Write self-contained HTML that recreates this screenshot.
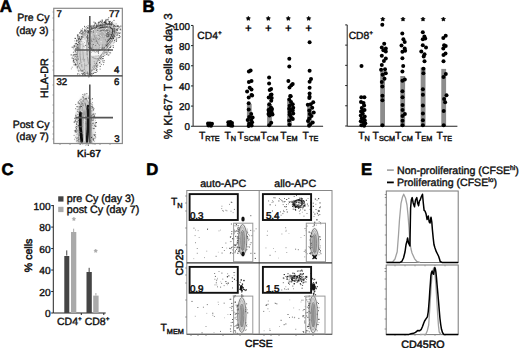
<!DOCTYPE html>
<html><head><meta charset="utf-8"><style>
html,body{margin:0;padding:0;background:#fff;width:520px;height:348px;overflow:hidden}
svg{display:block;font-family:"Liberation Sans",sans-serif;text-rendering:geometricPrecision}
</style></head><body>
<svg width="520" height="348" viewBox="0 0 520 348">
<defs>
<filter id="b05" x="-50%" y="-50%" width="200%" height="200%"><feGaussianBlur stdDeviation="0.5"/></filter>
<filter id="b1" x="-50%" y="-50%" width="200%" height="200%"><feGaussianBlur stdDeviation="1"/></filter>
<filter id="b2" x="-50%" y="-50%" width="200%" height="200%"><feGaussianBlur stdDeviation="2"/></filter>
</defs>
<rect width="520" height="348" fill="#fff"/>
<text x="-0.2" y="12.4" font-size="17" font-weight="bold" text-anchor="start" fill="#000" style="stroke:#000;stroke-width:0.6px" >A</text>
<text x="49.4" y="21.1" font-size="10.5" font-weight="normal" text-anchor="end" fill="#111" style="stroke:#111;stroke-width:0.4px" >Pre Cy</text>
<text x="48.6" y="34.2" font-size="10.5" font-weight="normal" text-anchor="end" fill="#111" style="stroke:#111;stroke-width:0.4px" >(day 3)</text>
<text x="49.4" y="127.7" font-size="10.5" font-weight="normal" text-anchor="end" fill="#111" style="stroke:#111;stroke-width:0.4px" >Post Cy</text>
<text x="48.8" y="139.9" font-size="10.5" font-weight="normal" text-anchor="end" fill="#111" style="stroke:#111;stroke-width:0.4px" >(day 7)</text>
<text transform="translate(48.2,78.1) rotate(-90)" font-size="10.7" font-weight="normal" text-anchor="middle" fill="#111" style="stroke:#111;stroke-width:0.45px">HLA-DR</text>
<text x="89" y="157" font-size="10.2" font-weight="normal" text-anchor="middle" fill="#111" style="stroke:#111;stroke-width:0.5px" >Ki-67</text>
<path d="M73.5,60.0 C73.4,56.7 74.8,50.7 75.5,47.0 C76.2,43.3 76.9,40.5 78.0,38.0 C79.1,35.5 80.3,33.7 82.0,32.0 C83.7,30.3 85.8,29.2 88.0,28.0 C90.2,26.8 92.5,25.9 95.0,25.0 C97.5,24.1 100.5,23.0 103.0,22.5 C105.5,22.0 107.9,21.8 110.0,22.0 C112.1,22.2 114.1,22.6 115.5,23.5 C116.9,24.4 118.1,25.8 118.5,27.5 C118.9,29.2 118.5,31.9 118.0,34.0 C117.5,36.1 116.6,38.0 115.5,40.0 C114.4,42.0 113.0,44.0 111.5,46.0 C110.0,48.0 108.1,50.0 106.5,52.0 C104.9,54.0 103.3,56.0 102.0,58.0 C100.7,60.0 99.7,62.0 98.5,64.0 C97.3,66.0 96.2,68.2 95.0,70.0 C93.8,71.8 92.7,73.7 91.0,74.5 C89.3,75.3 86.8,75.2 85.0,74.8 C83.2,74.4 81.5,73.3 80.0,72.0 C78.5,70.7 77.1,69.0 76.0,67.0 C74.9,65.0 73.6,63.3 73.5,60.0 Z" fill="#e2e2e2" stroke="none" stroke-width="1" opacity="1" stroke-linejoin="round" stroke-linecap="round" filter="url(#b1)"/>
<path d="M77.0,60.0 C77.0,56.8 77.8,50.5 78.5,47.0 C79.2,43.5 79.9,41.3 81.0,39.0 C82.1,36.7 83.3,34.7 85.0,33.0 C86.7,31.3 88.8,30.2 91.0,29.0 C93.2,27.8 95.7,26.8 98.0,26.0 C100.3,25.2 102.8,24.3 105.0,24.0 C107.2,23.7 109.3,23.7 111.0,24.0 C112.7,24.3 114.2,24.8 115.0,26.0 C115.8,27.2 116.2,29.2 116.0,31.0 C115.8,32.8 115.0,34.8 114.0,37.0 C113.0,39.2 111.5,41.8 110.0,44.0 C108.5,46.2 106.6,48.0 105.0,50.0 C103.4,52.0 101.8,54.0 100.5,56.0 C99.2,58.0 98.2,59.8 97.0,62.0 C95.8,64.2 94.8,67.2 93.5,69.0 C92.2,70.8 90.9,72.3 89.5,73.0 C88.1,73.7 86.4,73.5 85.0,73.0 C83.6,72.5 82.1,71.2 81.0,70.0 C79.9,68.8 79.2,67.7 78.5,66.0 C77.8,64.3 77.0,63.2 77.0,60.0 Z" fill="#d2d2d2" stroke="none" stroke-width="1" opacity="1" stroke-linejoin="round" stroke-linecap="round" filter="url(#b05)"/>
<path d="M88.0,32.0 C89.2,30.2 92.5,28.7 95.0,27.5 C97.5,26.3 100.5,25.5 103.0,25.0 C105.5,24.5 108.2,24.2 110.0,24.5 C111.8,24.8 113.2,25.8 114.0,27.0 C114.8,28.2 114.8,30.2 114.5,32.0 C114.2,33.8 113.1,36.0 112.0,38.0 C110.9,40.0 109.5,42.2 108.0,44.0 C106.5,45.8 104.8,47.3 103.0,48.5 C101.2,49.7 98.8,50.8 97.0,51.0 C95.2,51.2 93.3,51.0 92.0,50.0 C90.7,49.0 89.8,47.0 89.0,45.0 C88.2,43.0 87.7,40.2 87.5,38.0 C87.3,35.8 86.8,33.8 88.0,32.0 Z" fill="#c2c2c2" stroke="none" stroke-width="1" opacity="1" stroke-linejoin="round" stroke-linecap="round" filter="url(#b05)"/>
<ellipse cx="106" cy="33" rx="7" ry="5" transform="rotate(-25 106 33)" fill="#b0b0b0" opacity="1" filter="url(#b05)"/>
<ellipse cx="107.8" cy="34.5" rx="1.8" ry="2.8" transform="rotate(0 107.8 34.5)" fill="#666" opacity="1" filter="url(#b05)"/>
<path d="M81.5,41 C83,39 85.5,39 86,42 L86.5,50 C85,52 82.5,52 81.5,50 Z" fill="#f4f4f4" stroke="none" stroke-width="1" opacity="1" stroke-linejoin="round" stroke-linecap="round" filter="url(#b05)"/>
<path d="M91,51.5 C96,50.5 101,50.5 104.5,49.5 L103,54.5 C99,55.5 94,56 91,55.5 Z" fill="#f6f6f6" stroke="none" stroke-width="1" opacity="1" stroke-linejoin="round" stroke-linecap="round" filter="url(#b05)"/>
<path d="M77.0,60.0 C77.0,56.8 77.8,50.5 78.5,47.0 C79.2,43.5 79.9,41.3 81.0,39.0 C82.1,36.7 83.3,34.7 85.0,33.0 C86.7,31.3 88.8,30.2 91.0,29.0 C93.2,27.8 95.7,26.8 98.0,26.0 C100.3,25.2 102.8,24.3 105.0,24.0 C107.2,23.7 109.3,23.7 111.0,24.0 C112.7,24.3 114.2,24.8 115.0,26.0 C115.8,27.2 116.2,29.2 116.0,31.0 C115.8,32.8 115.0,34.8 114.0,37.0 C113.0,39.2 111.5,41.8 110.0,44.0 C108.5,46.2 106.6,48.0 105.0,50.0 C103.4,52.0 101.8,54.0 100.5,56.0 C99.2,58.0 98.2,59.8 97.0,62.0 C95.8,64.2 94.8,67.2 93.5,69.0 C92.2,70.8 90.9,72.3 89.5,73.0 C88.1,73.7 86.4,73.5 85.0,73.0 C83.6,72.5 82.1,71.2 81.0,70.0 C79.9,68.8 79.2,67.7 78.5,66.0 C77.8,64.3 77.0,63.2 77.0,60.0 Z" fill="none" stroke="#7a7a7a" stroke-width="0.7" opacity="1" stroke-linejoin="round" stroke-linecap="round"/>
<path d="M88.0,32.0 C89.2,30.2 92.5,28.7 95.0,27.5 C97.5,26.3 100.5,25.5 103.0,25.0 C105.5,24.5 108.2,24.2 110.0,24.5 C111.8,24.8 113.2,25.8 114.0,27.0 C114.8,28.2 114.8,30.2 114.5,32.0 C114.2,33.8 113.1,36.0 112.0,38.0 C110.9,40.0 109.5,42.2 108.0,44.0 C106.5,45.8 104.8,47.3 103.0,48.5 C101.2,49.7 98.8,50.8 97.0,51.0 C95.2,51.2 93.3,51.0 92.0,50.0 C90.7,49.0 89.8,47.0 89.0,45.0 C88.2,43.0 87.7,40.2 87.5,38.0 C87.3,35.8 86.8,33.8 88.0,32.0 Z" fill="none" stroke="#555" stroke-width="0.9" opacity="1" stroke-linejoin="round" stroke-linecap="round"/>
<path d="M98,28.5 C104,26.5 110,26.5 112.5,29 C113.5,33 111,38 107,42" fill="none" stroke="#444" stroke-width="1.1" opacity="1" stroke-linejoin="round" stroke-linecap="round"/>
<path d="M100,31 C104,29.5 108,29.5 110,31.5" fill="none" stroke="#555" stroke-width="0.9" opacity="1" stroke-linejoin="round" stroke-linecap="round"/>
<path d="M94,35 C96,40 98,44 100,46" fill="none" stroke="#888" stroke-width="0.7" opacity="1" stroke-linejoin="round" stroke-linecap="round"/>
<path d="M80,44 C79.5,52 80,60 82,67" fill="none" stroke="#888" stroke-width="0.7" opacity="1" stroke-linejoin="round" stroke-linecap="round"/>
<path d="M83,42 C82.5,50 83,58 85,66" fill="none" stroke="#999" stroke-width="0.7" opacity="1" stroke-linejoin="round" stroke-linecap="round"/>
<path d="M87,40 C86.5,48 87,56 88.5,64" fill="none" stroke="#888" stroke-width="0.7" opacity="1" stroke-linejoin="round" stroke-linecap="round"/>
<path d="M92,57 C96,60 100,59.5 103,56" fill="none" stroke="#888" stroke-width="0.7" opacity="1" stroke-linejoin="round" stroke-linecap="round"/>
<rect x="99.0" y="22.4" width="0.7" height="0.7" fill="#333"/><rect x="105.4" y="20.4" width="0.7" height="0.7" fill="#555"/><rect x="75.3" y="54.5" width="0.7" height="0.7" fill="#999"/><rect x="74.9" y="51.1" width="0.9" height="0.9" fill="#555"/><rect x="107.8" y="49.1" width="0.9" height="0.9" fill="#333"/><rect x="75.3" y="63.2" width="0.7" height="0.7" fill="#555"/><rect x="94.3" y="25.0" width="0.8" height="0.8" fill="#555"/><rect x="75.7" y="44.5" width="0.9" height="0.9" fill="#555"/><rect x="106.6" y="23.2" width="0.7" height="0.7" fill="#555"/><rect x="117.6" y="32.1" width="0.9" height="0.9" fill="#777"/><rect x="119.5" y="26.7" width="0.8" height="0.8" fill="#555"/><rect x="101.2" y="57.2" width="0.8" height="0.8" fill="#777"/><rect x="118.8" y="37.0" width="0.8" height="0.8" fill="#333"/><rect x="79.2" y="43.1" width="0.9" height="0.9" fill="#777"/><rect x="79.0" y="38.0" width="1.0" height="1.0" fill="#777"/><rect x="101.8" y="23.1" width="0.8" height="0.8" fill="#999"/><rect x="110.0" y="41.5" width="1.1" height="1.1" fill="#999"/><rect x="102.8" y="58.0" width="0.7" height="0.7" fill="#777"/><rect x="109.3" y="53.7" width="0.8" height="0.8" fill="#999"/><rect x="83.1" y="73.2" width="0.8" height="0.8" fill="#999"/><rect x="104.1" y="24.4" width="0.8" height="0.8" fill="#777"/><rect x="78.9" y="41.2" width="0.8" height="0.8" fill="#999"/><rect x="80.4" y="70.1" width="0.9" height="0.9" fill="#777"/><rect x="83.5" y="73.6" width="1.0" height="1.0" fill="#777"/><rect x="103.7" y="60.1" width="0.9" height="0.9" fill="#555"/><rect x="78.7" y="38.0" width="0.8" height="0.8" fill="#555"/><rect x="108.4" y="54.9" width="0.8" height="0.8" fill="#777"/><rect x="73.6" y="59.4" width="0.9" height="0.9" fill="#777"/><rect x="109.9" y="46.8" width="1.0" height="1.0" fill="#333"/><rect x="118.1" y="26.0" width="1.0" height="1.0" fill="#999"/><rect x="109.9" y="24.1" width="0.9" height="0.9" fill="#555"/><rect x="74.0" y="49.7" width="0.8" height="0.8" fill="#555"/><rect x="77.4" y="43.9" width="0.9" height="0.9" fill="#333"/><rect x="76.8" y="66.7" width="0.9" height="0.9" fill="#333"/><rect x="85.1" y="73.6" width="0.8" height="0.8" fill="#777"/><rect x="110.4" y="45.7" width="0.9" height="0.9" fill="#333"/><rect x="88.4" y="76.5" width="0.9" height="0.9" fill="#333"/><rect x="78.2" y="38.7" width="1.0" height="1.0" fill="#777"/><rect x="117.2" y="29.4" width="0.8" height="0.8" fill="#777"/><rect x="80.3" y="38.9" width="0.9" height="0.9" fill="#333"/><rect x="96.6" y="65.0" width="0.7" height="0.7" fill="#777"/><rect x="119.6" y="36.2" width="1.1" height="1.1" fill="#777"/><rect x="93.5" y="65.6" width="0.8" height="0.8" fill="#555"/><rect x="109.4" y="47.0" width="1.0" height="1.0" fill="#555"/><rect x="94.3" y="72.3" width="0.8" height="0.8" fill="#999"/><rect x="104.2" y="25.6" width="0.7" height="0.7" fill="#333"/><rect x="93.8" y="69.0" width="0.9" height="0.9" fill="#777"/><rect x="116.7" y="25.3" width="1.1" height="1.1" fill="#777"/><rect x="76.9" y="66.0" width="0.8" height="0.8" fill="#555"/><rect x="101.2" y="22.3" width="0.9" height="0.9" fill="#333"/><rect x="116.1" y="29.4" width="0.7" height="0.7" fill="#333"/><rect x="82.3" y="69.9" width="1.0" height="1.0" fill="#555"/><rect x="119.5" y="29.4" width="0.8" height="0.8" fill="#999"/><rect x="120.4" y="25.6" width="1.0" height="1.0" fill="#333"/><rect x="100.3" y="61.3" width="0.8" height="0.8" fill="#999"/><rect x="93.9" y="72.1" width="0.8" height="0.8" fill="#999"/><rect x="104.5" y="51.8" width="0.8" height="0.8" fill="#333"/><rect x="95.4" y="72.0" width="1.0" height="1.0" fill="#333"/><rect x="118.4" y="37.1" width="1.0" height="1.0" fill="#555"/><rect x="75.3" y="56.0" width="0.8" height="0.8" fill="#555"/><rect x="95.9" y="65.6" width="1.0" height="1.0" fill="#333"/><rect x="78.5" y="73.0" width="0.8" height="0.8" fill="#999"/><rect x="105.9" y="53.8" width="1.0" height="1.0" fill="#555"/><rect x="114.4" y="36.3" width="0.9" height="0.9" fill="#333"/><rect x="84.7" y="74.8" width="1.0" height="1.0" fill="#555"/><rect x="82.4" y="36.6" width="0.9" height="0.9" fill="#333"/><rect x="114.0" y="39.9" width="0.9" height="0.9" fill="#333"/><rect x="82.5" y="75.4" width="0.7" height="0.7" fill="#555"/><rect x="92.7" y="26.0" width="0.9" height="0.9" fill="#333"/><rect x="114.4" y="26.3" width="0.9" height="0.9" fill="#555"/><rect x="100.6" y="55.6" width="0.9" height="0.9" fill="#555"/><rect x="102.4" y="58.1" width="1.1" height="1.1" fill="#777"/><rect x="78.1" y="70.8" width="0.9" height="0.9" fill="#999"/><rect x="78.0" y="42.2" width="0.9" height="0.9" fill="#333"/><rect x="103.4" y="53.6" width="0.8" height="0.8" fill="#333"/><rect x="81.4" y="73.1" width="0.8" height="0.8" fill="#777"/><rect x="74.5" y="37.9" width="0.8" height="0.8" fill="#333"/><rect x="109.5" y="25.6" width="0.9" height="0.9" fill="#555"/><rect x="81.1" y="37.7" width="0.8" height="0.8" fill="#555"/><rect x="104.1" y="21.8" width="0.7" height="0.7" fill="#777"/><rect x="76.2" y="57.4" width="0.7" height="0.7" fill="#777"/><rect x="116.6" y="34.8" width="0.8" height="0.8" fill="#333"/><rect x="75.7" y="42.9" width="1.1" height="1.1" fill="#333"/><rect x="91.5" y="27.6" width="0.7" height="0.7" fill="#555"/><rect x="91.3" y="25.4" width="1.1" height="1.1" fill="#777"/><rect x="111.9" y="21.3" width="0.9" height="0.9" fill="#999"/><rect x="102.2" y="58.2" width="1.0" height="1.0" fill="#999"/><rect x="81.8" y="73.0" width="0.8" height="0.8" fill="#333"/><rect x="108.0" y="50.1" width="1.0" height="1.0" fill="#333"/><rect x="91.3" y="27.7" width="0.7" height="0.7" fill="#333"/><rect x="102.9" y="27.1" width="0.8" height="0.8" fill="#555"/><rect x="76.2" y="53.8" width="1.0" height="1.0" fill="#333"/><rect x="75.4" y="64.3" width="1.1" height="1.1" fill="#777"/><rect x="117.5" y="37.5" width="0.8" height="0.8" fill="#999"/><rect x="118.6" y="32.7" width="0.7" height="0.7" fill="#777"/><rect x="73.1" y="54.3" width="0.7" height="0.7" fill="#555"/><rect x="117.5" y="34.7" width="1.0" height="1.0" fill="#999"/><rect x="107.4" y="53.8" width="0.9" height="0.9" fill="#999"/><rect x="75.7" y="64.0" width="0.8" height="0.8" fill="#555"/><rect x="90.9" y="75.4" width="1.0" height="1.0" fill="#555"/><rect x="111.2" y="23.0" width="0.8" height="0.8" fill="#333"/><rect x="109.1" y="49.2" width="1.1" height="1.1" fill="#999"/><rect x="76.9" y="34.5" width="1.0" height="1.0" fill="#777"/><rect x="112.8" y="46.8" width="1.0" height="1.0" fill="#333"/><rect x="118.6" y="26.2" width="0.8" height="0.8" fill="#777"/><rect x="73.6" y="64.4" width="0.9" height="0.9" fill="#555"/><rect x="73.6" y="54.7" width="0.8" height="0.8" fill="#777"/><rect x="108.0" y="23.3" width="0.9" height="0.9" fill="#555"/><rect x="88.7" y="27.9" width="1.0" height="1.0" fill="#555"/><rect x="110.3" y="23.3" width="0.7" height="0.7" fill="#333"/><rect x="96.1" y="25.5" width="1.1" height="1.1" fill="#555"/><rect x="105.2" y="52.3" width="1.0" height="1.0" fill="#999"/><rect x="96.5" y="66.1" width="0.8" height="0.8" fill="#555"/><rect x="77.0" y="53.8" width="1.0" height="1.0" fill="#999"/><rect x="99.5" y="62.5" width="0.9" height="0.9" fill="#333"/><rect x="90.6" y="73.1" width="0.9" height="0.9" fill="#555"/><rect x="73.2" y="46.9" width="1.1" height="1.1" fill="#999"/><rect x="90.3" y="74.9" width="0.9" height="0.9" fill="#333"/><rect x="107.9" y="48.4" width="0.7" height="0.7" fill="#333"/><rect x="96.3" y="63.2" width="0.9" height="0.9" fill="#333"/><rect x="107.7" y="54.6" width="0.8" height="0.8" fill="#333"/><rect x="88.8" y="75.6" width="0.8" height="0.8" fill="#555"/><rect x="87.3" y="30.3" width="1.0" height="1.0" fill="#333"/><rect x="116.3" y="29.4" width="1.0" height="1.0" fill="#333"/><rect x="109.2" y="47.6" width="0.8" height="0.8" fill="#777"/><rect x="105.7" y="51.6" width="1.0" height="1.0" fill="#555"/><rect x="72.7" y="58.0" width="1.0" height="1.0" fill="#555"/><rect x="104.4" y="55.2" width="0.8" height="0.8" fill="#777"/><rect x="117.4" y="28.1" width="1.1" height="1.1" fill="#555"/><rect x="97.6" y="24.3" width="0.7" height="0.7" fill="#999"/><rect x="77.6" y="57.9" width="1.1" height="1.1" fill="#999"/><rect x="73.2" y="61.1" width="0.9" height="0.9" fill="#555"/><rect x="72.9" y="48.5" width="0.8" height="0.8" fill="#777"/><rect x="76.0" y="39.9" width="1.0" height="1.0" fill="#777"/><rect x="83.2" y="73.0" width="1.1" height="1.1" fill="#999"/><rect x="110.0" y="23.6" width="0.8" height="0.8" fill="#999"/><rect x="101.4" y="54.1" width="0.9" height="0.9" fill="#999"/><rect x="97.8" y="22.6" width="1.0" height="1.0" fill="#333"/><rect x="99.9" y="24.9" width="1.1" height="1.1" fill="#555"/><rect x="102.2" y="60.4" width="1.1" height="1.1" fill="#777"/><rect x="88.8" y="26.1" width="1.0" height="1.0" fill="#333"/><rect x="104.8" y="21.9" width="0.9" height="0.9" fill="#777"/><rect x="87.5" y="74.3" width="1.0" height="1.0" fill="#555"/><rect x="88.7" y="27.4" width="0.8" height="0.8" fill="#777"/><rect x="84.5" y="34.8" width="1.1" height="1.1" fill="#999"/><rect x="77.1" y="73.4" width="1.1" height="1.1" fill="#555"/><rect x="102.8" y="61.9" width="0.9" height="0.9" fill="#555"/><rect x="107.6" y="51.7" width="0.8" height="0.8" fill="#333"/><rect x="80.8" y="70.8" width="0.9" height="0.9" fill="#777"/><rect x="95.8" y="25.4" width="1.0" height="1.0" fill="#777"/><rect x="111.6" y="22.6" width="1.0" height="1.0" fill="#333"/><rect x="78.0" y="34.6" width="0.8" height="0.8" fill="#555"/><rect x="118.7" y="32.8" width="0.9" height="0.9" fill="#777"/><rect x="76.1" y="59.7" width="0.9" height="0.9" fill="#555"/><rect x="115.5" y="39.4" width="0.9" height="0.9" fill="#777"/><rect x="87.0" y="27.6" width="0.8" height="0.8" fill="#555"/><rect x="83.0" y="73.3" width="0.9" height="0.9" fill="#555"/><rect x="107.4" y="24.5" width="0.8" height="0.8" fill="#333"/><rect x="116.2" y="32.3" width="1.0" height="1.0" fill="#555"/><rect x="76.8" y="46.4" width="1.1" height="1.1" fill="#999"/><rect x="109.4" y="26.8" width="1.0" height="1.0" fill="#333"/><rect x="75.9" y="40.7" width="0.9" height="0.9" fill="#999"/><rect x="76.1" y="64.2" width="1.1" height="1.1" fill="#999"/><rect x="75.2" y="63.9" width="0.8" height="0.8" fill="#333"/><rect x="84.1" y="27.5" width="0.7" height="0.7" fill="#999"/><rect x="71.7" y="46.7" width="1.0" height="1.0" fill="#333"/><rect x="95.9" y="68.9" width="1.0" height="1.0" fill="#777"/><rect x="71.7" y="66.7" width="1.0" height="1.0" fill="#999"/><rect x="102.3" y="58.0" width="0.9" height="0.9" fill="#555"/><rect x="108.9" y="21.9" width="0.8" height="0.8" fill="#333"/><rect x="74.7" y="58.6" width="1.1" height="1.1" fill="#555"/><rect x="120.1" y="29.1" width="0.8" height="0.8" fill="#555"/><rect x="76.8" y="56.0" width="0.7" height="0.7" fill="#555"/><rect x="119.3" y="32.5" width="1.0" height="1.0" fill="#999"/><rect x="75.4" y="47.8" width="0.8" height="0.8" fill="#999"/><rect x="72.6" y="54.6" width="0.8" height="0.8" fill="#999"/><rect x="105.1" y="22.8" width="0.8" height="0.8" fill="#333"/><rect x="83.3" y="31.4" width="1.1" height="1.1" fill="#777"/><rect x="97.3" y="66.8" width="0.8" height="0.8" fill="#777"/><rect x="74.8" y="43.3" width="0.9" height="0.9" fill="#555"/><rect x="83.8" y="69.0" width="0.7" height="0.7" fill="#555"/><rect x="78.7" y="70.5" width="0.7" height="0.7" fill="#333"/><rect x="74.7" y="63.7" width="0.7" height="0.7" fill="#999"/><rect x="117.2" y="25.4" width="1.0" height="1.0" fill="#777"/><rect x="103.0" y="64.3" width="0.8" height="0.8" fill="#555"/><rect x="106.0" y="52.0" width="0.9" height="0.9" fill="#999"/><rect x="75.5" y="55.4" width="0.8" height="0.8" fill="#777"/><rect x="114.9" y="25.8" width="0.7" height="0.7" fill="#333"/><rect x="94.3" y="28.7" width="0.7" height="0.7" fill="#555"/><rect x="107.5" y="18.7" width="1.0" height="1.0" fill="#777"/><rect x="91.3" y="72.9" width="0.9" height="0.9" fill="#777"/><rect x="116.0" y="38.6" width="0.9" height="0.9" fill="#777"/><rect x="105.3" y="22.3" width="0.9" height="0.9" fill="#999"/><rect x="75.0" y="54.0" width="0.7" height="0.7" fill="#333"/><rect x="94.5" y="71.9" width="0.7" height="0.7" fill="#777"/><rect x="105.1" y="22.2" width="0.8" height="0.8" fill="#333"/><rect x="90.9" y="27.5" width="0.8" height="0.8" fill="#333"/><rect x="98.7" y="59.8" width="0.9" height="0.9" fill="#333"/><rect x="74.1" y="56.4" width="1.1" height="1.1" fill="#999"/><rect x="96.7" y="70.7" width="1.1" height="1.1" fill="#999"/><rect x="77.9" y="40.4" width="1.1" height="1.1" fill="#777"/><rect x="91.6" y="73.3" width="1.0" height="1.0" fill="#555"/><rect x="100.3" y="24.5" width="1.0" height="1.0" fill="#333"/><rect x="119.0" y="35.0" width="0.9" height="0.9" fill="#555"/><rect x="88.5" y="27.6" width="0.9" height="0.9" fill="#777"/><rect x="79.1" y="36.5" width="0.9" height="0.9" fill="#333"/><rect x="74.5" y="61.6" width="0.7" height="0.7" fill="#999"/><rect x="73.6" y="61.8" width="1.1" height="1.1" fill="#555"/><rect x="88.3" y="30.9" width="1.0" height="1.0" fill="#333"/><rect x="96.8" y="69.0" width="0.8" height="0.8" fill="#777"/><rect x="112.2" y="40.6" width="0.8" height="0.8" fill="#555"/><rect x="79.5" y="32.2" width="0.8" height="0.8" fill="#777"/><rect x="84.1" y="72.3" width="0.9" height="0.9" fill="#555"/><rect x="116.9" y="33.7" width="0.8" height="0.8" fill="#333"/><rect x="106.7" y="52.7" width="0.9" height="0.9" fill="#555"/><rect x="89.6" y="74.2" width="1.1" height="1.1" fill="#333"/><rect x="84.3" y="74.2" width="0.9" height="0.9" fill="#555"/><rect x="77.7" y="69.7" width="0.8" height="0.8" fill="#555"/><rect x="116.6" y="25.8" width="1.1" height="1.1" fill="#333"/><rect x="110.1" y="52.4" width="1.0" height="1.0" fill="#777"/><rect x="85.3" y="31.0" width="0.8" height="0.8" fill="#777"/><rect x="73.9" y="54.2" width="1.0" height="1.0" fill="#555"/><rect x="93.1" y="73.0" width="0.8" height="0.8" fill="#777"/><rect x="77.3" y="48.6" width="0.7" height="0.7" fill="#999"/><rect x="116.2" y="39.7" width="0.9" height="0.9" fill="#555"/><rect x="107.6" y="50.7" width="0.7" height="0.7" fill="#555"/><rect x="110.1" y="23.1" width="1.0" height="1.0" fill="#999"/><rect x="70.9" y="68.5" width="0.8" height="0.8" fill="#777"/><rect x="113.5" y="19.9" width="1.0" height="1.0" fill="#555"/><rect x="109.3" y="22.0" width="0.9" height="0.9" fill="#333"/><rect x="115.8" y="23.5" width="0.7" height="0.7" fill="#777"/><rect x="118.4" y="26.6" width="0.8" height="0.8" fill="#333"/><rect x="72.9" y="52.0" width="0.9" height="0.9" fill="#777"/><rect x="101.2" y="64.1" width="0.8" height="0.8" fill="#777"/><rect x="95.4" y="29.8" width="0.7" height="0.7" fill="#999"/><rect x="97.2" y="64.6" width="1.0" height="1.0" fill="#555"/><rect x="96.2" y="24.6" width="1.1" height="1.1" fill="#777"/><rect x="75.5" y="52.1" width="1.1" height="1.1" fill="#999"/><rect x="76.5" y="47.2" width="1.1" height="1.1" fill="#555"/><rect x="107.0" y="46.6" width="0.9" height="0.9" fill="#555"/><rect x="91.4" y="74.4" width="0.9" height="0.9" fill="#555"/><rect x="108.2" y="21.2" width="0.7" height="0.7" fill="#555"/><rect x="74.8" y="64.3" width="1.1" height="1.1" fill="#333"/><rect x="103.8" y="53.2" width="0.8" height="0.8" fill="#999"/><rect x="109.3" y="44.2" width="0.8" height="0.8" fill="#999"/><rect x="97.4" y="25.4" width="0.8" height="0.8" fill="#999"/><rect x="104.0" y="51.7" width="0.7" height="0.7" fill="#999"/><rect x="118.8" y="27.2" width="0.9" height="0.9" fill="#999"/><rect x="90.2" y="75.0" width="0.7" height="0.7" fill="#777"/><rect x="114.6" y="25.4" width="0.7" height="0.7" fill="#999"/><rect x="117.5" y="33.3" width="0.8" height="0.8" fill="#777"/><rect x="95.4" y="67.8" width="0.9" height="0.9" fill="#333"/><rect x="99.7" y="65.8" width="1.0" height="1.0" fill="#333"/><rect x="87.0" y="72.7" width="1.1" height="1.1" fill="#333"/><rect x="80.2" y="31.2" width="1.1" height="1.1" fill="#555"/><rect x="102.8" y="56.0" width="1.0" height="1.0" fill="#555"/><rect x="77.2" y="50.5" width="0.8" height="0.8" fill="#777"/><rect x="79.4" y="74.3" width="0.9" height="0.9" fill="#777"/><rect x="118.9" y="33.1" width="0.8" height="0.8" fill="#555"/><rect x="99.0" y="24.7" width="0.7" height="0.7" fill="#555"/><rect x="110.9" y="23.6" width="0.8" height="0.8" fill="#999"/><rect x="80.9" y="36.2" width="1.0" height="1.0" fill="#333"/><rect x="99.6" y="68.6" width="1.1" height="1.1" fill="#999"/><rect x="115.9" y="40.9" width="0.9" height="0.9" fill="#333"/><rect x="90.8" y="31.1" width="1.0" height="1.0" fill="#777"/><rect x="91.4" y="27.8" width="1.1" height="1.1" fill="#555"/><rect x="104.7" y="22.5" width="0.8" height="0.8" fill="#333"/><rect x="96.1" y="27.1" width="0.9" height="0.9" fill="#777"/><rect x="109.3" y="52.1" width="1.0" height="1.0" fill="#777"/><rect x="99.0" y="62.0" width="1.0" height="1.0" fill="#555"/><rect x="79.6" y="38.9" width="0.9" height="0.9" fill="#333"/><rect x="78.9" y="40.8" width="0.8" height="0.8" fill="#333"/><rect x="72.6" y="56.4" width="0.7" height="0.7" fill="#777"/><rect x="116.3" y="37.5" width="0.9" height="0.9" fill="#777"/><rect x="112.7" y="45.0" width="0.9" height="0.9" fill="#555"/><rect x="71.6" y="57.5" width="1.0" height="1.0" fill="#555"/><rect x="117.7" y="25.3" width="1.0" height="1.0" fill="#777"/><rect x="111.0" y="22.2" width="0.8" height="0.8" fill="#333"/><rect x="73.4" y="51.4" width="0.9" height="0.9" fill="#999"/><rect x="108.2" y="43.8" width="0.9" height="0.9" fill="#999"/><rect x="88.6" y="27.5" width="0.9" height="0.9" fill="#999"/><rect x="81.7" y="33.6" width="0.8" height="0.8" fill="#333"/><rect x="78.3" y="58.8" width="0.8" height="0.8" fill="#555"/><rect x="115.9" y="34.7" width="1.0" height="1.0" fill="#999"/><rect x="93.1" y="72.8" width="0.8" height="0.8" fill="#333"/><rect x="72.7" y="61.2" width="1.0" height="1.0" fill="#999"/><rect x="103.7" y="61.7" width="1.0" height="1.0" fill="#999"/><rect x="75.5" y="48.0" width="1.0" height="1.0" fill="#555"/><rect x="85.4" y="28.8" width="0.7" height="0.7" fill="#777"/><rect x="82.0" y="73.8" width="1.1" height="1.1" fill="#777"/><rect x="100.6" y="59.2" width="0.9" height="0.9" fill="#777"/><rect x="94.7" y="22.9" width="1.1" height="1.1" fill="#555"/><rect x="76.9" y="47.4" width="1.1" height="1.1" fill="#555"/><rect x="76.9" y="67.5" width="1.0" height="1.0" fill="#777"/><rect x="83.6" y="33.8" width="0.9" height="0.9" fill="#999"/><rect x="119.8" y="28.6" width="0.9" height="0.9" fill="#333"/><rect x="86.9" y="71.6" width="0.9" height="0.9" fill="#777"/><rect x="95.9" y="70.1" width="0.9" height="0.9" fill="#333"/><rect x="114.3" y="41.7" width="0.7" height="0.7" fill="#555"/><rect x="102.4" y="22.6" width="0.8" height="0.8" fill="#333"/><rect x="72.8" y="55.2" width="0.7" height="0.7" fill="#333"/><rect x="100.7" y="63.7" width="0.7" height="0.7" fill="#777"/><rect x="81.4" y="30.1" width="1.0" height="1.0" fill="#999"/><rect x="77.3" y="44.3" width="0.8" height="0.8" fill="#333"/><rect x="70.7" y="54.4" width="1.0" height="1.0" fill="#333"/><rect x="90.4" y="72.7" width="1.0" height="1.0" fill="#777"/><rect x="120.3" y="29.4" width="1.0" height="1.0" fill="#777"/><rect x="98.0" y="21.8" width="0.9" height="0.9" fill="#333"/><rect x="103.3" y="22.2" width="1.0" height="1.0" fill="#777"/><rect x="96.2" y="66.8" width="0.9" height="0.9" fill="#999"/><rect x="87.9" y="74.0" width="0.9" height="0.9" fill="#999"/><rect x="116.8" y="35.1" width="0.7" height="0.7" fill="#999"/><rect x="100.3" y="57.8" width="1.0" height="1.0" fill="#333"/><rect x="113.1" y="42.6" width="0.8" height="0.8" fill="#999"/><rect x="72.9" y="59.7" width="1.1" height="1.1" fill="#333"/><rect x="102.0" y="19.9" width="0.7" height="0.7" fill="#555"/><rect x="79.2" y="63.2" width="0.9" height="0.9" fill="#555"/><rect x="94.8" y="28.3" width="0.8" height="0.8" fill="#555"/><rect x="119.9" y="32.6" width="0.7" height="0.7" fill="#333"/><rect x="109.8" y="50.3" width="0.8" height="0.8" fill="#999"/>
<rect x="106.5" y="19.3" width="0.9" height="0.9" fill="#777"/><rect x="76.4" y="46.0" width="0.8" height="0.8" fill="#555"/><rect x="84.8" y="30.0" width="1.1" height="1.1" fill="#777"/><rect x="78.3" y="36.3" width="0.9" height="0.9" fill="#777"/><rect x="91.6" y="26.2" width="0.7" height="0.7" fill="#777"/><rect x="82.0" y="33.6" width="0.8" height="0.8" fill="#555"/><rect x="94.3" y="24.3" width="0.9" height="0.9" fill="#555"/><rect x="91.0" y="26.6" width="0.8" height="0.8" fill="#555"/><rect x="93.6" y="25.1" width="0.8" height="0.8" fill="#777"/><rect x="102.2" y="23.5" width="0.9" height="0.9" fill="#777"/><rect x="76.5" y="39.7" width="0.9" height="0.9" fill="#333"/><rect x="77.0" y="35.3" width="1.1" height="1.1" fill="#555"/><rect x="108.8" y="21.2" width="1.1" height="1.1" fill="#333"/><rect x="77.6" y="38.1" width="0.8" height="0.8" fill="#333"/><rect x="100.3" y="22.5" width="0.8" height="0.8" fill="#777"/><rect x="105.9" y="22.9" width="0.8" height="0.8" fill="#555"/><rect x="84.1" y="25.9" width="0.9" height="0.9" fill="#333"/><rect x="87.0" y="27.2" width="1.0" height="1.0" fill="#555"/><rect x="74.9" y="45.8" width="0.7" height="0.7" fill="#333"/><rect x="105.5" y="18.9" width="0.9" height="0.9" fill="#777"/><rect x="91.7" y="27.2" width="1.0" height="1.0" fill="#777"/><rect x="104.5" y="23.7" width="1.0" height="1.0" fill="#777"/><rect x="90.8" y="25.6" width="0.7" height="0.7" fill="#555"/><rect x="79.3" y="32.5" width="1.0" height="1.0" fill="#333"/><rect x="105.0" y="21.3" width="1.0" height="1.0" fill="#333"/><rect x="77.2" y="34.6" width="0.9" height="0.9" fill="#555"/><rect x="73.7" y="45.5" width="1.0" height="1.0" fill="#333"/><rect x="105.1" y="22.8" width="0.8" height="0.8" fill="#333"/><rect x="85.1" y="33.6" width="0.7" height="0.7" fill="#777"/><rect x="77.4" y="36.6" width="1.0" height="1.0" fill="#333"/><rect x="87.5" y="25.4" width="0.9" height="0.9" fill="#777"/><rect x="85.5" y="27.0" width="0.7" height="0.7" fill="#555"/><rect x="89.4" y="29.7" width="0.8" height="0.8" fill="#777"/><rect x="75.0" y="37.9" width="0.9" height="0.9" fill="#333"/><rect x="97.8" y="24.8" width="0.8" height="0.8" fill="#555"/><rect x="84.0" y="31.1" width="0.7" height="0.7" fill="#555"/><rect x="106.1" y="22.8" width="0.9" height="0.9" fill="#333"/><rect x="79.2" y="37.4" width="1.0" height="1.0" fill="#777"/><rect x="108.3" y="17.3" width="0.9" height="0.9" fill="#333"/><rect x="76.3" y="40.9" width="1.0" height="1.0" fill="#777"/><rect x="78.4" y="38.4" width="1.0" height="1.0" fill="#333"/><rect x="82.7" y="32.5" width="1.0" height="1.0" fill="#555"/><rect x="86.2" y="28.6" width="0.8" height="0.8" fill="#555"/><rect x="80.5" y="29.6" width="1.0" height="1.0" fill="#555"/><rect x="96.7" y="25.1" width="1.0" height="1.0" fill="#555"/><rect x="78.4" y="47.7" width="1.0" height="1.0" fill="#555"/><rect x="82.0" y="31.7" width="0.9" height="0.9" fill="#777"/><rect x="93.6" y="25.7" width="1.0" height="1.0" fill="#555"/><rect x="76.9" y="40.0" width="0.7" height="0.7" fill="#777"/><rect x="105.4" y="19.9" width="1.0" height="1.0" fill="#333"/><rect x="89.0" y="27.7" width="1.0" height="1.0" fill="#333"/><rect x="107.6" y="19.5" width="1.0" height="1.0" fill="#555"/><rect x="92.9" y="27.6" width="0.8" height="0.8" fill="#555"/><rect x="82.1" y="32.5" width="0.8" height="0.8" fill="#555"/><rect x="99.6" y="20.9" width="0.9" height="0.9" fill="#333"/><rect x="93.4" y="21.6" width="1.1" height="1.1" fill="#777"/><rect x="102.0" y="21.0" width="0.9" height="0.9" fill="#777"/><rect x="101.6" y="19.6" width="1.0" height="1.0" fill="#333"/><rect x="89.7" y="26.3" width="0.8" height="0.8" fill="#555"/><rect x="89.3" y="25.2" width="0.9" height="0.9" fill="#333"/><rect x="96.0" y="23.6" width="0.9" height="0.9" fill="#777"/><rect x="73.8" y="46.2" width="1.0" height="1.0" fill="#555"/><rect x="96.2" y="24.9" width="0.9" height="0.9" fill="#555"/><rect x="84.0" y="29.5" width="1.1" height="1.1" fill="#333"/><rect x="78.1" y="39.0" width="0.7" height="0.7" fill="#333"/><rect x="94.7" y="22.3" width="1.1" height="1.1" fill="#555"/><rect x="100.4" y="20.8" width="1.0" height="1.0" fill="#333"/><rect x="74.0" y="44.9" width="1.0" height="1.0" fill="#777"/><rect x="74.4" y="40.5" width="0.8" height="0.8" fill="#777"/><rect x="89.1" y="25.1" width="1.1" height="1.1" fill="#555"/><rect x="85.5" y="30.5" width="1.0" height="1.0" fill="#555"/><rect x="81.0" y="30.4" width="0.9" height="0.9" fill="#555"/><rect x="87.4" y="27.5" width="1.1" height="1.1" fill="#777"/><rect x="85.9" y="26.1" width="0.7" height="0.7" fill="#333"/><rect x="80.7" y="33.2" width="1.0" height="1.0" fill="#333"/><rect x="82.1" y="28.4" width="0.9" height="0.9" fill="#555"/><rect x="88.7" y="25.3" width="0.7" height="0.7" fill="#333"/><rect x="101.3" y="21.6" width="0.9" height="0.9" fill="#777"/><rect x="77.1" y="44.5" width="0.9" height="0.9" fill="#333"/><rect x="92.7" y="24.9" width="1.0" height="1.0" fill="#777"/><rect x="104.1" y="21.0" width="1.0" height="1.0" fill="#777"/><rect x="98.7" y="22.6" width="0.7" height="0.7" fill="#333"/><rect x="103.9" y="22.0" width="1.1" height="1.1" fill="#333"/><rect x="81.8" y="30.5" width="1.0" height="1.0" fill="#555"/><rect x="90.0" y="26.1" width="0.9" height="0.9" fill="#555"/><rect x="73.6" y="45.5" width="0.9" height="0.9" fill="#777"/><rect x="106.7" y="19.4" width="0.7" height="0.7" fill="#333"/><rect x="99.1" y="22.0" width="0.9" height="0.9" fill="#777"/><rect x="106.1" y="21.5" width="0.9" height="0.9" fill="#777"/><rect x="109.6" y="20.9" width="1.0" height="1.0" fill="#333"/>
<rect x="111.5" y="37.9" width="1.0" height="1.0" fill="#333"/><rect x="87.8" y="40.8" width="1.0" height="1.0" fill="#555"/><rect x="88.5" y="32.0" width="1.1" height="1.1" fill="#333"/><rect x="104.8" y="25.4" width="0.7" height="0.7" fill="#555"/><rect x="89.4" y="31.3" width="1.0" height="1.0" fill="#333"/><rect x="88.5" y="38.3" width="0.8" height="0.8" fill="#777"/><rect x="97.6" y="52.1" width="0.7" height="0.7" fill="#777"/><rect x="106.8" y="43.1" width="0.9" height="0.9" fill="#777"/><rect x="87.6" y="37.7" width="1.0" height="1.0" fill="#333"/><rect x="90.6" y="26.6" width="1.1" height="1.1" fill="#777"/><rect x="89.4" y="47.4" width="1.0" height="1.0" fill="#333"/><rect x="87.2" y="35.5" width="1.0" height="1.0" fill="#777"/><rect x="92.8" y="30.2" width="0.9" height="0.9" fill="#777"/><rect x="100.1" y="24.7" width="1.1" height="1.1" fill="#333"/><rect x="113.2" y="29.4" width="0.9" height="0.9" fill="#555"/><rect x="93.0" y="49.1" width="0.9" height="0.9" fill="#555"/><rect x="92.4" y="48.8" width="0.7" height="0.7" fill="#777"/><rect x="97.7" y="50.3" width="1.0" height="1.0" fill="#555"/><rect x="88.6" y="42.9" width="0.8" height="0.8" fill="#555"/><rect x="106.2" y="45.3" width="1.1" height="1.1" fill="#333"/><rect x="113.7" y="30.4" width="1.1" height="1.1" fill="#555"/><rect x="109.4" y="25.9" width="0.7" height="0.7" fill="#555"/><rect x="108.8" y="23.1" width="1.0" height="1.0" fill="#333"/><rect x="111.8" y="22.9" width="0.8" height="0.8" fill="#777"/><rect x="98.3" y="24.3" width="0.9" height="0.9" fill="#555"/><rect x="113.8" y="27.9" width="0.7" height="0.7" fill="#777"/><rect x="110.1" y="38.0" width="1.0" height="1.0" fill="#333"/><rect x="112.8" y="24.6" width="0.7" height="0.7" fill="#555"/><rect x="112.5" y="37.5" width="1.0" height="1.0" fill="#555"/><rect x="113.2" y="37.3" width="0.7" height="0.7" fill="#555"/><rect x="92.2" y="50.2" width="1.1" height="1.1" fill="#777"/><rect x="113.7" y="25.0" width="0.9" height="0.9" fill="#333"/><rect x="102.2" y="25.0" width="1.0" height="1.0" fill="#555"/><rect x="107.2" y="45.6" width="0.8" height="0.8" fill="#777"/><rect x="88.7" y="43.9" width="0.9" height="0.9" fill="#333"/><rect x="117.0" y="29.7" width="0.9" height="0.9" fill="#333"/><rect x="99.9" y="26.9" width="0.9" height="0.9" fill="#333"/><rect x="95.0" y="28.2" width="0.8" height="0.8" fill="#777"/><rect x="110.7" y="38.5" width="1.0" height="1.0" fill="#555"/><rect x="95.1" y="27.9" width="0.9" height="0.9" fill="#777"/><rect x="89.3" y="47.3" width="0.7" height="0.7" fill="#333"/><rect x="88.2" y="32.5" width="0.9" height="0.9" fill="#333"/><rect x="92.9" y="31.6" width="0.9" height="0.9" fill="#333"/><rect x="89.5" y="43.3" width="1.0" height="1.0" fill="#333"/><rect x="98.0" y="51.5" width="0.8" height="0.8" fill="#333"/><rect x="87.1" y="35.6" width="1.0" height="1.0" fill="#555"/><rect x="101.6" y="24.7" width="0.8" height="0.8" fill="#777"/><rect x="105.1" y="25.8" width="0.7" height="0.7" fill="#555"/><rect x="86.2" y="36.8" width="0.7" height="0.7" fill="#333"/><rect x="108.0" y="24.1" width="0.9" height="0.9" fill="#777"/><rect x="102.5" y="49.2" width="0.8" height="0.8" fill="#333"/><rect x="87.6" y="37.1" width="1.0" height="1.0" fill="#555"/><rect x="104.9" y="44.6" width="0.9" height="0.9" fill="#555"/><rect x="108.0" y="24.0" width="0.7" height="0.7" fill="#555"/><rect x="112.3" y="30.8" width="1.1" height="1.1" fill="#333"/><rect x="112.9" y="37.9" width="1.1" height="1.1" fill="#333"/><rect x="99.6" y="25.8" width="0.9" height="0.9" fill="#555"/><rect x="88.6" y="41.2" width="0.8" height="0.8" fill="#555"/><rect x="86.7" y="35.5" width="0.7" height="0.7" fill="#333"/><rect x="112.2" y="36.2" width="0.8" height="0.8" fill="#333"/><rect x="111.4" y="38.1" width="0.8" height="0.8" fill="#333"/><rect x="101.7" y="25.9" width="0.9" height="0.9" fill="#333"/><rect x="113.8" y="35.6" width="0.8" height="0.8" fill="#333"/><rect x="109.1" y="23.6" width="1.0" height="1.0" fill="#555"/><rect x="90.8" y="47.9" width="0.9" height="0.9" fill="#555"/><rect x="96.1" y="26.6" width="1.1" height="1.1" fill="#333"/><rect x="103.9" y="48.6" width="0.9" height="0.9" fill="#555"/><rect x="97.5" y="29.5" width="1.0" height="1.0" fill="#555"/><rect x="113.3" y="34.8" width="0.8" height="0.8" fill="#555"/><rect x="111.1" y="24.1" width="1.1" height="1.1" fill="#333"/><rect x="88.9" y="46.2" width="1.0" height="1.0" fill="#555"/><rect x="90.7" y="47.6" width="0.8" height="0.8" fill="#333"/><rect x="113.6" y="35.9" width="0.8" height="0.8" fill="#555"/><rect x="110.6" y="34.0" width="1.1" height="1.1" fill="#333"/><rect x="109.6" y="23.6" width="0.9" height="0.9" fill="#333"/><rect x="98.0" y="52.8" width="0.8" height="0.8" fill="#333"/><rect x="88.4" y="46.9" width="1.0" height="1.0" fill="#333"/><rect x="103.8" y="26.2" width="0.9" height="0.9" fill="#777"/><rect x="103.8" y="48.2" width="0.7" height="0.7" fill="#777"/><rect x="95.3" y="51.6" width="0.9" height="0.9" fill="#777"/>
<rect x="90.6" y="37.8" width="0.9" height="0.9" fill="#eee"/><rect x="80.5" y="44.1" width="0.9" height="0.9" fill="#999"/><rect x="111.0" y="37.0" width="0.7" height="0.7" fill="#aaa"/><rect x="78.4" y="58.4" width="0.8" height="0.8" fill="#777"/><rect x="90.9" y="69.7" width="1.0" height="1.0" fill="#777"/><rect x="81.7" y="59.0" width="0.9" height="0.9" fill="#aaa"/><rect x="105.5" y="45.9" width="0.6" height="0.6" fill="#fff"/><rect x="80.5" y="54.3" width="0.7" height="0.7" fill="#aaa"/><rect x="86.8" y="64.0" width="0.6" height="0.6" fill="#777"/><rect x="87.2" y="65.0" width="0.9" height="0.9" fill="#eee"/><rect x="97.4" y="58.4" width="0.6" height="0.6" fill="#777"/><rect x="105.0" y="26.2" width="0.6" height="0.6" fill="#eee"/><rect x="85.9" y="35.1" width="0.9" height="0.9" fill="#eee"/><rect x="106.1" y="32.1" width="0.9" height="0.9" fill="#eee"/><rect x="100.5" y="25.8" width="1.0" height="1.0" fill="#777"/><rect x="107.3" y="40.6" width="0.7" height="0.7" fill="#aaa"/><rect x="89.5" y="43.6" width="0.8" height="0.8" fill="#aaa"/><rect x="113.4" y="36.2" width="0.8" height="0.8" fill="#777"/><rect x="91.2" y="50.0" width="0.6" height="0.6" fill="#eee"/><rect x="84.8" y="56.8" width="0.7" height="0.7" fill="#eee"/><rect x="111.5" y="25.7" width="0.9" height="0.9" fill="#aaa"/><rect x="81.4" y="41.0" width="0.7" height="0.7" fill="#777"/><rect x="97.0" y="37.2" width="0.8" height="0.8" fill="#fff"/><rect x="87.7" y="60.1" width="0.9" height="0.9" fill="#aaa"/><rect x="99.2" y="55.9" width="0.7" height="0.7" fill="#aaa"/><rect x="95.0" y="50.9" width="0.8" height="0.8" fill="#eee"/><rect x="108.9" y="25.5" width="0.7" height="0.7" fill="#999"/><rect x="97.0" y="42.8" width="0.8" height="0.8" fill="#777"/><rect x="113.0" y="32.0" width="1.0" height="1.0" fill="#aaa"/><rect x="98.7" y="48.1" width="0.7" height="0.7" fill="#999"/><rect x="88.5" y="61.8" width="0.7" height="0.7" fill="#777"/><rect x="100.6" y="41.1" width="0.9" height="0.9" fill="#fff"/><rect x="92.1" y="45.6" width="0.9" height="0.9" fill="#777"/><rect x="93.3" y="56.7" width="0.7" height="0.7" fill="#999"/><rect x="106.6" y="47.3" width="0.9" height="0.9" fill="#999"/><rect x="93.1" y="29.1" width="0.8" height="0.8" fill="#fff"/><rect x="99.8" y="48.4" width="1.0" height="1.0" fill="#fff"/><rect x="82.8" y="65.6" width="0.7" height="0.7" fill="#fff"/><rect x="100.7" y="42.6" width="0.8" height="0.8" fill="#eee"/><rect x="88.2" y="41.3" width="0.7" height="0.7" fill="#fff"/><rect x="98.7" y="42.8" width="0.7" height="0.7" fill="#eee"/><rect x="91.8" y="38.7" width="0.8" height="0.8" fill="#999"/><rect x="94.0" y="42.5" width="0.7" height="0.7" fill="#aaa"/><rect x="89.6" y="65.3" width="0.9" height="0.9" fill="#aaa"/><rect x="85.0" y="44.9" width="1.0" height="1.0" fill="#777"/><rect x="111.9" y="38.7" width="0.8" height="0.8" fill="#aaa"/><rect x="97.2" y="49.3" width="0.9" height="0.9" fill="#eee"/><rect x="103.4" y="46.2" width="0.6" height="0.6" fill="#777"/><rect x="97.5" y="28.8" width="0.7" height="0.7" fill="#eee"/><rect x="93.4" y="43.7" width="0.9" height="0.9" fill="#fff"/><rect x="90.4" y="50.0" width="0.9" height="0.9" fill="#999"/><rect x="91.1" y="42.0" width="0.6" height="0.6" fill="#aaa"/><rect x="97.0" y="29.4" width="1.0" height="1.0" fill="#aaa"/><rect x="83.1" y="38.2" width="0.8" height="0.8" fill="#fff"/><rect x="79.3" y="51.7" width="0.6" height="0.6" fill="#fff"/><rect x="107.7" y="39.0" width="0.9" height="0.9" fill="#777"/><rect x="97.1" y="31.0" width="0.7" height="0.7" fill="#fff"/><rect x="106.6" y="29.2" width="0.6" height="0.6" fill="#999"/><rect x="95.2" y="45.1" width="0.9" height="0.9" fill="#777"/><rect x="114.0" y="27.1" width="0.7" height="0.7" fill="#fff"/><rect x="101.2" y="36.2" width="0.6" height="0.6" fill="#fff"/><rect x="110.3" y="39.4" width="1.0" height="1.0" fill="#eee"/><rect x="88.8" y="53.5" width="1.0" height="1.0" fill="#eee"/><rect x="115.2" y="27.3" width="0.9" height="0.9" fill="#fff"/><rect x="85.6" y="39.1" width="1.0" height="1.0" fill="#eee"/><rect x="91.2" y="40.4" width="0.9" height="0.9" fill="#aaa"/><rect x="81.8" y="64.5" width="0.7" height="0.7" fill="#999"/><rect x="92.1" y="46.9" width="0.7" height="0.7" fill="#eee"/><rect x="78.4" y="56.5" width="0.7" height="0.7" fill="#999"/><rect x="84.7" y="50.7" width="0.9" height="0.9" fill="#fff"/><rect x="94.3" y="65.0" width="0.9" height="0.9" fill="#999"/><rect x="91.3" y="34.6" width="0.8" height="0.8" fill="#fff"/><rect x="85.1" y="70.6" width="0.8" height="0.8" fill="#999"/><rect x="100.2" y="45.6" width="1.0" height="1.0" fill="#fff"/><rect x="86.6" y="53.8" width="0.7" height="0.7" fill="#777"/><rect x="103.4" y="28.5" width="0.9" height="0.9" fill="#eee"/><rect x="78.1" y="59.2" width="0.7" height="0.7" fill="#777"/><rect x="83.9" y="65.7" width="0.7" height="0.7" fill="#777"/><rect x="84.5" y="59.2" width="0.6" height="0.6" fill="#aaa"/><rect x="81.9" y="59.1" width="0.7" height="0.7" fill="#eee"/><rect x="83.9" y="42.0" width="0.9" height="0.9" fill="#aaa"/><rect x="112.0" y="25.2" width="0.9" height="0.9" fill="#eee"/><rect x="86.7" y="65.5" width="0.7" height="0.7" fill="#777"/><rect x="104.8" y="26.0" width="0.6" height="0.6" fill="#999"/><rect x="93.8" y="61.1" width="0.7" height="0.7" fill="#777"/><rect x="98.5" y="54.8" width="1.0" height="1.0" fill="#fff"/><rect x="104.9" y="36.5" width="0.8" height="0.8" fill="#fff"/><rect x="81.3" y="62.8" width="0.7" height="0.7" fill="#aaa"/><rect x="106.2" y="28.2" width="0.9" height="0.9" fill="#eee"/><rect x="85.6" y="49.8" width="0.7" height="0.7" fill="#eee"/><rect x="94.3" y="40.7" width="0.8" height="0.8" fill="#eee"/><rect x="96.8" y="57.2" width="0.7" height="0.7" fill="#fff"/><rect x="96.1" y="33.3" width="1.0" height="1.0" fill="#fff"/><rect x="87.2" y="50.8" width="1.0" height="1.0" fill="#999"/><rect x="98.2" y="36.2" width="0.6" height="0.6" fill="#aaa"/><rect x="101.8" y="30.7" width="0.9" height="0.9" fill="#eee"/><rect x="103.1" y="35.7" width="0.7" height="0.7" fill="#fff"/><rect x="104.0" y="30.5" width="0.9" height="0.9" fill="#aaa"/><rect x="82.2" y="58.7" width="0.8" height="0.8" fill="#999"/><rect x="90.0" y="64.0" width="0.8" height="0.8" fill="#999"/><rect x="103.4" y="31.6" width="1.0" height="1.0" fill="#eee"/><rect x="109.4" y="29.6" width="0.7" height="0.7" fill="#aaa"/><rect x="111.9" y="38.9" width="0.6" height="0.6" fill="#aaa"/><rect x="94.5" y="29.5" width="0.7" height="0.7" fill="#eee"/><rect x="99.2" y="38.2" width="0.8" height="0.8" fill="#777"/><rect x="106.3" y="28.1" width="0.9" height="0.9" fill="#fff"/><rect x="87.3" y="55.6" width="1.0" height="1.0" fill="#eee"/><rect x="84.4" y="50.6" width="0.6" height="0.6" fill="#777"/><rect x="86.8" y="36.1" width="0.7" height="0.7" fill="#777"/><rect x="82.7" y="42.0" width="1.0" height="1.0" fill="#fff"/><rect x="83.6" y="62.4" width="0.9" height="0.9" fill="#fff"/><rect x="89.7" y="33.0" width="0.9" height="0.9" fill="#aaa"/><rect x="81.2" y="63.3" width="1.0" height="1.0" fill="#eee"/><rect x="96.3" y="48.5" width="0.7" height="0.7" fill="#aaa"/><rect x="100.5" y="54.7" width="0.7" height="0.7" fill="#999"/><rect x="83.4" y="45.7" width="1.0" height="1.0" fill="#777"/><rect x="95.7" y="34.7" width="0.7" height="0.7" fill="#777"/><rect x="107.7" y="44.8" width="0.7" height="0.7" fill="#777"/><rect x="97.1" y="44.6" width="0.7" height="0.7" fill="#eee"/><rect x="83.9" y="59.5" width="0.8" height="0.8" fill="#777"/><rect x="94.3" y="51.6" width="0.7" height="0.7" fill="#999"/><rect x="95.3" y="50.6" width="0.8" height="0.8" fill="#eee"/><rect x="108.6" y="26.9" width="0.9" height="0.9" fill="#fff"/><rect x="102.7" y="51.7" width="0.8" height="0.8" fill="#aaa"/><rect x="95.7" y="55.7" width="0.7" height="0.7" fill="#aaa"/><rect x="97.7" y="55.1" width="0.9" height="0.9" fill="#999"/><rect x="103.5" y="45.9" width="0.6" height="0.6" fill="#fff"/><rect x="91.5" y="52.5" width="0.8" height="0.8" fill="#fff"/><rect x="86.4" y="45.6" width="0.7" height="0.7" fill="#999"/><rect x="84.0" y="67.6" width="0.8" height="0.8" fill="#777"/><rect x="85.6" y="65.0" width="0.9" height="0.9" fill="#999"/><rect x="97.7" y="36.3" width="0.8" height="0.8" fill="#fff"/><rect x="94.9" y="50.5" width="0.9" height="0.9" fill="#fff"/><rect x="108.2" y="30.6" width="0.8" height="0.8" fill="#fff"/><rect x="105.1" y="29.0" width="0.9" height="0.9" fill="#eee"/><rect x="84.5" y="47.3" width="0.6" height="0.6" fill="#aaa"/><rect x="107.3" y="26.8" width="0.7" height="0.7" fill="#aaa"/><rect x="78.6" y="58.4" width="1.0" height="1.0" fill="#eee"/><rect x="88.7" y="58.7" width="0.8" height="0.8" fill="#777"/><rect x="111.0" y="32.2" width="0.9" height="0.9" fill="#aaa"/><rect x="86.3" y="49.1" width="0.8" height="0.8" fill="#aaa"/><rect x="105.1" y="26.1" width="0.8" height="0.8" fill="#777"/><rect x="90.9" y="40.0" width="0.8" height="0.8" fill="#777"/><rect x="86.9" y="33.5" width="0.8" height="0.8" fill="#fff"/><rect x="94.2" y="62.8" width="0.8" height="0.8" fill="#777"/><rect x="108.2" y="33.1" width="0.8" height="0.8" fill="#aaa"/><rect x="86.8" y="72.9" width="0.9" height="0.9" fill="#aaa"/><rect x="90.4" y="31.4" width="0.8" height="0.8" fill="#777"/><rect x="108.2" y="25.7" width="0.7" height="0.7" fill="#fff"/><rect x="92.3" y="47.3" width="0.7" height="0.7" fill="#eee"/><rect x="92.3" y="66.8" width="0.8" height="0.8" fill="#777"/><rect x="91.1" y="49.9" width="0.7" height="0.7" fill="#999"/><rect x="100.0" y="26.1" width="0.7" height="0.7" fill="#aaa"/><rect x="105.4" y="40.2" width="0.8" height="0.8" fill="#aaa"/><rect x="89.3" y="40.4" width="0.8" height="0.8" fill="#999"/><rect x="82.7" y="56.9" width="0.7" height="0.7" fill="#aaa"/><rect x="90.9" y="52.1" width="0.8" height="0.8" fill="#999"/><rect x="91.2" y="37.8" width="0.9" height="0.9" fill="#999"/><rect x="103.6" y="38.9" width="0.9" height="0.9" fill="#aaa"/><rect x="96.8" y="55.1" width="0.7" height="0.7" fill="#fff"/>
<rect x="106.8" y="33.4" width="0.9" height="0.9" fill="#999"/><rect x="101.1" y="48.2" width="0.9" height="0.9" fill="#999"/><rect x="91.6" y="29.9" width="1.0" height="1.0" fill="#eee"/><rect x="98.4" y="35.0" width="0.9" height="0.9" fill="#777"/><rect x="103.3" y="28.3" width="0.9" height="0.9" fill="#999"/><rect x="107.1" y="39.1" width="1.0" height="1.0" fill="#999"/><rect x="95.7" y="33.9" width="0.8" height="0.8" fill="#eee"/><rect x="110.1" y="33.0" width="0.7" height="0.7" fill="#999"/><rect x="102.3" y="44.6" width="0.9" height="0.9" fill="#777"/><rect x="106.5" y="30.3" width="0.8" height="0.8" fill="#777"/><rect x="111.6" y="32.0" width="0.8" height="0.8" fill="#555"/><rect x="92.8" y="43.9" width="1.0" height="1.0" fill="#555"/><rect x="89.6" y="46.0" width="1.0" height="1.0" fill="#999"/><rect x="94.8" y="41.5" width="0.6" height="0.6" fill="#999"/><rect x="112.4" y="30.1" width="0.7" height="0.7" fill="#555"/><rect x="105.0" y="35.2" width="0.9" height="0.9" fill="#999"/><rect x="92.2" y="47.4" width="0.9" height="0.9" fill="#555"/><rect x="104.4" y="33.4" width="0.8" height="0.8" fill="#eee"/><rect x="94.4" y="36.8" width="0.6" height="0.6" fill="#999"/><rect x="89.0" y="40.8" width="0.9" height="0.9" fill="#999"/><rect x="93.2" y="38.5" width="0.9" height="0.9" fill="#999"/><rect x="109.5" y="35.7" width="0.8" height="0.8" fill="#777"/><rect x="105.2" y="40.4" width="0.7" height="0.7" fill="#999"/><rect x="109.5" y="37.2" width="0.6" height="0.6" fill="#999"/><rect x="105.1" y="39.1" width="0.9" height="0.9" fill="#999"/><rect x="97.3" y="38.5" width="0.7" height="0.7" fill="#999"/><rect x="87.7" y="37.1" width="0.9" height="0.9" fill="#999"/><rect x="91.6" y="41.2" width="0.8" height="0.8" fill="#555"/><rect x="90.8" y="38.9" width="0.7" height="0.7" fill="#777"/><rect x="94.5" y="40.6" width="0.9" height="0.9" fill="#777"/><rect x="108.5" y="38.5" width="0.7" height="0.7" fill="#777"/><rect x="99.4" y="47.3" width="0.7" height="0.7" fill="#999"/><rect x="111.8" y="34.8" width="0.7" height="0.7" fill="#555"/><rect x="90.4" y="43.9" width="0.6" height="0.6" fill="#eee"/><rect x="105.7" y="33.8" width="0.7" height="0.7" fill="#eee"/><rect x="98.6" y="48.9" width="1.0" height="1.0" fill="#777"/><rect x="106.7" y="30.9" width="0.7" height="0.7" fill="#999"/><rect x="108.0" y="41.5" width="0.7" height="0.7" fill="#eee"/><rect x="93.3" y="39.6" width="0.7" height="0.7" fill="#999"/><rect x="113.3" y="28.1" width="0.7" height="0.7" fill="#555"/><rect x="96.5" y="37.4" width="1.0" height="1.0" fill="#777"/><rect x="96.1" y="40.7" width="1.0" height="1.0" fill="#777"/><rect x="103.1" y="47.9" width="0.7" height="0.7" fill="#999"/><rect x="99.4" y="36.0" width="0.7" height="0.7" fill="#999"/><rect x="91.6" y="48.7" width="0.7" height="0.7" fill="#999"/><rect x="91.6" y="44.0" width="0.6" height="0.6" fill="#777"/><rect x="100.0" y="35.0" width="0.8" height="0.8" fill="#eee"/><rect x="88.5" y="37.9" width="0.7" height="0.7" fill="#eee"/><rect x="106.4" y="43.8" width="0.6" height="0.6" fill="#999"/><rect x="93.5" y="38.8" width="0.9" height="0.9" fill="#555"/><rect x="101.8" y="46.7" width="1.0" height="1.0" fill="#555"/><rect x="96.9" y="30.2" width="1.0" height="1.0" fill="#777"/><rect x="107.2" y="31.7" width="0.7" height="0.7" fill="#999"/><rect x="94.8" y="50.1" width="0.7" height="0.7" fill="#555"/><rect x="98.5" y="39.3" width="0.7" height="0.7" fill="#555"/><rect x="99.8" y="32.0" width="0.7" height="0.7" fill="#eee"/><rect x="106.9" y="35.1" width="0.7" height="0.7" fill="#eee"/><rect x="97.8" y="28.5" width="0.9" height="0.9" fill="#eee"/><rect x="104.6" y="30.8" width="0.8" height="0.8" fill="#999"/><rect x="106.2" y="43.8" width="1.0" height="1.0" fill="#777"/>
<path d="M85.0,94.0 C86.1,94.0 87.4,95.2 88.5,96.5 C89.6,97.8 90.7,99.6 91.5,102.0 C92.3,104.4 93.0,107.8 93.5,111.0 C94.0,114.2 94.3,117.7 94.5,121.0 C94.7,124.3 94.7,127.4 94.5,131.0 C94.3,134.6 96.4,140.6 93.5,142.5 C90.6,144.4 79.9,144.4 77.0,142.5 C74.1,140.6 76.2,134.6 76.0,131.0 C75.8,127.4 75.7,124.3 75.8,121.0 C75.9,117.7 76.3,114.2 76.8,111.0 C77.3,107.8 78.1,104.4 79.0,102.0 C79.9,99.6 81.0,97.8 82.0,96.5 C83.0,95.2 83.9,94.0 85.0,94.0 Z" fill="#e0e0e0" stroke="none" stroke-width="1" opacity="1" stroke-linejoin="round" stroke-linecap="round" filter="url(#b1)"/>
<path d="M85.0,99.0 C86.0,99.0 87.1,100.0 88.0,101.5 C88.9,103.0 89.9,105.2 90.5,108.0 C91.1,110.8 91.3,114.3 91.5,118.0 C91.7,121.7 91.6,126.0 91.5,130.0 C91.4,134.0 93.0,140.0 91.0,142.0 C89.0,144.0 81.5,144.0 79.5,142.0 C77.5,140.0 79.1,134.0 79.0,130.0 C78.9,126.0 78.8,121.7 79.0,118.0 C79.2,114.3 79.5,110.8 80.0,108.0 C80.5,105.2 81.2,103.0 82.0,101.5 C82.8,100.0 84.0,99.0 85.0,99.0 Z" fill="#c8c8c8" stroke="none" stroke-width="1" opacity="1" stroke-linejoin="round" stroke-linecap="round" filter="url(#b05)"/>
<path d="M85.0,99.0 C86.0,99.0 87.1,100.0 88.0,101.5 C88.9,103.0 89.9,105.2 90.5,108.0 C91.1,110.8 91.3,114.3 91.5,118.0 C91.7,121.7 91.6,126.0 91.5,130.0 C91.4,134.0 93.0,140.0 91.0,142.0 C89.0,144.0 81.5,144.0 79.5,142.0 C77.5,140.0 79.1,134.0 79.0,130.0 C78.9,126.0 78.8,121.7 79.0,118.0 C79.2,114.3 79.5,110.8 80.0,108.0 C80.5,105.2 81.2,103.0 82.0,101.5 C82.8,100.0 84.0,99.0 85.0,99.0 Z" fill="none" stroke="#888" stroke-width="0.7" opacity="1" stroke-linejoin="round" stroke-linecap="round"/>
<ellipse cx="84.6" cy="126" rx="5.6" ry="16" transform="rotate(0 84.6 126)" fill="#a0a0a0" opacity="1" filter="url(#b1)"/>
<path d="M85,103 C86.5,108 87.5,113 87.8,118" fill="none" stroke="#777" stroke-width="1.0" opacity="1" stroke-linejoin="round" stroke-linecap="round"/>
<path d="M83,104 C82,110 81.5,116 81.5,120" fill="none" stroke="#999" stroke-width="0.8" opacity="1" stroke-linejoin="round" stroke-linecap="round"/>
<rect x="88.2" y="98.2" width="0.8" height="0.8" fill="#666"/><rect x="88.8" y="109.7" width="0.9" height="0.9" fill="#aaa"/><rect x="84.3" y="122.0" width="0.8" height="0.8" fill="#eee"/><rect x="85.3" y="122.7" width="1.0" height="1.0" fill="#888"/><rect x="91.2" y="132.4" width="0.9" height="0.9" fill="#aaa"/><rect x="89.1" y="113.1" width="0.8" height="0.8" fill="#aaa"/><rect x="77.1" y="132.7" width="0.9" height="0.9" fill="#aaa"/><rect x="80.7" y="134.8" width="0.9" height="0.9" fill="#aaa"/><rect x="85.6" y="117.1" width="0.7" height="0.7" fill="#888"/><rect x="77.0" y="130.7" width="0.7" height="0.7" fill="#888"/><rect x="85.7" y="133.4" width="0.7" height="0.7" fill="#888"/><rect x="78.7" y="126.1" width="0.7" height="0.7" fill="#666"/><rect x="81.8" y="111.5" width="0.9" height="0.9" fill="#eee"/><rect x="82.5" y="133.0" width="0.8" height="0.8" fill="#eee"/><rect x="88.2" y="107.3" width="0.7" height="0.7" fill="#eee"/><rect x="88.8" y="115.8" width="0.8" height="0.8" fill="#888"/><rect x="90.0" y="101.3" width="0.9" height="0.9" fill="#aaa"/><rect x="84.9" y="126.0" width="0.8" height="0.8" fill="#aaa"/><rect x="90.8" y="106.3" width="0.8" height="0.8" fill="#666"/><rect x="86.5" y="96.8" width="0.7" height="0.7" fill="#aaa"/><rect x="80.8" y="115.2" width="0.8" height="0.8" fill="#eee"/><rect x="91.9" y="103.8" width="0.8" height="0.8" fill="#aaa"/><rect x="87.4" y="112.0" width="0.6" height="0.6" fill="#eee"/><rect x="82.8" y="96.0" width="0.9" height="0.9" fill="#eee"/><rect x="83.9" y="123.5" width="0.7" height="0.7" fill="#888"/><rect x="83.0" y="122.1" width="1.0" height="1.0" fill="#888"/><rect x="94.1" y="135.3" width="0.8" height="0.8" fill="#666"/><rect x="88.2" y="110.0" width="0.6" height="0.6" fill="#eee"/><rect x="82.9" y="119.5" width="0.8" height="0.8" fill="#666"/><rect x="77.8" y="121.3" width="1.0" height="1.0" fill="#eee"/><rect x="83.6" y="117.0" width="1.0" height="1.0" fill="#eee"/><rect x="83.2" y="100.6" width="0.9" height="0.9" fill="#666"/><rect x="88.3" y="129.9" width="0.8" height="0.8" fill="#666"/><rect x="82.0" y="112.8" width="0.8" height="0.8" fill="#666"/><rect x="77.5" y="130.5" width="0.8" height="0.8" fill="#666"/><rect x="91.2" y="103.7" width="0.7" height="0.7" fill="#666"/><rect x="86.1" y="130.3" width="0.9" height="0.9" fill="#888"/><rect x="82.1" y="119.1" width="0.6" height="0.6" fill="#aaa"/><rect x="85.5" y="98.2" width="0.8" height="0.8" fill="#aaa"/><rect x="86.2" y="118.8" width="0.8" height="0.8" fill="#666"/><rect x="81.5" y="106.1" width="0.8" height="0.8" fill="#eee"/><rect x="91.8" y="106.5" width="0.7" height="0.7" fill="#666"/><rect x="79.7" y="125.6" width="1.0" height="1.0" fill="#eee"/><rect x="89.1" y="100.9" width="1.0" height="1.0" fill="#aaa"/><rect x="79.5" y="138.6" width="0.8" height="0.8" fill="#666"/><rect x="77.1" y="140.1" width="0.9" height="0.9" fill="#666"/><rect x="80.9" y="132.6" width="0.7" height="0.7" fill="#888"/><rect x="90.8" y="122.7" width="0.8" height="0.8" fill="#eee"/><rect x="79.6" y="103.9" width="0.7" height="0.7" fill="#666"/><rect x="76.7" y="135.8" width="0.6" height="0.6" fill="#eee"/><rect x="79.2" y="138.7" width="0.8" height="0.8" fill="#888"/><rect x="85.1" y="126.7" width="0.9" height="0.9" fill="#aaa"/><rect x="90.8" y="119.9" width="0.7" height="0.7" fill="#888"/><rect x="85.5" y="116.6" width="0.7" height="0.7" fill="#666"/><rect x="93.6" y="114.1" width="0.9" height="0.9" fill="#aaa"/><rect x="89.0" y="115.5" width="0.8" height="0.8" fill="#666"/><rect x="78.8" y="115.6" width="0.9" height="0.9" fill="#aaa"/><rect x="89.0" y="128.9" width="0.7" height="0.7" fill="#aaa"/><rect x="81.9" y="134.8" width="0.7" height="0.7" fill="#888"/><rect x="83.1" y="95.6" width="0.8" height="0.8" fill="#aaa"/><rect x="80.0" y="120.5" width="0.6" height="0.6" fill="#eee"/><rect x="82.0" y="113.5" width="0.6" height="0.6" fill="#aaa"/><rect x="78.1" y="138.8" width="1.0" height="1.0" fill="#666"/><rect x="81.2" y="110.9" width="0.9" height="0.9" fill="#eee"/><rect x="92.4" y="138.3" width="0.7" height="0.7" fill="#aaa"/><rect x="92.0" y="123.0" width="0.8" height="0.8" fill="#666"/><rect x="79.6" y="116.8" width="0.9" height="0.9" fill="#888"/><rect x="86.6" y="108.5" width="0.8" height="0.8" fill="#666"/><rect x="93.5" y="125.8" width="0.6" height="0.6" fill="#aaa"/><rect x="82.3" y="117.3" width="0.7" height="0.7" fill="#aaa"/><rect x="79.1" y="132.2" width="0.7" height="0.7" fill="#666"/><rect x="89.3" y="116.1" width="0.9" height="0.9" fill="#666"/><rect x="90.5" y="122.9" width="0.8" height="0.8" fill="#666"/><rect x="76.5" y="122.1" width="0.8" height="0.8" fill="#888"/><rect x="83.6" y="134.6" width="0.6" height="0.6" fill="#888"/><rect x="82.5" y="126.1" width="0.6" height="0.6" fill="#666"/><rect x="91.6" y="136.4" width="0.8" height="0.8" fill="#888"/><rect x="80.7" y="99.2" width="0.7" height="0.7" fill="#888"/><rect x="85.1" y="120.0" width="0.6" height="0.6" fill="#eee"/><rect x="80.4" y="121.6" width="0.6" height="0.6" fill="#aaa"/>
<path d="M80.3,113 C79.9,122 80.5,132 81.8,141.5" fill="none" stroke="#0a0a0a" stroke-width="2.8" opacity="1" stroke-linejoin="round" stroke-linecap="round" filter="url(#b05)"/>
<path d="M88.0,106 C88.5,118 88.2,130 86.9,141.5" fill="none" stroke="#151515" stroke-width="2.6" opacity="1" stroke-linejoin="round" stroke-linecap="round" filter="url(#b05)"/>
<path d="M84.3,116 C84.1,124 84.1,133 84.4,141" fill="none" stroke="#e8e8e8" stroke-width="1.2" opacity="1" stroke-linejoin="round" stroke-linecap="round"/>
<rect x="94.6" y="134.8" width="0.8" height="0.8" fill="#666"/><rect x="77.6" y="102.4" width="1.0" height="1.0" fill="#666"/><rect x="75.3" y="104.0" width="0.9" height="0.9" fill="#666"/><rect x="75.7" y="128.5" width="0.8" height="0.8" fill="#666"/><rect x="93.1" y="109.5" width="0.9" height="0.9" fill="#444"/><rect x="94.8" y="125.9" width="1.1" height="1.1" fill="#444"/><rect x="75.8" y="131.5" width="1.0" height="1.0" fill="#444"/><rect x="75.7" y="112.7" width="0.7" height="0.7" fill="#888"/><rect x="82.3" y="94.0" width="1.0" height="1.0" fill="#888"/><rect x="94.9" y="131.9" width="1.0" height="1.0" fill="#999"/><rect x="76.3" y="140.1" width="1.1" height="1.1" fill="#999"/><rect x="88.7" y="95.4" width="1.0" height="1.0" fill="#666"/><rect x="76.2" y="123.2" width="0.8" height="0.8" fill="#666"/><rect x="93.3" y="115.5" width="1.1" height="1.1" fill="#888"/><rect x="75.8" y="126.2" width="1.1" height="1.1" fill="#444"/><rect x="85.7" y="142.5" width="1.0" height="1.0" fill="#444"/><rect x="76.4" y="121.1" width="1.0" height="1.0" fill="#888"/><rect x="76.9" y="117.0" width="0.7" height="0.7" fill="#888"/><rect x="76.4" y="141.1" width="1.0" height="1.0" fill="#999"/><rect x="91.3" y="107.7" width="1.0" height="1.0" fill="#888"/><rect x="78.8" y="103.1" width="1.0" height="1.0" fill="#666"/><rect x="93.1" y="140.0" width="1.0" height="1.0" fill="#888"/><rect x="77.4" y="121.4" width="1.0" height="1.0" fill="#444"/><rect x="82.8" y="97.2" width="1.0" height="1.0" fill="#888"/><rect x="75.2" y="121.2" width="0.9" height="0.9" fill="#666"/><rect x="78.7" y="106.5" width="0.9" height="0.9" fill="#444"/><rect x="94.4" y="137.8" width="1.0" height="1.0" fill="#888"/><rect x="78.9" y="112.5" width="0.9" height="0.9" fill="#444"/><rect x="93.2" y="118.4" width="1.0" height="1.0" fill="#999"/><rect x="78.3" y="116.4" width="0.7" height="0.7" fill="#999"/><rect x="74.1" y="138.8" width="0.9" height="0.9" fill="#999"/><rect x="77.5" y="138.4" width="0.9" height="0.9" fill="#888"/><rect x="80.0" y="143.6" width="0.9" height="0.9" fill="#444"/><rect x="95.1" y="125.9" width="0.7" height="0.7" fill="#888"/><rect x="94.8" y="113.4" width="0.9" height="0.9" fill="#666"/><rect x="91.5" y="105.9" width="1.0" height="1.0" fill="#444"/><rect x="95.1" y="135.9" width="0.8" height="0.8" fill="#666"/><rect x="93.4" y="134.2" width="0.8" height="0.8" fill="#999"/><rect x="93.4" y="127.9" width="1.0" height="1.0" fill="#666"/><rect x="75.0" y="108.1" width="1.1" height="1.1" fill="#999"/><rect x="82.2" y="143.3" width="1.1" height="1.1" fill="#999"/><rect x="77.7" y="142.5" width="1.0" height="1.0" fill="#888"/><rect x="73.9" y="130.1" width="1.0" height="1.0" fill="#999"/><rect x="92.5" y="107.4" width="1.0" height="1.0" fill="#888"/><rect x="74.4" y="131.3" width="0.9" height="0.9" fill="#888"/><rect x="95.1" y="134.2" width="1.0" height="1.0" fill="#999"/><rect x="80.2" y="99.5" width="1.0" height="1.0" fill="#999"/><rect x="93.8" y="134.4" width="1.1" height="1.1" fill="#444"/><rect x="77.4" y="106.4" width="0.9" height="0.9" fill="#888"/><rect x="76.2" y="121.1" width="1.1" height="1.1" fill="#999"/><rect x="88.2" y="96.7" width="1.1" height="1.1" fill="#888"/><rect x="93.5" y="108.3" width="0.9" height="0.9" fill="#444"/><rect x="84.3" y="93.6" width="1.1" height="1.1" fill="#666"/><rect x="96.0" y="125.8" width="0.9" height="0.9" fill="#999"/><rect x="79.7" y="142.0" width="1.1" height="1.1" fill="#999"/><rect x="86.3" y="142.8" width="1.1" height="1.1" fill="#888"/><rect x="76.1" y="128.3" width="0.9" height="0.9" fill="#444"/><rect x="75.5" y="116.0" width="0.8" height="0.8" fill="#666"/><rect x="94.1" y="115.1" width="0.8" height="0.8" fill="#666"/><rect x="76.4" y="129.4" width="1.1" height="1.1" fill="#888"/><rect x="82.3" y="96.0" width="1.0" height="1.0" fill="#888"/><rect x="93.3" y="128.0" width="1.1" height="1.1" fill="#666"/><rect x="75.3" y="136.7" width="1.0" height="1.0" fill="#888"/><rect x="93.3" y="137.9" width="0.9" height="0.9" fill="#999"/><rect x="95.3" y="122.9" width="0.9" height="0.9" fill="#999"/><rect x="73.6" y="134.9" width="1.0" height="1.0" fill="#888"/><rect x="88.7" y="97.5" width="1.0" height="1.0" fill="#999"/><rect x="74.2" y="120.8" width="0.8" height="0.8" fill="#888"/><rect x="77.8" y="125.1" width="1.0" height="1.0" fill="#444"/><rect x="95.9" y="122.0" width="1.0" height="1.0" fill="#444"/><rect x="81.6" y="142.1" width="0.9" height="0.9" fill="#888"/><rect x="93.4" y="122.7" width="0.8" height="0.8" fill="#444"/><rect x="76.5" y="106.1" width="1.0" height="1.0" fill="#444"/><rect x="79.0" y="99.9" width="0.8" height="0.8" fill="#666"/><rect x="82.9" y="97.5" width="1.0" height="1.0" fill="#999"/><rect x="78.4" y="110.8" width="1.0" height="1.0" fill="#888"/><rect x="92.7" y="138.6" width="1.0" height="1.0" fill="#666"/><rect x="81.6" y="142.5" width="0.9" height="0.9" fill="#888"/><rect x="92.4" y="107.2" width="0.9" height="0.9" fill="#444"/><rect x="76.8" y="109.1" width="1.0" height="1.0" fill="#999"/><rect x="92.9" y="139.1" width="1.0" height="1.0" fill="#666"/><rect x="92.7" y="109.3" width="1.0" height="1.0" fill="#666"/><rect x="85.4" y="144.7" width="1.0" height="1.0" fill="#999"/><rect x="79.6" y="106.5" width="0.8" height="0.8" fill="#999"/><rect x="76.6" y="137.6" width="0.9" height="0.9" fill="#888"/><rect x="76.1" y="138.2" width="1.1" height="1.1" fill="#888"/><rect x="90.1" y="102.9" width="1.0" height="1.0" fill="#888"/><rect x="85.4" y="98.2" width="0.9" height="0.9" fill="#444"/><rect x="76.9" y="110.8" width="1.0" height="1.0" fill="#666"/><rect x="91.7" y="142.6" width="0.9" height="0.9" fill="#999"/><rect x="77.1" y="140.2" width="0.9" height="0.9" fill="#999"/><rect x="91.9" y="104.6" width="0.8" height="0.8" fill="#888"/><rect x="82.7" y="97.2" width="0.9" height="0.9" fill="#666"/><rect x="94.3" y="124.7" width="1.1" height="1.1" fill="#444"/><rect x="95.3" y="117.6" width="0.8" height="0.8" fill="#888"/><rect x="91.9" y="98.3" width="1.0" height="1.0" fill="#444"/><rect x="78.1" y="140.7" width="0.9" height="0.9" fill="#666"/><rect x="75.1" y="131.2" width="1.1" height="1.1" fill="#444"/><rect x="75.3" y="114.7" width="1.1" height="1.1" fill="#444"/><rect x="76.5" y="134.1" width="0.9" height="0.9" fill="#999"/><rect x="90.9" y="141.7" width="0.9" height="0.9" fill="#888"/><rect x="78.4" y="137.0" width="0.7" height="0.7" fill="#666"/><rect x="95.2" y="124.8" width="0.9" height="0.9" fill="#999"/><rect x="74.1" y="117.8" width="1.0" height="1.0" fill="#666"/><rect x="75.4" y="118.4" width="1.0" height="1.0" fill="#888"/><rect x="73.7" y="121.6" width="1.1" height="1.1" fill="#444"/><rect x="90.1" y="99.2" width="1.0" height="1.0" fill="#888"/><rect x="78.6" y="142.7" width="1.0" height="1.0" fill="#888"/><rect x="84.3" y="94.8" width="0.8" height="0.8" fill="#888"/><rect x="94.0" y="141.2" width="0.7" height="0.7" fill="#999"/><rect x="77.5" y="118.7" width="0.8" height="0.8" fill="#999"/><rect x="87.1" y="144.6" width="0.7" height="0.7" fill="#888"/><rect x="78.7" y="116.2" width="0.8" height="0.8" fill="#444"/><rect x="82.1" y="142.9" width="0.8" height="0.8" fill="#999"/><rect x="94.0" y="116.1" width="1.1" height="1.1" fill="#888"/><rect x="80.5" y="98.7" width="1.1" height="1.1" fill="#999"/><rect x="76.2" y="118.4" width="1.1" height="1.1" fill="#999"/><rect x="91.9" y="107.4" width="0.7" height="0.7" fill="#666"/><rect x="76.2" y="123.9" width="1.0" height="1.0" fill="#444"/><rect x="89.7" y="142.4" width="0.7" height="0.7" fill="#444"/><rect x="78.3" y="108.7" width="0.9" height="0.9" fill="#666"/><rect x="86.5" y="93.4" width="0.8" height="0.8" fill="#888"/><rect x="95.4" y="136.8" width="0.8" height="0.8" fill="#666"/><rect x="92.6" y="143.6" width="0.9" height="0.9" fill="#999"/><rect x="77.8" y="120.0" width="1.0" height="1.0" fill="#666"/><rect x="92.9" y="138.6" width="1.0" height="1.0" fill="#666"/><rect x="78.5" y="125.1" width="0.9" height="0.9" fill="#444"/><rect x="78.4" y="102.5" width="0.9" height="0.9" fill="#444"/><rect x="75.1" y="127.2" width="0.7" height="0.7" fill="#666"/><rect x="78.9" y="134.8" width="1.0" height="1.0" fill="#444"/><rect x="95.1" y="119.9" width="0.7" height="0.7" fill="#999"/><rect x="88.8" y="98.0" width="0.8" height="0.8" fill="#666"/><rect x="74.5" y="118.1" width="0.9" height="0.9" fill="#999"/><rect x="95.0" y="122.4" width="0.8" height="0.8" fill="#444"/><rect x="87.9" y="144.6" width="1.1" height="1.1" fill="#444"/><rect x="93.2" y="113.5" width="1.0" height="1.0" fill="#666"/><rect x="77.2" y="137.1" width="1.1" height="1.1" fill="#999"/><rect x="77.9" y="101.1" width="0.7" height="0.7" fill="#444"/><rect x="78.8" y="143.2" width="0.9" height="0.9" fill="#444"/><rect x="77.3" y="126.5" width="1.0" height="1.0" fill="#888"/><rect x="90.5" y="141.7" width="0.8" height="0.8" fill="#666"/><rect x="78.2" y="112.0" width="1.0" height="1.0" fill="#999"/><rect x="93.5" y="116.1" width="1.0" height="1.0" fill="#444"/><rect x="78.6" y="137.4" width="0.7" height="0.7" fill="#888"/><rect x="75.2" y="129.9" width="1.1" height="1.1" fill="#444"/><rect x="92.0" y="102.0" width="0.8" height="0.8" fill="#888"/><rect x="74.9" y="119.7" width="1.1" height="1.1" fill="#666"/><rect x="86.5" y="93.3" width="0.7" height="0.7" fill="#444"/><rect x="75.9" y="129.2" width="0.9" height="0.9" fill="#999"/><rect x="80.3" y="101.5" width="0.9" height="0.9" fill="#666"/>
<rect x="80.8" y="105.9" width="1.1" height="1.1" fill="#444"/><rect x="80.8" y="125.9" width="0.7" height="0.7" fill="#888"/><rect x="92.3" y="110.6" width="0.7" height="0.7" fill="#888"/><rect x="82.4" y="103.6" width="0.9" height="0.9" fill="#888"/><rect x="91.2" y="110.6" width="0.7" height="0.7" fill="#666"/><rect x="88.3" y="107.5" width="0.9" height="0.9" fill="#888"/><rect x="80.5" y="132.0" width="1.0" height="1.0" fill="#666"/><rect x="91.7" y="124.8" width="0.8" height="0.8" fill="#666"/><rect x="81.5" y="141.3" width="0.8" height="0.8" fill="#666"/><rect x="85.8" y="98.3" width="1.0" height="1.0" fill="#444"/><rect x="79.6" y="108.4" width="0.7" height="0.7" fill="#666"/><rect x="89.9" y="140.0" width="0.8" height="0.8" fill="#444"/><rect x="81.6" y="142.6" width="0.9" height="0.9" fill="#888"/><rect x="79.2" y="131.3" width="0.8" height="0.8" fill="#666"/><rect x="82.7" y="104.9" width="1.0" height="1.0" fill="#888"/><rect x="91.3" y="118.6" width="0.8" height="0.8" fill="#444"/><rect x="79.5" y="126.2" width="1.1" height="1.1" fill="#888"/><rect x="91.2" y="141.4" width="1.0" height="1.0" fill="#888"/><rect x="81.8" y="102.9" width="0.8" height="0.8" fill="#444"/><rect x="90.8" y="106.2" width="1.0" height="1.0" fill="#888"/><rect x="92.9" y="123.3" width="0.9" height="0.9" fill="#888"/><rect x="88.8" y="104.5" width="0.7" height="0.7" fill="#666"/><rect x="91.8" y="127.8" width="0.7" height="0.7" fill="#666"/><rect x="89.4" y="104.8" width="0.9" height="0.9" fill="#888"/><rect x="86.0" y="143.5" width="0.8" height="0.8" fill="#666"/><rect x="90.9" y="115.1" width="0.7" height="0.7" fill="#666"/><rect x="91.0" y="137.0" width="1.1" height="1.1" fill="#444"/><rect x="80.2" y="111.4" width="0.9" height="0.9" fill="#666"/><rect x="77.5" y="114.1" width="0.8" height="0.8" fill="#444"/><rect x="78.7" y="117.2" width="1.0" height="1.0" fill="#666"/><rect x="79.0" y="135.2" width="0.7" height="0.7" fill="#888"/><rect x="79.4" y="131.5" width="0.8" height="0.8" fill="#666"/><rect x="91.5" y="115.3" width="1.1" height="1.1" fill="#666"/><rect x="91.9" y="122.8" width="0.7" height="0.7" fill="#888"/><rect x="91.7" y="119.7" width="1.0" height="1.0" fill="#444"/><rect x="81.2" y="103.9" width="0.8" height="0.8" fill="#888"/><rect x="77.9" y="125.3" width="0.8" height="0.8" fill="#666"/><rect x="92.4" y="113.8" width="1.0" height="1.0" fill="#444"/><rect x="79.6" y="106.3" width="1.1" height="1.1" fill="#444"/><rect x="93.0" y="119.7" width="0.8" height="0.8" fill="#444"/>
<rect x="53.75" y="8.3" width="68.6" height="135.2" fill="none" stroke="#8a8a8a" stroke-width="1.2" />
<line x1="53.75" y1="75.8" x2="122.4" y2="75.8" stroke="#333" stroke-width="1.3" />
<line x1="52.5" y1="12" x2="54" y2="12" stroke="#888" stroke-width="0.8" />
<line x1="52.5" y1="18" x2="54" y2="18" stroke="#888" stroke-width="0.8" />
<line x1="52.5" y1="30" x2="54" y2="30" stroke="#888" stroke-width="0.8" />
<line x1="52.5" y1="40" x2="54" y2="40" stroke="#888" stroke-width="0.8" />
<line x1="52.5" y1="52" x2="54" y2="52" stroke="#888" stroke-width="0.8" />
<line x1="52.5" y1="61" x2="54" y2="61" stroke="#888" stroke-width="0.8" />
<line x1="52.5" y1="66" x2="54" y2="66" stroke="#888" stroke-width="0.8" />
<line x1="52.5" y1="70" x2="54" y2="70" stroke="#888" stroke-width="0.8" />
<line x1="52.5" y1="85" x2="54" y2="85" stroke="#888" stroke-width="0.8" />
<line x1="52.5" y1="95" x2="54" y2="95" stroke="#888" stroke-width="0.8" />
<line x1="52.5" y1="105" x2="54" y2="105" stroke="#888" stroke-width="0.8" />
<line x1="52.5" y1="113" x2="54" y2="113" stroke="#888" stroke-width="0.8" />
<line x1="52.5" y1="121" x2="54" y2="121" stroke="#888" stroke-width="0.8" />
<line x1="52.5" y1="127" x2="54" y2="127" stroke="#888" stroke-width="0.8" />
<line x1="52.5" y1="134" x2="54" y2="134" stroke="#888" stroke-width="0.8" />
<line x1="52.5" y1="139" x2="54" y2="139" stroke="#888" stroke-width="0.8" />
<line x1="60" y1="143.5" x2="60" y2="145" stroke="#888" stroke-width="0.8" />
<line x1="70" y1="143.5" x2="70" y2="145" stroke="#888" stroke-width="0.8" />
<line x1="80" y1="143.5" x2="80" y2="145" stroke="#888" stroke-width="0.8" />
<line x1="95" y1="143.5" x2="95" y2="145" stroke="#888" stroke-width="0.8" />
<line x1="100" y1="143.5" x2="100" y2="145" stroke="#888" stroke-width="0.8" />
<line x1="110" y1="143.5" x2="110" y2="145" stroke="#888" stroke-width="0.8" />
<line x1="89.8" y1="16" x2="89.8" y2="75" stroke="#555" stroke-width="1.6" />
<line x1="75" y1="50" x2="113" y2="50" stroke="#555" stroke-width="1.6" />
<line x1="89.8" y1="84.5" x2="89.8" y2="142.5" stroke="#555" stroke-width="1.6" />
<line x1="75.4" y1="117.6" x2="113" y2="117.6" stroke="#555" stroke-width="1.6" />
<text x="56.6" y="17" font-size="9.6" font-weight="normal" text-anchor="start" fill="#111" style="stroke:#111;stroke-width:0.45px" >7</text>
<text x="119.6" y="17" font-size="9.6" font-weight="normal" text-anchor="end" fill="#111" style="stroke:#111;stroke-width:0.45px" >77</text>
<text x="119.4" y="73" font-size="9.6" font-weight="normal" text-anchor="end" fill="#111" style="stroke:#111;stroke-width:0.45px" >4</text>
<text x="56.4" y="84.8" font-size="9.6" font-weight="normal" text-anchor="start" fill="#111" style="stroke:#111;stroke-width:0.45px" >32</text>
<text x="119.4" y="84.8" font-size="9.6" font-weight="normal" text-anchor="end" fill="#111" style="stroke:#111;stroke-width:0.45px" >6</text>
<text x="119.6" y="141.6" font-size="9.6" font-weight="normal" text-anchor="end" fill="#111" style="stroke:#111;stroke-width:0.45px" >3</text>
<text x="142.6" y="12.2" font-size="16.8" font-weight="bold" text-anchor="start" fill="#000" style="stroke:#000;stroke-width:0.6px" >B</text>
<text transform="translate(171.9,76.3) rotate(-90)" font-size="11.6" text-anchor="middle" fill="#111" style="stroke:#111;stroke-width:0.4px">% KI-67<tspan font-size="7" dy="-4">+</tspan><tspan dy="4"> T cells at day 3</tspan></text>
<line x1="193.1" y1="25.5" x2="193.1" y2="126.25" stroke="#222" stroke-width="1" />
<line x1="193.1" y1="126.25" x2="323.1" y2="126.25" stroke="#222" stroke-width="1.15" />
<line x1="191" y1="126.25" x2="193.1" y2="126.25" stroke="#222" stroke-width="1" />
<text x="189.9" y="130.35" font-size="9.9" font-weight="normal" text-anchor="end" fill="#111" style="stroke:#111;stroke-width:0.4px" >0</text>
<line x1="191" y1="106.09" x2="193.1" y2="106.09" stroke="#222" stroke-width="1" />
<text x="189.9" y="110.19" font-size="9.9" font-weight="normal" text-anchor="end" fill="#111" style="stroke:#111;stroke-width:0.4px" >20</text>
<line x1="191" y1="85.93" x2="193.1" y2="85.93" stroke="#222" stroke-width="1" />
<text x="189.9" y="90.03" font-size="9.9" font-weight="normal" text-anchor="end" fill="#111" style="stroke:#111;stroke-width:0.4px" >40</text>
<line x1="191" y1="65.77" x2="193.1" y2="65.77" stroke="#222" stroke-width="1" />
<text x="189.9" y="69.86999999999999" font-size="9.9" font-weight="normal" text-anchor="end" fill="#111" style="stroke:#111;stroke-width:0.4px" >60</text>
<line x1="191" y1="45.61" x2="193.1" y2="45.61" stroke="#222" stroke-width="1" />
<text x="189.9" y="49.71" font-size="9.9" font-weight="normal" text-anchor="end" fill="#111" style="stroke:#111;stroke-width:0.4px" >80</text>
<line x1="191" y1="25.450000000000003" x2="193.1" y2="25.450000000000003" stroke="#222" stroke-width="1" />
<text x="189.9" y="29.550000000000004" font-size="9.9" font-weight="normal" text-anchor="end" fill="#111" style="stroke:#111;stroke-width:0.4px" >100</text>
<text x="197.3" y="38.6" font-size="10.3" font-weight="normal" text-anchor="start" fill="#111" style="stroke:#111;stroke-width:0.4px" >CD4<tspan font-size="6.5" dy="-4">+</tspan></text>
<rect x="246.9" y="103.8" width="4.8" height="22.450000000000003" fill="#8c8c8c" stroke="none" stroke-width="1" />
<rect x="267.1" y="104.0" width="4.8" height="22.25" fill="#8c8c8c" stroke="none" stroke-width="1" />
<rect x="287.1" y="100.4" width="4.8" height="25.849999999999994" fill="#8c8c8c" stroke="none" stroke-width="1" />
<rect x="307.1" y="105.8" width="4.8" height="20.450000000000003" fill="#8c8c8c" stroke="none" stroke-width="1" />
<circle cx="208" cy="123.5" r="2.0" fill="#000"/>
<circle cx="210" cy="123.5" r="2.0" fill="#000"/>
<circle cx="212" cy="123.8" r="2.0" fill="#000"/>
<circle cx="208.5" cy="125.5" r="2.0" fill="#000"/>
<circle cx="211" cy="125.8" r="2.0" fill="#000"/>
<circle cx="209.5" cy="124.5" r="2.0" fill="#000"/>
<circle cx="228.3" cy="122.3" r="2.0" fill="#000"/>
<circle cx="230.5" cy="122" r="2.0" fill="#000"/>
<circle cx="232" cy="123" r="2.0" fill="#000"/>
<circle cx="228.5" cy="125" r="2.0" fill="#000"/>
<circle cx="230.5" cy="125.5" r="2.0" fill="#000"/>
<circle cx="232.2" cy="125.8" r="2.0" fill="#000"/>
<circle cx="229.5" cy="124" r="2.0" fill="#000"/>
<circle cx="248.9" cy="71.4" r="2.0" fill="#000"/>
<circle cx="250.6" cy="70.6" r="2.0" fill="#000"/>
<circle cx="248.9" cy="82" r="2.0" fill="#000"/>
<circle cx="251.5" cy="81.1" r="2.0" fill="#000"/>
<circle cx="249.7" cy="87.8" r="2.0" fill="#000"/>
<circle cx="251.5" cy="89.4" r="2.0" fill="#000"/>
<circle cx="247.1" cy="91.5" r="2.0" fill="#000"/>
<circle cx="251.5" cy="94.9" r="2.0" fill="#000"/>
<circle cx="248.7" cy="97.4" r="2.0" fill="#000"/>
<circle cx="252.1" cy="95.5" r="2.0" fill="#000"/>
<circle cx="248.7" cy="103.3" r="2.0" fill="#000"/>
<circle cx="248.7" cy="109.6" r="2.0" fill="#000"/>
<circle cx="251.2" cy="114" r="2.0" fill="#000"/>
<circle cx="249.2" cy="117" r="2.0" fill="#000"/>
<circle cx="252.6" cy="117.5" r="2.0" fill="#000"/>
<circle cx="247.7" cy="119.9" r="2.0" fill="#000"/>
<circle cx="251.2" cy="119.9" r="2.0" fill="#000"/>
<circle cx="252.1" cy="122.3" r="2.0" fill="#000"/>
<circle cx="249.2" cy="123.8" r="2.0" fill="#000"/>
<circle cx="248.7" cy="126" r="2.0" fill="#000"/>
<circle cx="251.6" cy="125.6" r="2.0" fill="#000"/>
<circle cx="269.1" cy="77.4" r="2.0" fill="#000"/>
<circle cx="269.1" cy="83.6" r="2.0" fill="#000"/>
<circle cx="269.7" cy="89.9" r="2.0" fill="#000"/>
<circle cx="271.1" cy="88.9" r="2.0" fill="#000"/>
<circle cx="271.5" cy="94.5" r="2.0" fill="#000"/>
<circle cx="268.7" cy="97.4" r="2.0" fill="#000"/>
<circle cx="271.7" cy="97.9" r="2.0" fill="#000"/>
<circle cx="270.7" cy="95" r="2.0" fill="#000"/>
<circle cx="271.2" cy="100.8" r="2.0" fill="#000"/>
<circle cx="269.2" cy="104.3" r="2.0" fill="#000"/>
<circle cx="268.5" cy="110" r="2.0" fill="#000"/>
<circle cx="272" cy="109" r="2.0" fill="#000"/>
<circle cx="270" cy="112.5" r="2.0" fill="#000"/>
<circle cx="268.5" cy="114" r="2.0" fill="#000"/>
<circle cx="272" cy="113.5" r="2.0" fill="#000"/>
<circle cx="270.2" cy="111" r="2.0" fill="#000"/>
<circle cx="270.2" cy="109" r="2.0" fill="#000"/>
<circle cx="271.5" cy="111" r="2.0" fill="#000"/>
<circle cx="269" cy="111.5" r="2.0" fill="#000"/>
<circle cx="272.5" cy="114.5" r="2.0" fill="#000"/>
<circle cx="269.5" cy="115.5" r="2.0" fill="#000"/>
<circle cx="271" cy="107.5" r="2.0" fill="#000"/>
<circle cx="271.2" cy="122.8" r="2.0" fill="#000"/>
<circle cx="269.2" cy="125.3" r="2.0" fill="#000"/>
<circle cx="289.3" cy="58.8" r="2.0" fill="#000"/>
<circle cx="289.3" cy="66.4" r="2.0" fill="#000"/>
<circle cx="288.4" cy="81" r="2.0" fill="#000"/>
<circle cx="292.7" cy="84" r="2.0" fill="#000"/>
<circle cx="291.4" cy="85.3" r="2.0" fill="#000"/>
<circle cx="289.5" cy="87.6" r="2.0" fill="#000"/>
<circle cx="290.7" cy="96.2" r="2.0" fill="#000"/>
<circle cx="290.2" cy="96" r="2.0" fill="#000"/>
<circle cx="289.2" cy="99.4" r="2.0" fill="#000"/>
<circle cx="292.7" cy="104.3" r="2.0" fill="#000"/>
<circle cx="291" cy="102" r="2.0" fill="#000"/>
<circle cx="292" cy="110" r="2.0" fill="#000"/>
<circle cx="290.5" cy="116" r="2.0" fill="#000"/>
<circle cx="292.8" cy="119" r="2.0" fill="#000"/>
<circle cx="289.7" cy="105.8" r="2.0" fill="#000"/>
<circle cx="293.2" cy="107.7" r="2.0" fill="#000"/>
<circle cx="289.2" cy="108.7" r="2.0" fill="#000"/>
<circle cx="292.7" cy="110.6" r="2.0" fill="#000"/>
<circle cx="289.7" cy="112.1" r="2.0" fill="#000"/>
<circle cx="293.2" cy="113.6" r="2.0" fill="#000"/>
<circle cx="289.7" cy="114.5" r="2.0" fill="#000"/>
<circle cx="291.7" cy="118" r="2.0" fill="#000"/>
<circle cx="289.2" cy="120.4" r="2.0" fill="#000"/>
<circle cx="289.5" cy="124.8" r="2.0" fill="#000"/>
<circle cx="309.6" cy="42.3" r="2.0" fill="#000"/>
<circle cx="309.6" cy="70.8" r="2.0" fill="#000"/>
<circle cx="311" cy="78.9" r="2.0" fill="#000"/>
<circle cx="309.6" cy="81.8" r="2.0" fill="#000"/>
<circle cx="309.6" cy="87.8" r="2.0" fill="#000"/>
<circle cx="309.6" cy="93.4" r="2.0" fill="#000"/>
<circle cx="309.6" cy="96.8" r="2.0" fill="#000"/>
<circle cx="309.3" cy="97.9" r="2.0" fill="#000"/>
<circle cx="313.2" cy="102.3" r="2.0" fill="#000"/>
<circle cx="307.8" cy="104.8" r="2.0" fill="#000"/>
<circle cx="311.5" cy="116" r="2.0" fill="#000"/>
<circle cx="308" cy="121" r="2.0" fill="#000"/>
<circle cx="310.7" cy="104.3" r="2.0" fill="#000"/>
<circle cx="312.2" cy="107.7" r="2.0" fill="#000"/>
<circle cx="309.3" cy="110.6" r="2.0" fill="#000"/>
<circle cx="313.7" cy="112.6" r="2.0" fill="#000"/>
<circle cx="309.8" cy="114.1" r="2.0" fill="#000"/>
<circle cx="309.3" cy="118.5" r="2.0" fill="#000"/>
<circle cx="312.7" cy="122.4" r="2.0" fill="#000"/>
<circle cx="310.3" cy="124.3" r="2.0" fill="#000"/>
<circle cx="309.1" cy="125.8" r="2.0" fill="#000"/>
<polygon points="248.30,16.30 249.01,17.52 250.39,17.82 249.45,18.87 249.59,20.28 248.30,19.71 247.01,20.28 247.15,18.87 246.21,17.82 247.59,17.52" fill="#000" stroke="#000" stroke-width="0.6" stroke-linejoin="round"/>
<text x="248.3" y="31.6" font-size="11.5" font-weight="bold" text-anchor="middle" fill="#111" style="stroke:#111;stroke-width:0.12px" >+</text>
<polygon points="268.30,16.30 269.01,17.52 270.39,17.82 269.45,18.87 269.59,20.28 268.30,19.71 267.01,20.28 267.15,18.87 266.21,17.82 267.59,17.52" fill="#000" stroke="#000" stroke-width="0.6" stroke-linejoin="round"/>
<text x="268.3" y="31.6" font-size="11.5" font-weight="bold" text-anchor="middle" fill="#111" style="stroke:#111;stroke-width:0.12px" >+</text>
<polygon points="288.30,16.30 289.01,17.52 290.39,17.82 289.45,18.87 289.59,20.28 288.30,19.71 287.01,20.28 287.15,18.87 286.21,17.82 287.59,17.52" fill="#000" stroke="#000" stroke-width="0.6" stroke-linejoin="round"/>
<text x="288.3" y="31.6" font-size="11.5" font-weight="bold" text-anchor="middle" fill="#111" style="stroke:#111;stroke-width:0.12px" >+</text>
<polygon points="308.70,16.30 309.41,17.52 310.79,17.82 309.85,18.87 309.99,20.28 308.70,19.71 307.41,20.28 307.55,18.87 306.61,17.82 307.99,17.52" fill="#000" stroke="#000" stroke-width="0.6" stroke-linejoin="round"/>
<text x="308.7" y="31.6" font-size="11.5" font-weight="bold" text-anchor="middle" fill="#111" style="stroke:#111;stroke-width:0.12px" >+</text>
<text x="198.9" y="138.6" font-size="10.4" fill="#111" style="stroke:#111;stroke-width:0.4px">T<tspan font-size="7.3" dy="2.6" style="stroke-width:0.4px">RTE</tspan></text>
<text x="224.5" y="138.6" font-size="10.4" fill="#111" style="stroke:#111;stroke-width:0.4px">T<tspan font-size="7.3" dy="2.6" style="stroke-width:0.4px">N</tspan></text>
<text x="237.5" y="138.6" font-size="10.4" fill="#111" style="stroke:#111;stroke-width:0.4px">T<tspan font-size="7.3" dy="2.6" style="stroke-width:0.4px">SCM</tspan></text>
<text x="260.5" y="138.6" font-size="10.4" fill="#111" style="stroke:#111;stroke-width:0.4px">T<tspan font-size="7.3" dy="2.6" style="stroke-width:0.4px">CM</tspan></text>
<text x="280.2" y="138.6" font-size="10.4" fill="#111" style="stroke:#111;stroke-width:0.4px">T<tspan font-size="7.3" dy="2.6" style="stroke-width:0.4px">EM</tspan></text>
<text x="302.6" y="138.6" font-size="10.4" fill="#111" style="stroke:#111;stroke-width:0.4px">T<tspan font-size="7.3" dy="2.6" style="stroke-width:0.4px">TE</tspan></text>
<line x1="347.2" y1="24.9" x2="347.2" y2="126.2" stroke="#222" stroke-width="1" />
<line x1="347.2" y1="126.2" x2="457.4" y2="126.2" stroke="#222" stroke-width="1.15" />
<line x1="345.2" y1="126.0" x2="347.2" y2="126.0" stroke="#222" stroke-width="1" />
<line x1="345.2" y1="105.78" x2="347.2" y2="105.78" stroke="#222" stroke-width="1" />
<line x1="345.2" y1="85.56" x2="347.2" y2="85.56" stroke="#222" stroke-width="1" />
<line x1="345.2" y1="65.34" x2="347.2" y2="65.34" stroke="#222" stroke-width="1" />
<line x1="345.2" y1="45.120000000000005" x2="347.2" y2="45.120000000000005" stroke="#222" stroke-width="1" />
<line x1="345.2" y1="24.900000000000006" x2="347.2" y2="24.900000000000006" stroke="#222" stroke-width="1" />
<text x="348.7" y="39.2" font-size="10.3" font-weight="normal" text-anchor="start" fill="#111" style="stroke:#111;stroke-width:0.4px" >CD8<tspan font-size="6.5" dy="-4">+</tspan></text>
<rect x="380.20000000000005" y="70.8" width="4.8" height="55.2" fill="#8c8c8c" stroke="none" stroke-width="1" />
<rect x="400.3" y="76.0" width="4.8" height="50.0" fill="#8c8c8c" stroke="none" stroke-width="1" />
<rect x="420.70000000000005" y="67.6" width="4.8" height="58.400000000000006" fill="#8c8c8c" stroke="none" stroke-width="1" />
<rect x="441.3" y="68.9" width="4.8" height="57.099999999999994" fill="#8c8c8c" stroke="none" stroke-width="1" />
<circle cx="361.5" cy="66" r="2.0" fill="#000"/>
<circle cx="361.2" cy="97.2" r="2.0" fill="#000"/>
<circle cx="364.4" cy="97.2" r="2.0" fill="#000"/>
<circle cx="361" cy="102" r="2.0" fill="#000"/>
<circle cx="363.5" cy="103" r="2.0" fill="#000"/>
<circle cx="364.5" cy="110" r="2.0" fill="#000"/>
<circle cx="361" cy="111.5" r="2.0" fill="#000"/>
<circle cx="364.1" cy="105.6" r="2.0" fill="#000"/>
<circle cx="361.8" cy="108.1" r="2.0" fill="#000"/>
<circle cx="362.7" cy="113.4" r="2.0" fill="#000"/>
<circle cx="360.8" cy="115.4" r="2.0" fill="#000"/>
<circle cx="364.7" cy="116.4" r="2.0" fill="#000"/>
<circle cx="361.8" cy="118.3" r="2.0" fill="#000"/>
<circle cx="364.7" cy="120.3" r="2.0" fill="#000"/>
<circle cx="360.8" cy="121.3" r="2.0" fill="#000"/>
<circle cx="363.3" cy="122.3" r="2.0" fill="#000"/>
<circle cx="365.3" cy="123.2" r="2.0" fill="#000"/>
<circle cx="361.4" cy="125.2" r="2.0" fill="#000"/>
<circle cx="364.1" cy="125.8" r="2.0" fill="#000"/>
<circle cx="362.5" cy="111" r="2.0" fill="#000"/>
<circle cx="363.5" cy="119" r="2.0" fill="#000"/>
<circle cx="382.3" cy="24.7" r="2.0" fill="#000"/>
<circle cx="384.2" cy="43.7" r="2.0" fill="#000"/>
<circle cx="381.8" cy="47.6" r="2.0" fill="#000"/>
<circle cx="385.8" cy="48.4" r="2.0" fill="#000"/>
<circle cx="383.4" cy="50.3" r="2.0" fill="#000"/>
<circle cx="385.8" cy="51.4" r="2.0" fill="#000"/>
<circle cx="381.8" cy="55.8" r="2.0" fill="#000"/>
<circle cx="385.8" cy="58.6" r="2.0" fill="#000"/>
<circle cx="383.9" cy="60.9" r="2.0" fill="#000"/>
<circle cx="381.8" cy="65" r="2.0" fill="#000"/>
<circle cx="381.1" cy="69.7" r="2.0" fill="#000"/>
<circle cx="385" cy="69.2" r="2.0" fill="#000"/>
<circle cx="385.8" cy="73.2" r="2.0" fill="#000"/>
<circle cx="382.6" cy="74.8" r="2.0" fill="#000"/>
<circle cx="384.5" cy="78.7" r="2.0" fill="#000"/>
<circle cx="381.8" cy="81.9" r="2.0" fill="#000"/>
<circle cx="382.3" cy="86.6" r="2.0" fill="#000"/>
<circle cx="382.4" cy="95.8" r="2.0" fill="#000"/>
<circle cx="382.4" cy="100.3" r="2.0" fill="#000"/>
<circle cx="382.4" cy="125.2" r="2.0" fill="#000"/>
<circle cx="402.3" cy="33.4" r="2.0" fill="#000"/>
<circle cx="403.4" cy="39.2" r="2.0" fill="#000"/>
<circle cx="404.7" cy="42.1" r="2.0" fill="#000"/>
<circle cx="401.5" cy="45.6" r="2.0" fill="#000"/>
<circle cx="404.7" cy="48.4" r="2.0" fill="#000"/>
<circle cx="402.4" cy="51.8" r="2.0" fill="#000"/>
<circle cx="405.1" cy="50.7" r="2.0" fill="#000"/>
<circle cx="402.4" cy="58.2" r="2.0" fill="#000"/>
<circle cx="403.2" cy="66.1" r="2.0" fill="#000"/>
<circle cx="402.4" cy="71.6" r="2.0" fill="#000"/>
<circle cx="404.8" cy="79.5" r="2.0" fill="#000"/>
<circle cx="402.4" cy="80.8" r="2.0" fill="#000"/>
<circle cx="402.4" cy="91.3" r="2.0" fill="#000"/>
<circle cx="402.5" cy="97.2" r="2.0" fill="#000"/>
<circle cx="402.5" cy="105" r="2.0" fill="#000"/>
<circle cx="402.5" cy="110.1" r="2.0" fill="#000"/>
<circle cx="404.9" cy="114" r="2.0" fill="#000"/>
<circle cx="402.5" cy="116" r="2.0" fill="#000"/>
<circle cx="402.5" cy="120.7" r="2.0" fill="#000"/>
<circle cx="402.5" cy="125.2" r="2.0" fill="#000"/>
<circle cx="422.8" cy="32.3" r="2.0" fill="#000"/>
<circle cx="424.4" cy="36.6" r="2.0" fill="#000"/>
<circle cx="422.8" cy="39.2" r="2.0" fill="#000"/>
<circle cx="425.2" cy="38.6" r="2.0" fill="#000"/>
<circle cx="422.8" cy="45.2" r="2.0" fill="#000"/>
<circle cx="426" cy="47.6" r="2.0" fill="#000"/>
<circle cx="421.3" cy="51.4" r="2.0" fill="#000"/>
<circle cx="424.5" cy="54.2" r="2.0" fill="#000"/>
<circle cx="423.7" cy="56.6" r="2.0" fill="#000"/>
<circle cx="424.5" cy="61.3" r="2.0" fill="#000"/>
<circle cx="423.4" cy="68.8" r="2.0" fill="#000"/>
<circle cx="423.4" cy="73.2" r="2.0" fill="#000"/>
<circle cx="422.9" cy="89.3" r="2.0" fill="#000"/>
<circle cx="422.9" cy="94.8" r="2.0" fill="#000"/>
<circle cx="422.9" cy="105.6" r="2.0" fill="#000"/>
<circle cx="422.9" cy="113.4" r="2.0" fill="#000"/>
<circle cx="422.9" cy="120.3" r="2.0" fill="#000"/>
<circle cx="422.9" cy="125.2" r="2.0" fill="#000"/>
<circle cx="445.7" cy="35.8" r="2.0" fill="#000"/>
<circle cx="443.3" cy="38.1" r="2.0" fill="#000"/>
<circle cx="444.1" cy="45.2" r="2.0" fill="#000"/>
<circle cx="445.7" cy="46" r="2.0" fill="#000"/>
<circle cx="443.3" cy="48.4" r="2.0" fill="#000"/>
<circle cx="445.5" cy="53.4" r="2.0" fill="#000"/>
<circle cx="443.5" cy="55" r="2.0" fill="#000"/>
<circle cx="443.5" cy="61.3" r="2.0" fill="#000"/>
<circle cx="445.8" cy="74" r="2.0" fill="#000"/>
<circle cx="443.5" cy="77.1" r="2.0" fill="#000"/>
<circle cx="446.5" cy="95.2" r="2.0" fill="#000"/>
<circle cx="444.1" cy="99.1" r="2.0" fill="#000"/>
<circle cx="445.1" cy="102.3" r="2.0" fill="#000"/>
<circle cx="443.7" cy="110.9" r="2.0" fill="#000"/>
<circle cx="443.7" cy="125.2" r="2.0" fill="#000"/>
<polygon points="382.80,17.00 383.51,18.22 384.89,18.52 383.95,19.57 384.09,20.98 382.80,20.41 381.51,20.98 381.65,19.57 380.71,18.52 382.09,18.22" fill="#000" stroke="#000" stroke-width="0.6" stroke-linejoin="round"/>
<polygon points="403.00,17.00 403.71,18.22 405.09,18.52 404.15,19.57 404.29,20.98 403.00,20.41 401.71,20.98 401.85,19.57 400.91,18.52 402.29,18.22" fill="#000" stroke="#000" stroke-width="0.6" stroke-linejoin="round"/>
<polygon points="423.00,17.00 423.71,18.22 425.09,18.52 424.15,19.57 424.29,20.98 423.00,20.41 421.71,20.98 421.85,19.57 420.91,18.52 422.29,18.22" fill="#000" stroke="#000" stroke-width="0.6" stroke-linejoin="round"/>
<polygon points="443.40,17.00 444.11,18.22 445.49,18.52 444.55,19.57 444.69,20.98 443.40,20.41 442.11,20.98 442.25,19.57 441.31,18.52 442.69,18.22" fill="#000" stroke="#000" stroke-width="0.6" stroke-linejoin="round"/>
<text x="358.2" y="138.6" font-size="10.4" fill="#111" style="stroke:#111;stroke-width:0.4px">T<tspan font-size="7.3" dy="2.6" style="stroke-width:0.4px">N</tspan></text>
<text x="372.6" y="138.6" font-size="10.4" fill="#111" style="stroke:#111;stroke-width:0.4px">T<tspan font-size="7.3" dy="2.6" style="stroke-width:0.4px">SCM</tspan></text>
<text x="395.1" y="138.6" font-size="10.4" fill="#111" style="stroke:#111;stroke-width:0.4px">T<tspan font-size="7.3" dy="2.6" style="stroke-width:0.4px">CM</tspan></text>
<text x="415.0" y="138.6" font-size="10.4" fill="#111" style="stroke:#111;stroke-width:0.4px">T<tspan font-size="7.3" dy="2.6" style="stroke-width:0.4px">EM</tspan></text>
<text x="436.5" y="138.6" font-size="10.4" fill="#111" style="stroke:#111;stroke-width:0.4px">T<tspan font-size="7.3" dy="2.6" style="stroke-width:0.4px">TE</tspan></text>
<text x="1.5" y="174.9" font-size="16.6" font-weight="bold" text-anchor="start" fill="#000" style="stroke:#000;stroke-width:0.6px" >C</text>
<line x1="53.3" y1="205" x2="53.3" y2="313.0" stroke="#222" stroke-width="1" />
<line x1="53.3" y1="313.0" x2="105.7" y2="313.0" stroke="#222" stroke-width="1" />
<line x1="51.2" y1="313.0" x2="53.2" y2="313.0" stroke="#222" stroke-width="1" />
<text x="50.6" y="317.2" font-size="10.2" font-weight="normal" text-anchor="end" fill="#111" style="stroke:#111;stroke-width:0.4px" >0</text>
<line x1="51.2" y1="291.52" x2="53.2" y2="291.52" stroke="#222" stroke-width="1" />
<text x="50.6" y="295.71999999999997" font-size="10.2" font-weight="normal" text-anchor="end" fill="#111" style="stroke:#111;stroke-width:0.4px" >20</text>
<line x1="51.2" y1="270.04" x2="53.2" y2="270.04" stroke="#222" stroke-width="1" />
<text x="50.6" y="274.24" font-size="10.2" font-weight="normal" text-anchor="end" fill="#111" style="stroke:#111;stroke-width:0.4px" >40</text>
<line x1="51.2" y1="248.56" x2="53.2" y2="248.56" stroke="#222" stroke-width="1" />
<text x="50.6" y="252.76" font-size="10.2" font-weight="normal" text-anchor="end" fill="#111" style="stroke:#111;stroke-width:0.4px" >60</text>
<line x1="51.2" y1="227.07999999999998" x2="53.2" y2="227.07999999999998" stroke="#222" stroke-width="1" />
<text x="50.6" y="231.27999999999997" font-size="10.2" font-weight="normal" text-anchor="end" fill="#111" style="stroke:#111;stroke-width:0.4px" >80</text>
<line x1="51.2" y1="205.6" x2="53.2" y2="205.6" stroke="#222" stroke-width="1" />
<text x="50.6" y="209.79999999999998" font-size="10.2" font-weight="normal" text-anchor="end" fill="#111" style="stroke:#111;stroke-width:0.4px" >100</text>
<line x1="81.3" y1="313" x2="81.3" y2="315" stroke="#222" stroke-width="1" />
<line x1="103.8" y1="313" x2="103.8" y2="315" stroke="#222" stroke-width="1" />
<text transform="translate(32.4,255.4) rotate(-90)" font-size="10.6" font-weight="normal" text-anchor="middle" fill="#111" style="stroke:#111;stroke-width:0.5px">% cells</text>
<rect x="58.2" y="196.3" width="5.3" height="5.3" fill="#444" stroke="none" stroke-width="1" />
<rect x="58.2" y="206.8" width="5.3" height="5.3" fill="#aaa" stroke="none" stroke-width="1" />
<text x="66.8" y="201.8" font-size="10.7" font-weight="normal" text-anchor="start" fill="#111" style="stroke:#111;stroke-width:0.4px" >pre Cy (day 3)</text>
<text x="66.8" y="212.5" font-size="10.7" font-weight="normal" text-anchor="start" fill="#111" style="stroke:#111;stroke-width:0.4px" >post Cy (day 7)</text>
<rect x="64.3" y="256.0" width="5.0" height="57.0" fill="#444" stroke="none" stroke-width="1" />
<line x1="66.75" y1="250.4" x2="66.75" y2="255.6" stroke="#444" stroke-width="1" />
<rect x="71.0" y="232.0" width="5.3" height="81.0" fill="#aaa" stroke="none" stroke-width="1" />
<line x1="73.65" y1="228.7" x2="73.65" y2="232" stroke="#aaa" stroke-width="1" />
<rect x="86.5" y="272.0" width="5.3" height="41.0" fill="#444" stroke="none" stroke-width="1" />
<line x1="89.15" y1="267.8" x2="89.15" y2="272" stroke="#444" stroke-width="1" />
<rect x="93.2" y="295.6" width="5.4" height="17.399999999999977" fill="#aaa" stroke="none" stroke-width="1" />
<line x1="95.9" y1="293" x2="95.9" y2="295.6" stroke="#aaa" stroke-width="1" />
<polygon points="73.90,217.20 74.48,218.20 75.61,218.44 74.84,219.31 74.96,220.46 73.90,219.99 72.84,220.46 72.96,219.31 72.19,218.44 73.32,218.20" fill="#aaa" stroke="#aaa" stroke-width="0.6" stroke-linejoin="round"/>
<polygon points="95.70,249.10 96.28,250.10 97.41,250.34 96.64,251.21 96.76,252.36 95.70,251.89 94.64,252.36 94.76,251.21 93.99,250.34 95.12,250.10" fill="#aaa" stroke="#aaa" stroke-width="0.6" stroke-linejoin="round"/>
<text x="69.4" y="324.5" font-size="10.5" font-weight="normal" text-anchor="middle" fill="#111" style="stroke:#111;stroke-width:0.4px" >CD4<tspan font-size="6.5" dy="-4">+</tspan></text>
<text x="97.1" y="324.5" font-size="10.5" font-weight="normal" text-anchor="middle" fill="#111" style="stroke:#111;stroke-width:0.4px" >CD8<tspan font-size="6.5" dy="-4">+</tspan></text>
<text x="146.2" y="175.2" font-size="16.6" font-weight="bold" text-anchor="start" fill="#000" style="stroke:#000;stroke-width:0.6px" >D</text>
<text x="223.2" y="187.4" font-size="10.6" font-weight="normal" text-anchor="middle" fill="#111" style="stroke:#111;stroke-width:0.4px" >auto-APC</text>
<text x="295.2" y="187.4" font-size="10.6" font-weight="normal" text-anchor="middle" fill="#111" style="stroke:#111;stroke-width:0.4px" >allo-APC</text>
<text x="171" y="205" font-size="10.4" fill="#111" style="stroke:#111;stroke-width:0.4px">T<tspan font-size="7.3" dy="2.6" style="stroke-width:0.4px">N</tspan></text>
<text x="160.5" y="331.3" font-size="10.4" fill="#111" style="stroke:#111;stroke-width:0.4px">T<tspan font-size="7.3" dy="2.6" style="stroke-width:0.4px">MEM</tspan></text>
<text transform="translate(182.6,262.3) rotate(-90)" font-size="10.4" font-weight="normal" text-anchor="middle" fill="#111" style="stroke:#111;stroke-width:0.5px">CD25</text>
<text x="258.8" y="347" font-size="10.3" font-weight="normal" text-anchor="middle" fill="#111" style="stroke:#111;stroke-width:0.5px" >CFSE</text>
<ellipse cx="242.6" cy="240.0" rx="4.6" ry="16.0" transform="rotate(0 242.6 240.0)" fill="#e0e0e0" opacity="1" filter="url(#b1)"/>
<ellipse cx="242.29999999999998" cy="240.0" rx="3.2" ry="14.08" transform="rotate(0 242.29999999999998 240.0)" fill="#d2d2d2" opacity="1" filter="url(#b05)"/>
<ellipse cx="242.6" cy="241.0" rx="1.2" ry="9.6" transform="rotate(0 242.6 241.0)" fill="#909090" opacity="1" filter="url(#b05)"/>
<ellipse cx="242.6" cy="240.0" rx="4.2" ry="15.5" fill="none" stroke="#555" stroke-width="0.7"/>
<ellipse cx="242.4" cy="240.0" rx="3.0" ry="13.1" fill="none" stroke="#999" stroke-width="0.5"/>
<ellipse cx="242.6" cy="240.5" rx="1.9" ry="10.2" fill="none" stroke="#555" stroke-width="0.6"/>
<rect x="238.7" y="246.8" width="1.1" height="1.1" fill="#555"/><rect x="238.0" y="249.6" width="0.7" height="0.7" fill="#777"/><rect x="237.6" y="236.8" width="0.9" height="0.9" fill="#555"/><rect x="238.7" y="230.0" width="0.9" height="0.9" fill="#777"/><rect x="237.2" y="239.8" width="1.1" height="1.1" fill="#333"/><rect x="238.6" y="238.1" width="0.7" height="0.7" fill="#333"/><rect x="237.7" y="228.8" width="1.1" height="1.1" fill="#777"/><rect x="239.0" y="228.5" width="0.9" height="0.9" fill="#555"/><rect x="236.8" y="246.4" width="1.1" height="1.1" fill="#555"/><rect x="237.6" y="229.8" width="1.1" height="1.1" fill="#777"/><rect x="237.3" y="228.4" width="0.8" height="0.8" fill="#333"/><rect x="238.1" y="229.2" width="0.8" height="0.8" fill="#555"/><rect x="239.3" y="247.4" width="1.0" height="1.0" fill="#333"/><rect x="239.2" y="232.4" width="1.0" height="1.0" fill="#555"/><rect x="238.0" y="228.8" width="0.8" height="0.8" fill="#777"/><rect x="237.4" y="227.3" width="1.0" height="1.0" fill="#777"/><rect x="237.7" y="250.5" width="0.7" height="0.7" fill="#777"/><rect x="237.2" y="233.1" width="0.9" height="0.9" fill="#777"/>
<rect x="246.5" y="230.6" width="1.1" height="1.1" fill="#666"/><rect x="247.5" y="246.3" width="1.0" height="1.0" fill="#666"/><rect x="246.3" y="244.0" width="0.7" height="0.7" fill="#666"/><rect x="245.7" y="250.4" width="0.7" height="0.7" fill="#444"/><rect x="246.3" y="249.1" width="1.0" height="1.0" fill="#666"/><rect x="249.0" y="246.6" width="0.9" height="0.9" fill="#444"/><rect x="247.1" y="237.5" width="1.1" height="1.1" fill="#444"/><rect x="246.8" y="228.7" width="0.8" height="0.8" fill="#888"/><rect x="248.3" y="239.8" width="0.8" height="0.8" fill="#666"/><rect x="247.0" y="232.3" width="1.1" height="1.1" fill="#666"/><rect x="248.4" y="234.0" width="0.7" height="0.7" fill="#444"/><rect x="246.9" y="235.9" width="1.0" height="1.0" fill="#444"/>
<rect x="234.4" y="246.9" width="0.9" height="0.9" fill="#333"/><rect x="230.5" y="248.2" width="1.0" height="1.0" fill="#888"/><rect x="234.3" y="245.1" width="0.9" height="0.9" fill="#555"/><rect x="234.3" y="231.5" width="1.0" height="1.0" fill="#555"/><rect x="238.5" y="227.2" width="0.9" height="0.9" fill="#333"/><rect x="230.6" y="236.1" width="0.8" height="0.8" fill="#888"/><rect x="236.5" y="230.8" width="1.0" height="1.0" fill="#555"/><rect x="237.2" y="252.7" width="0.9" height="0.9" fill="#888"/><rect x="229.9" y="236.5" width="1.1" height="1.1" fill="#333"/><rect x="237.6" y="225.2" width="1.1" height="1.1" fill="#555"/><rect x="237.3" y="236.0" width="1.0" height="1.0" fill="#666"/><rect x="236.7" y="243.3" width="1.0" height="1.0" fill="#333"/><rect x="233.2" y="238.5" width="1.0" height="1.0" fill="#666"/><rect x="237.5" y="252.8" width="0.9" height="0.9" fill="#333"/><rect x="234.6" y="230.9" width="1.0" height="1.0" fill="#666"/><rect x="235.1" y="235.8" width="1.2" height="1.2" fill="#666"/><rect x="235.4" y="225.3" width="1.1" height="1.1" fill="#888"/><rect x="231.0" y="233.2" width="1.2" height="1.2" fill="#888"/><rect x="233.5" y="244.0" width="1.1" height="1.1" fill="#555"/><rect x="233.4" y="233.1" width="1.2" height="1.2" fill="#888"/><rect x="229.8" y="253.1" width="1.0" height="1.0" fill="#888"/><rect x="238.1" y="250.9" width="0.9" height="0.9" fill="#666"/><rect x="232.6" y="238.3" width="0.9" height="0.9" fill="#555"/><rect x="235.1" y="250.2" width="0.8" height="0.8" fill="#555"/><rect x="237.4" y="242.1" width="1.1" height="1.1" fill="#888"/><rect x="234.5" y="252.2" width="1.0" height="1.0" fill="#666"/><rect x="232.3" y="246.5" width="0.9" height="0.9" fill="#888"/><rect x="235.6" y="244.0" width="1.1" height="1.1" fill="#888"/><rect x="232.5" y="252.8" width="1.1" height="1.1" fill="#555"/><rect x="235.0" y="244.9" width="1.2" height="1.2" fill="#555"/><rect x="232.5" y="249.4" width="1.1" height="1.1" fill="#555"/><rect x="236.8" y="241.6" width="1.1" height="1.1" fill="#333"/><rect x="230.9" y="223.5" width="1.0" height="1.0" fill="#666"/><rect x="229.3" y="247.8" width="1.1" height="1.1" fill="#333"/><rect x="235.6" y="223.1" width="0.9" height="0.9" fill="#666"/><rect x="237.6" y="247.3" width="0.9" height="0.9" fill="#333"/><rect x="230.1" y="252.0" width="1.2" height="1.2" fill="#555"/><rect x="233.5" y="225.3" width="0.9" height="0.9" fill="#666"/><rect x="233.0" y="237.8" width="0.9" height="0.9" fill="#333"/><rect x="237.8" y="231.2" width="0.9" height="0.9" fill="#333"/><rect x="234.9" y="244.6" width="0.9" height="0.9" fill="#666"/><rect x="232.2" y="238.2" width="0.9" height="0.9" fill="#333"/><rect x="236.1" y="249.0" width="1.0" height="1.0" fill="#666"/><rect x="235.8" y="230.1" width="1.1" height="1.1" fill="#888"/><rect x="229.9" y="241.2" width="0.9" height="0.9" fill="#888"/><rect x="236.6" y="247.5" width="0.9" height="0.9" fill="#333"/><rect x="236.8" y="237.6" width="1.0" height="1.0" fill="#333"/><rect x="230.8" y="241.1" width="0.8" height="0.8" fill="#888"/><rect x="231.3" y="231.0" width="1.0" height="1.0" fill="#666"/><rect x="235.9" y="224.0" width="1.1" height="1.1" fill="#555"/><rect x="233.9" y="229.6" width="1.1" height="1.1" fill="#888"/><rect x="234.8" y="251.0" width="0.9" height="0.9" fill="#666"/><rect x="238.5" y="250.9" width="0.9" height="0.9" fill="#333"/><rect x="231.1" y="246.9" width="1.1" height="1.1" fill="#666"/><rect x="232.8" y="239.2" width="0.9" height="0.9" fill="#666"/>
<rect x="193.5" y="227.7" width="0.9" height="0.9" fill="#555"/><rect x="196.8" y="248.0" width="0.8" height="0.8" fill="#555"/><rect x="197.7" y="230.2" width="0.9" height="0.9" fill="#999"/><rect x="223.9" y="250.0" width="0.9" height="0.9" fill="#777"/><rect x="220.2" y="229.7" width="0.7" height="0.7" fill="#777"/><rect x="207.1" y="228.3" width="1.0" height="1.0" fill="#999"/><rect x="198.7" y="237.1" width="0.9" height="0.9" fill="#999"/><rect x="206.3" y="250.7" width="0.9" height="0.9" fill="#999"/><rect x="226.4" y="247.7" width="0.7" height="0.7" fill="#777"/><rect x="193.4" y="258.3" width="0.8" height="0.8" fill="#999"/><rect x="195.0" y="242.3" width="0.9" height="0.9" fill="#777"/><rect x="215.6" y="255.8" width="1.0" height="1.0" fill="#777"/><rect x="207.1" y="229.0" width="0.9" height="0.9" fill="#555"/><rect x="217.9" y="251.8" width="0.7" height="0.7" fill="#999"/><rect x="195.3" y="229.7" width="0.7" height="0.7" fill="#555"/><rect x="221.9" y="247.1" width="0.9" height="0.9" fill="#555"/><rect x="196.8" y="252.8" width="0.9" height="0.9" fill="#777"/><rect x="204.1" y="257.2" width="0.9" height="0.9" fill="#999"/><rect x="194.6" y="235.1" width="1.0" height="1.0" fill="#999"/><rect x="225.3" y="242.5" width="1.1" height="1.1" fill="#999"/><rect x="221.6" y="252.6" width="0.9" height="0.9" fill="#555"/><rect x="218.6" y="230.5" width="0.8" height="0.8" fill="#777"/>
<rect x="222.4" y="210.2" width="0.8" height="0.8" fill="#555"/><rect x="221.4" y="205.7" width="1.0" height="1.0" fill="#999"/><rect x="222.9" y="210.8" width="0.8" height="0.8" fill="#555"/><rect x="230.5" y="210.7" width="1.0" height="1.0" fill="#999"/><rect x="226.4" y="210.3" width="1.0" height="1.0" fill="#999"/><rect x="225.5" y="209.8" width="0.8" height="0.8" fill="#555"/><rect x="232.7" y="212.3" width="0.8" height="0.8" fill="#777"/><rect x="231.6" y="202.0" width="0.8" height="0.8" fill="#777"/><rect x="229.0" y="203.9" width="0.8" height="0.8" fill="#555"/><rect x="221.2" y="208.1" width="1.0" height="1.0" fill="#999"/><rect x="230.8" y="201.7" width="1.1" height="1.1" fill="#555"/><rect x="233.9" y="208.9" width="1.0" height="1.0" fill="#777"/>
<rect x="249.7" y="244.2" width="0.9" height="0.9" fill="#666"/><rect x="248.6" y="238.8" width="0.8" height="0.8" fill="#333"/><rect x="250.4" y="252.8" width="1.0" height="1.0" fill="#555"/><rect x="254.8" y="257.9" width="1.0" height="1.0" fill="#333"/><rect x="254.2" y="252.8" width="1.1" height="1.1" fill="#666"/><rect x="251.5" y="235.2" width="1.0" height="1.0" fill="#555"/><rect x="253.7" y="230.6" width="0.7" height="0.7" fill="#333"/><rect x="250.3" y="215.2" width="1.0" height="1.0" fill="#555"/><rect x="250.6" y="242.3" width="0.9" height="0.9" fill="#333"/><rect x="249.2" y="235.3" width="0.9" height="0.9" fill="#888"/><rect x="255.6" y="228.3" width="1.0" height="1.0" fill="#888"/><rect x="250.2" y="229.9" width="1.0" height="1.0" fill="#666"/>
<ellipse cx="314.6" cy="243.0" rx="4.6" ry="15.0" transform="rotate(0 314.6 243.0)" fill="#e0e0e0" opacity="1" filter="url(#b1)"/>
<ellipse cx="314.3" cy="243.0" rx="3.2" ry="13.2" transform="rotate(0 314.3 243.0)" fill="#d2d2d2" opacity="1" filter="url(#b05)"/>
<ellipse cx="314.6" cy="244.0" rx="1.2" ry="9.0" transform="rotate(0 314.6 244.0)" fill="#909090" opacity="1" filter="url(#b05)"/>
<ellipse cx="314.6" cy="243.0" rx="4.2" ry="14.5" fill="none" stroke="#555" stroke-width="0.7"/>
<ellipse cx="314.40000000000003" cy="243.0" rx="3.0" ry="12.3" fill="none" stroke="#999" stroke-width="0.5"/>
<ellipse cx="314.6" cy="243.5" rx="1.9" ry="9.6" fill="none" stroke="#555" stroke-width="0.6"/>
<rect x="310.9" y="244.7" width="1.0" height="1.0" fill="#777"/><rect x="310.9" y="232.7" width="0.9" height="0.9" fill="#333"/><rect x="310.2" y="252.1" width="0.8" height="0.8" fill="#555"/><rect x="310.0" y="253.3" width="1.0" height="1.0" fill="#333"/><rect x="309.4" y="246.8" width="0.9" height="0.9" fill="#333"/><rect x="309.9" y="248.2" width="0.9" height="0.9" fill="#333"/><rect x="309.9" y="235.4" width="1.0" height="1.0" fill="#333"/><rect x="311.1" y="236.4" width="1.0" height="1.0" fill="#333"/><rect x="312.0" y="236.3" width="0.9" height="0.9" fill="#555"/><rect x="308.5" y="246.4" width="0.7" height="0.7" fill="#555"/><rect x="310.0" y="235.8" width="1.0" height="1.0" fill="#333"/><rect x="310.7" y="242.8" width="1.0" height="1.0" fill="#333"/><rect x="311.4" y="247.0" width="1.1" height="1.1" fill="#777"/><rect x="312.0" y="252.5" width="0.8" height="0.8" fill="#333"/><rect x="309.2" y="252.9" width="1.0" height="1.0" fill="#555"/><rect x="309.8" y="232.3" width="0.7" height="0.7" fill="#777"/><rect x="308.6" y="231.5" width="1.1" height="1.1" fill="#333"/><rect x="310.0" y="243.3" width="1.1" height="1.1" fill="#777"/>
<rect x="319.5" y="236.1" width="0.7" height="0.7" fill="#444"/><rect x="319.8" y="245.5" width="0.8" height="0.8" fill="#666"/><rect x="319.3" y="236.6" width="0.7" height="0.7" fill="#444"/><rect x="319.9" y="250.3" width="1.1" height="1.1" fill="#444"/><rect x="319.0" y="249.0" width="0.9" height="0.9" fill="#444"/><rect x="319.7" y="236.6" width="0.8" height="0.8" fill="#444"/><rect x="318.6" y="254.4" width="0.9" height="0.9" fill="#888"/><rect x="318.6" y="248.0" width="0.8" height="0.8" fill="#666"/><rect x="320.5" y="253.3" width="0.9" height="0.9" fill="#444"/><rect x="319.4" y="251.9" width="1.1" height="1.1" fill="#888"/><rect x="319.5" y="247.3" width="1.0" height="1.0" fill="#888"/><rect x="319.8" y="239.1" width="1.0" height="1.0" fill="#444"/>
<rect x="301.8" y="203.7" width="1.1" height="1.1" fill="#444"/><rect x="293.7" y="201.7" width="0.9" height="0.9" fill="#222"/><rect x="294.4" y="204.5" width="1.0" height="1.0" fill="#222"/><rect x="293.7" y="203.7" width="1.0" height="1.0" fill="#444"/><rect x="298.4" y="199.0" width="1.0" height="1.0" fill="#444"/><rect x="293.6" y="204.2" width="1.0" height="1.0" fill="#222"/><rect x="293.1" y="203.8" width="0.9" height="0.9" fill="#444"/><rect x="303.5" y="203.0" width="0.9" height="0.9" fill="#444"/><rect x="292.7" y="208.6" width="1.1" height="1.1" fill="#666"/><rect x="304.4" y="209.7" width="1.0" height="1.0" fill="#222"/><rect x="307.7" y="205.4" width="1.0" height="1.0" fill="#666"/><rect x="288.3" y="197.9" width="1.0" height="1.0" fill="#444"/><rect x="294.9" y="202.4" width="1.1" height="1.1" fill="#666"/><rect x="296.1" y="195.0" width="0.9" height="0.9" fill="#444"/><rect x="294.8" y="200.5" width="0.9" height="0.9" fill="#666"/><rect x="295.1" y="200.9" width="1.2" height="1.2" fill="#666"/><rect x="289.3" y="202.1" width="0.9" height="0.9" fill="#222"/><rect x="306.1" y="199.9" width="0.8" height="0.8" fill="#444"/><rect x="299.8" y="200.2" width="0.9" height="0.9" fill="#666"/><rect x="301.9" y="201.8" width="1.0" height="1.0" fill="#444"/><rect x="293.1" y="200.7" width="0.9" height="0.9" fill="#444"/><rect x="291.5" y="200.8" width="1.1" height="1.1" fill="#222"/><rect x="293.4" y="206.4" width="0.9" height="0.9" fill="#666"/><rect x="292.8" y="203.1" width="0.9" height="0.9" fill="#444"/><rect x="302.4" y="208.5" width="0.8" height="0.8" fill="#222"/><rect x="300.0" y="209.5" width="0.9" height="0.9" fill="#444"/><rect x="297.8" y="205.0" width="0.9" height="0.9" fill="#666"/><rect x="310.4" y="202.4" width="0.8" height="0.8" fill="#222"/><rect x="284.6" y="201.2" width="0.8" height="0.8" fill="#222"/><rect x="293.9" y="204.7" width="1.1" height="1.1" fill="#666"/><rect x="295.5" y="204.8" width="1.1" height="1.1" fill="#222"/><rect x="284.0" y="198.1" width="0.8" height="0.8" fill="#222"/><rect x="298.4" y="204.7" width="0.9" height="0.9" fill="#666"/><rect x="295.5" y="202.5" width="0.9" height="0.9" fill="#222"/><rect x="299.3" y="207.0" width="1.2" height="1.2" fill="#222"/><rect x="286.8" y="211.5" width="1.0" height="1.0" fill="#444"/><rect x="292.0" y="205.9" width="1.0" height="1.0" fill="#222"/><rect x="306.9" y="203.6" width="0.9" height="0.9" fill="#222"/><rect x="305.8" y="199.8" width="1.1" height="1.1" fill="#666"/><rect x="304.4" y="205.4" width="1.1" height="1.1" fill="#222"/><rect x="299.1" y="199.4" width="1.2" height="1.2" fill="#222"/><rect x="285.7" y="206.0" width="1.0" height="1.0" fill="#444"/><rect x="293.7" y="200.2" width="0.9" height="0.9" fill="#222"/><rect x="304.1" y="201.4" width="0.9" height="0.9" fill="#222"/><rect x="296.2" y="201.9" width="1.1" height="1.1" fill="#666"/><rect x="300.9" y="197.8" width="1.0" height="1.0" fill="#222"/><rect x="300.7" y="201.0" width="1.1" height="1.1" fill="#222"/><rect x="288.7" y="201.3" width="1.0" height="1.0" fill="#444"/><rect x="310.8" y="201.5" width="1.0" height="1.0" fill="#444"/><rect x="300.6" y="202.4" width="1.2" height="1.2" fill="#222"/><rect x="300.3" y="197.7" width="1.1" height="1.1" fill="#666"/><rect x="295.5" y="200.9" width="1.1" height="1.1" fill="#444"/><rect x="299.2" y="200.7" width="1.0" height="1.0" fill="#666"/><rect x="292.7" y="204.0" width="1.2" height="1.2" fill="#222"/><rect x="286.2" y="204.1" width="0.8" height="0.8" fill="#444"/><rect x="298.0" y="199.1" width="1.2" height="1.2" fill="#666"/><rect x="288.1" y="203.5" width="0.8" height="0.8" fill="#666"/><rect x="298.0" y="202.1" width="0.9" height="0.9" fill="#222"/><rect x="292.5" y="201.4" width="1.2" height="1.2" fill="#444"/><rect x="303.2" y="205.7" width="0.9" height="0.9" fill="#222"/>
<ellipse cx="298" cy="203.4" rx="4.3" ry="3.3" transform="rotate(-15 298 203.4)" fill="none" stroke="#1a1a1a" stroke-width="1.3"/>
<rect x="292.9" y="203.6" width="1.2" height="1.2" fill="#333"/><rect x="298.9" y="199.8" width="1.0" height="1.0" fill="#555"/><rect x="303.8" y="201.7" width="1.1" height="1.1" fill="#555"/><rect x="298.3" y="199.2" width="1.1" height="1.1" fill="#333"/><rect x="292.9" y="206.3" width="0.9" height="0.9" fill="#555"/><rect x="300.5" y="200.0" width="1.2" height="1.2" fill="#333"/><rect x="304.0" y="205.1" width="1.2" height="1.2" fill="#111"/><rect x="295.0" y="206.7" width="1.2" height="1.2" fill="#111"/><rect x="297.7" y="206.8" width="0.9" height="0.9" fill="#111"/><rect x="301.1" y="200.1" width="1.3" height="1.3" fill="#111"/><rect x="298.8" y="206.3" width="0.9" height="0.9" fill="#333"/><rect x="295.8" y="206.1" width="1.3" height="1.3" fill="#111"/><rect x="302.1" y="202.5" width="1.2" height="1.2" fill="#555"/><rect x="297.7" y="206.6" width="1.0" height="1.0" fill="#111"/><rect x="292.7" y="204.1" width="1.3" height="1.3" fill="#111"/><rect x="300.4" y="206.5" width="1.3" height="1.3" fill="#333"/><rect x="303.3" y="202.6" width="1.1" height="1.1" fill="#333"/><rect x="298.9" y="206.5" width="1.1" height="1.1" fill="#333"/><rect x="299.6" y="199.9" width="1.0" height="1.0" fill="#333"/><rect x="294.2" y="203.8" width="1.1" height="1.1" fill="#111"/><rect x="303.3" y="201.2" width="1.1" height="1.1" fill="#333"/><rect x="302.9" y="200.1" width="1.3" height="1.3" fill="#333"/><rect x="291.8" y="204.4" width="0.9" height="0.9" fill="#333"/><rect x="298.4" y="199.6" width="1.1" height="1.1" fill="#111"/><rect x="294.7" y="207.4" width="0.9" height="0.9" fill="#111"/><rect x="292.3" y="203.4" width="1.0" height="1.0" fill="#333"/><rect x="294.7" y="205.8" width="0.9" height="0.9" fill="#111"/><rect x="293.2" y="204.4" width="1.3" height="1.3" fill="#333"/><rect x="295.9" y="201.6" width="1.2" height="1.2" fill="#333"/><rect x="293.7" y="203.8" width="1.3" height="1.3" fill="#111"/><rect x="292.1" y="202.1" width="1.0" height="1.0" fill="#555"/><rect x="299.5" y="206.5" width="1.0" height="1.0" fill="#555"/><rect x="298.2" y="207.9" width="0.9" height="0.9" fill="#555"/><rect x="302.6" y="205.2" width="1.1" height="1.1" fill="#555"/><rect x="302.4" y="206.6" width="1.2" height="1.2" fill="#111"/><rect x="302.0" y="203.2" width="1.2" height="1.2" fill="#555"/><rect x="295.6" y="199.9" width="0.9" height="0.9" fill="#333"/><rect x="295.0" y="209.2" width="1.1" height="1.1" fill="#111"/><rect x="293.7" y="203.1" width="1.1" height="1.1" fill="#111"/><rect x="304.4" y="203.8" width="1.0" height="1.0" fill="#111"/><rect x="302.4" y="201.0" width="0.9" height="0.9" fill="#555"/><rect x="302.3" y="200.2" width="1.1" height="1.1" fill="#333"/><rect x="296.6" y="201.2" width="0.9" height="0.9" fill="#555"/><rect x="301.5" y="198.3" width="1.3" height="1.3" fill="#111"/><rect x="300.9" y="199.1" width="1.1" height="1.1" fill="#555"/>
<rect x="294.8" y="204.2" width="0.7" height="0.7" fill="#555"/><rect x="297.9" y="201.0" width="0.8" height="0.8" fill="#777"/><rect x="293.7" y="202.7" width="1.1" height="1.1" fill="#555"/><rect x="299.4" y="203.6" width="0.8" height="0.8" fill="#333"/><rect x="300.0" y="207.0" width="0.7" height="0.7" fill="#555"/><rect x="302.4" y="200.3" width="0.9" height="0.9" fill="#555"/><rect x="297.7" y="199.5" width="1.0" height="1.0" fill="#333"/><rect x="299.3" y="202.0" width="1.0" height="1.0" fill="#333"/><rect x="299.2" y="205.5" width="1.0" height="1.0" fill="#555"/><rect x="295.5" y="201.4" width="0.9" height="0.9" fill="#333"/><rect x="295.6" y="204.2" width="1.0" height="1.0" fill="#555"/><rect x="303.7" y="205.4" width="0.7" height="0.7" fill="#333"/><rect x="297.6" y="204.2" width="1.0" height="1.0" fill="#333"/><rect x="300.7" y="203.1" width="1.0" height="1.0" fill="#333"/><rect x="299.2" y="197.7" width="0.8" height="0.8" fill="#333"/><rect x="297.1" y="204.9" width="1.1" height="1.1" fill="#333"/><rect x="301.6" y="202.9" width="0.8" height="0.8" fill="#333"/><rect x="293.7" y="196.0" width="1.0" height="1.0" fill="#777"/><rect x="298.0" y="205.5" width="0.7" height="0.7" fill="#777"/><rect x="302.5" y="204.4" width="0.9" height="0.9" fill="#777"/>
<rect x="298.8" y="206.2" width="0.8" height="0.8" fill="#555"/><rect x="286.6" y="209.2" width="0.7" height="0.7" fill="#888"/><rect x="268.2" y="200.5" width="0.9" height="0.9" fill="#555"/><rect x="285.5" y="206.7" width="0.8" height="0.8" fill="#666"/><rect x="282.4" y="201.3" width="1.0" height="1.0" fill="#555"/><rect x="269.6" y="204.3" width="1.0" height="1.0" fill="#333"/><rect x="274.7" y="197.4" width="0.9" height="0.9" fill="#666"/><rect x="307.6" y="198.0" width="0.9" height="0.9" fill="#888"/><rect x="278.9" y="198.0" width="1.1" height="1.1" fill="#888"/><rect x="280.6" y="214.7" width="1.0" height="1.0" fill="#888"/><rect x="273.5" y="197.3" width="0.9" height="0.9" fill="#333"/><rect x="298.0" y="207.6" width="1.1" height="1.1" fill="#333"/><rect x="301.9" y="211.8" width="0.7" height="0.7" fill="#666"/><rect x="278.3" y="200.4" width="1.1" height="1.1" fill="#666"/><rect x="283.0" y="209.9" width="0.8" height="0.8" fill="#666"/><rect x="275.0" y="204.8" width="0.8" height="0.8" fill="#555"/><rect x="271.9" y="210.5" width="1.0" height="1.0" fill="#555"/><rect x="296.3" y="201.2" width="0.7" height="0.7" fill="#888"/><rect x="272.0" y="200.4" width="0.8" height="0.8" fill="#666"/><rect x="271.6" y="202.1" width="0.9" height="0.9" fill="#888"/><rect x="309.7" y="208.9" width="1.1" height="1.1" fill="#555"/><rect x="281.4" y="200.1" width="1.0" height="1.0" fill="#555"/><rect x="284.1" y="206.2" width="0.9" height="0.9" fill="#555"/><rect x="294.6" y="209.2" width="0.8" height="0.8" fill="#333"/><rect x="286.0" y="209.3" width="0.8" height="0.8" fill="#666"/><rect x="279.9" y="211.4" width="1.0" height="1.0" fill="#666"/><rect x="290.2" y="201.0" width="1.1" height="1.1" fill="#888"/><rect x="291.4" y="201.9" width="1.0" height="1.0" fill="#333"/><rect x="303.2" y="205.7" width="1.0" height="1.0" fill="#555"/><rect x="299.4" y="213.2" width="1.0" height="1.0" fill="#888"/><rect x="283.5" y="211.1" width="1.0" height="1.0" fill="#555"/><rect x="303.5" y="215.7" width="0.9" height="0.9" fill="#666"/><rect x="295.3" y="209.9" width="0.8" height="0.8" fill="#333"/><rect x="282.7" y="204.2" width="0.9" height="0.9" fill="#666"/><rect x="302.6" y="200.6" width="0.8" height="0.8" fill="#333"/><rect x="298.9" y="210.7" width="0.8" height="0.8" fill="#333"/><rect x="283.9" y="201.4" width="0.9" height="0.9" fill="#555"/><rect x="306.5" y="213.0" width="1.0" height="1.0" fill="#888"/><rect x="280.4" y="199.1" width="0.8" height="0.8" fill="#555"/><rect x="298.6" y="203.0" width="0.7" height="0.7" fill="#555"/><rect x="282.3" y="213.0" width="1.1" height="1.1" fill="#888"/><rect x="286.2" y="199.0" width="1.0" height="1.0" fill="#333"/><rect x="272.8" y="201.4" width="0.9" height="0.9" fill="#666"/><rect x="310.4" y="203.8" width="0.8" height="0.8" fill="#333"/><rect x="299.6" y="198.3" width="0.8" height="0.8" fill="#555"/>
<rect x="317.9" y="214.7" width="0.9" height="0.9" fill="#333"/><rect x="317.1" y="213.2" width="0.9" height="0.9" fill="#333"/><rect x="314.1" y="221.7" width="1.2" height="1.2" fill="#555"/><rect x="316.3" y="219.2" width="1.2" height="1.2" fill="#333"/><rect x="312.8" y="205.8" width="1.1" height="1.1" fill="#333"/><rect x="316.6" y="199.7" width="0.9" height="0.9" fill="#666"/><rect x="320.4" y="223.5" width="0.8" height="0.8" fill="#555"/><rect x="313.4" y="225.6" width="0.9" height="0.9" fill="#888"/><rect x="314.4" y="213.6" width="1.0" height="1.0" fill="#333"/><rect x="316.7" y="212.5" width="0.9" height="0.9" fill="#888"/><rect x="318.7" y="210.4" width="1.2" height="1.2" fill="#333"/><rect x="317.8" y="209.9" width="1.0" height="1.0" fill="#555"/><rect x="318.7" y="221.3" width="1.0" height="1.0" fill="#888"/><rect x="313.8" y="224.7" width="1.2" height="1.2" fill="#888"/><rect x="320.0" y="222.3" width="0.9" height="0.9" fill="#555"/><rect x="318.0" y="198.0" width="1.2" height="1.2" fill="#555"/><rect x="315.5" y="209.0" width="1.0" height="1.0" fill="#666"/><rect x="319.9" y="206.4" width="0.9" height="0.9" fill="#555"/><rect x="313.3" y="211.8" width="0.8" height="0.8" fill="#666"/><rect x="319.4" y="202.3" width="1.2" height="1.2" fill="#666"/><rect x="319.3" y="214.1" width="1.0" height="1.0" fill="#666"/><rect x="314.8" y="198.5" width="1.2" height="1.2" fill="#666"/><rect x="319.2" y="207.0" width="1.2" height="1.2" fill="#666"/><rect x="313.6" y="216.2" width="0.8" height="0.8" fill="#555"/><rect x="315.8" y="224.7" width="0.9" height="0.9" fill="#888"/><rect x="312.5" y="226.0" width="0.9" height="0.9" fill="#888"/><rect x="315.4" y="203.8" width="0.9" height="0.9" fill="#888"/><rect x="313.8" y="223.5" width="1.1" height="1.1" fill="#333"/><rect x="312.7" y="202.6" width="1.2" height="1.2" fill="#888"/><rect x="317.9" y="210.9" width="1.0" height="1.0" fill="#555"/>
<rect x="285.3" y="227.4" width="0.8" height="0.8" fill="#555"/><rect x="273.1" y="248.2" width="0.8" height="0.8" fill="#999"/><rect x="295.1" y="248.7" width="1.0" height="1.0" fill="#777"/><rect x="285.7" y="229.8" width="0.9" height="0.9" fill="#999"/><rect x="266.8" y="234.9" width="0.8" height="0.8" fill="#555"/><rect x="285.5" y="247.2" width="1.0" height="1.0" fill="#999"/><rect x="297.8" y="249.2" width="1.0" height="1.0" fill="#777"/><rect x="286.4" y="252.1" width="0.8" height="0.8" fill="#777"/><rect x="285.6" y="230.9" width="0.7" height="0.7" fill="#555"/><rect x="265.5" y="247.5" width="0.9" height="0.9" fill="#999"/><rect x="303.8" y="251.2" width="0.8" height="0.8" fill="#555"/><rect x="269.6" y="254.8" width="0.9" height="0.9" fill="#555"/><rect x="288.6" y="233.3" width="0.7" height="0.7" fill="#999"/><rect x="281.5" y="233.6" width="0.8" height="0.8" fill="#777"/><rect x="300.6" y="237.2" width="0.7" height="0.7" fill="#777"/><rect x="278.0" y="257.7" width="0.7" height="0.7" fill="#999"/><rect x="267.2" y="230.7" width="0.8" height="0.8" fill="#777"/><rect x="274.9" y="251.4" width="0.7" height="0.7" fill="#555"/>
<rect x="309.4" y="239.5" width="1.0" height="1.0" fill="#666"/><rect x="306.6" y="225.2" width="0.7" height="0.7" fill="#666"/><rect x="304.5" y="228.0" width="1.1" height="1.1" fill="#888"/><rect x="307.0" y="253.4" width="0.8" height="0.8" fill="#888"/><rect x="305.4" y="251.6" width="1.0" height="1.0" fill="#555"/><rect x="304.8" y="249.6" width="1.0" height="1.0" fill="#555"/><rect x="303.9" y="235.1" width="0.7" height="0.7" fill="#333"/><rect x="304.4" y="256.5" width="0.8" height="0.8" fill="#666"/><rect x="306.3" y="225.9" width="1.0" height="1.0" fill="#666"/><rect x="305.6" y="230.3" width="0.9" height="0.9" fill="#888"/>
<ellipse cx="241.8" cy="315.0" rx="4.6" ry="18.0" transform="rotate(0 241.8 315.0)" fill="#e0e0e0" opacity="1" filter="url(#b1)"/>
<ellipse cx="241.5" cy="315.0" rx="3.2" ry="15.84" transform="rotate(0 241.5 315.0)" fill="#d2d2d2" opacity="1" filter="url(#b05)"/>
<ellipse cx="241.8" cy="316.0" rx="1.2" ry="10.799999999999999" transform="rotate(0 241.8 316.0)" fill="#909090" opacity="1" filter="url(#b05)"/>
<ellipse cx="241.8" cy="315.0" rx="4.2" ry="17.5" fill="none" stroke="#555" stroke-width="0.7"/>
<ellipse cx="241.60000000000002" cy="315.0" rx="3.0" ry="14.8" fill="none" stroke="#999" stroke-width="0.5"/>
<ellipse cx="241.8" cy="315.5" rx="1.9" ry="11.5" fill="none" stroke="#555" stroke-width="0.6"/>
<rect x="237.5" y="304.7" width="1.0" height="1.0" fill="#555"/><rect x="236.8" y="327.6" width="1.0" height="1.0" fill="#333"/><rect x="237.6" y="319.6" width="0.8" height="0.8" fill="#777"/><rect x="238.1" y="324.4" width="1.0" height="1.0" fill="#555"/><rect x="237.7" y="308.5" width="0.9" height="0.9" fill="#333"/><rect x="237.9" y="309.5" width="0.8" height="0.8" fill="#333"/><rect x="235.7" y="316.6" width="0.9" height="0.9" fill="#777"/><rect x="237.5" y="326.9" width="1.0" height="1.0" fill="#333"/><rect x="237.1" y="323.6" width="1.0" height="1.0" fill="#555"/><rect x="236.3" y="313.1" width="0.8" height="0.8" fill="#333"/><rect x="235.7" y="304.7" width="0.8" height="0.8" fill="#333"/><rect x="236.8" y="309.5" width="0.8" height="0.8" fill="#333"/><rect x="236.7" y="305.5" width="0.9" height="0.9" fill="#333"/><rect x="237.0" y="304.8" width="1.0" height="1.0" fill="#555"/><rect x="237.3" y="325.1" width="0.7" height="0.7" fill="#333"/><rect x="238.1" y="313.4" width="0.7" height="0.7" fill="#555"/><rect x="236.6" y="306.5" width="1.0" height="1.0" fill="#555"/><rect x="235.8" y="319.0" width="0.8" height="0.8" fill="#555"/>
<rect x="245.3" y="311.2" width="0.9" height="0.9" fill="#444"/><rect x="246.2" y="329.4" width="0.8" height="0.8" fill="#888"/><rect x="246.6" y="324.1" width="0.7" height="0.7" fill="#888"/><rect x="246.5" y="326.1" width="0.7" height="0.7" fill="#666"/><rect x="246.2" y="325.0" width="0.8" height="0.8" fill="#444"/><rect x="246.0" y="307.5" width="0.8" height="0.8" fill="#888"/><rect x="247.2" y="312.4" width="1.0" height="1.0" fill="#444"/><rect x="246.2" y="303.4" width="0.9" height="0.9" fill="#444"/><rect x="244.9" y="329.8" width="0.8" height="0.8" fill="#444"/><rect x="245.4" y="309.4" width="0.9" height="0.9" fill="#444"/><rect x="247.0" y="309.4" width="0.7" height="0.7" fill="#888"/><rect x="245.6" y="322.4" width="0.9" height="0.9" fill="#666"/>
<rect x="220.0" y="286.6" width="1.1" height="1.1" fill="#888"/><rect x="218.6" y="271.0" width="0.8" height="0.8" fill="#555"/><rect x="235.9" y="280.2" width="0.7" height="0.7" fill="#666"/><rect x="233.8" y="278.6" width="0.7" height="0.7" fill="#666"/><rect x="227.8" y="282.6" width="1.0" height="1.0" fill="#888"/><rect x="232.0" y="287.5" width="0.9" height="0.9" fill="#555"/><rect x="217.1" y="277.9" width="0.7" height="0.7" fill="#666"/><rect x="214.5" y="278.8" width="0.8" height="0.8" fill="#555"/><rect x="221.4" y="272.6" width="1.0" height="1.0" fill="#666"/><rect x="214.9" y="275.9" width="1.0" height="1.0" fill="#555"/><rect x="216.5" y="284.6" width="0.7" height="0.7" fill="#666"/><rect x="214.6" y="284.5" width="0.8" height="0.8" fill="#555"/><rect x="227.6" y="282.7" width="1.0" height="1.0" fill="#333"/><rect x="216.6" y="279.3" width="0.9" height="0.9" fill="#888"/><rect x="222.4" y="278.7" width="0.8" height="0.8" fill="#555"/><rect x="221.1" y="282.9" width="1.0" height="1.0" fill="#888"/><rect x="225.4" y="281.1" width="1.0" height="1.0" fill="#333"/><rect x="228.3" y="275.3" width="1.1" height="1.1" fill="#555"/><rect x="223.7" y="285.3" width="0.8" height="0.8" fill="#555"/><rect x="227.3" y="273.4" width="0.8" height="0.8" fill="#666"/><rect x="233.7" y="274.8" width="0.9" height="0.9" fill="#888"/><rect x="215.8" y="282.3" width="1.0" height="1.0" fill="#666"/><rect x="234.0" y="278.8" width="1.0" height="1.0" fill="#333"/><rect x="234.3" y="272.2" width="0.8" height="0.8" fill="#333"/><rect x="231.8" y="277.3" width="1.0" height="1.0" fill="#333"/><rect x="214.3" y="273.0" width="0.8" height="0.8" fill="#333"/><rect x="231.9" y="281.1" width="0.9" height="0.9" fill="#333"/><rect x="217.0" y="286.4" width="0.9" height="0.9" fill="#666"/><rect x="226.9" y="276.3" width="1.1" height="1.1" fill="#333"/><rect x="225.9" y="283.1" width="0.8" height="0.8" fill="#333"/><rect x="233.0" y="272.0" width="0.7" height="0.7" fill="#555"/><rect x="226.9" y="284.4" width="0.8" height="0.8" fill="#888"/><rect x="220.4" y="281.5" width="0.7" height="0.7" fill="#888"/><rect x="226.9" y="276.0" width="0.8" height="0.8" fill="#333"/><rect x="216.1" y="280.3" width="0.8" height="0.8" fill="#666"/>
<rect x="194.8" y="315.8" width="0.9" height="0.9" fill="#999"/><rect x="202.9" y="306.7" width="1.1" height="1.1" fill="#999"/><rect x="201.5" y="332.3" width="1.1" height="1.1" fill="#777"/><rect x="229.6" y="307.0" width="1.0" height="1.0" fill="#999"/><rect x="223.7" y="302.7" width="0.9" height="0.9" fill="#555"/><rect x="224.0" y="317.5" width="0.7" height="0.7" fill="#999"/><rect x="197.4" y="307.1" width="0.9" height="0.9" fill="#555"/><rect x="206.8" y="304.1" width="1.0" height="1.0" fill="#777"/><rect x="217.7" y="301.7" width="0.9" height="0.9" fill="#999"/><rect x="212.2" y="312.7" width="1.1" height="1.1" fill="#777"/><rect x="206.4" y="312.9" width="0.8" height="0.8" fill="#999"/><rect x="213.6" y="332.2" width="0.8" height="0.8" fill="#999"/><rect x="213.9" y="316.0" width="0.8" height="0.8" fill="#555"/><rect x="230.5" y="325.2" width="1.1" height="1.1" fill="#777"/><rect x="191.5" y="300.9" width="1.0" height="1.0" fill="#555"/><rect x="220.0" y="330.9" width="1.0" height="1.0" fill="#777"/><rect x="227.5" y="314.1" width="0.8" height="0.8" fill="#999"/><rect x="205.5" y="326.0" width="1.0" height="1.0" fill="#999"/><rect x="218.1" y="304.0" width="0.8" height="0.8" fill="#999"/><rect x="212.3" y="314.7" width="1.0" height="1.0" fill="#999"/>
<rect x="230.7" y="322.2" width="0.9" height="0.9" fill="#666"/><rect x="237.3" y="306.0" width="0.8" height="0.8" fill="#555"/><rect x="232.7" y="295.5" width="1.0" height="1.0" fill="#888"/><rect x="233.2" y="311.7" width="1.1" height="1.1" fill="#333"/><rect x="230.3" y="330.9" width="1.0" height="1.0" fill="#555"/><rect x="229.7" y="298.8" width="1.1" height="1.1" fill="#333"/><rect x="231.5" y="305.9" width="1.2" height="1.2" fill="#666"/><rect x="234.1" y="296.2" width="1.1" height="1.1" fill="#333"/><rect x="234.5" y="317.3" width="1.2" height="1.2" fill="#888"/><rect x="233.9" y="325.9" width="0.9" height="0.9" fill="#888"/><rect x="231.6" y="310.2" width="0.9" height="0.9" fill="#666"/><rect x="234.3" y="330.0" width="1.1" height="1.1" fill="#666"/><rect x="229.9" y="314.0" width="1.0" height="1.0" fill="#333"/><rect x="232.2" y="321.8" width="1.2" height="1.2" fill="#666"/><rect x="234.8" y="330.6" width="1.1" height="1.1" fill="#888"/><rect x="233.1" y="312.7" width="1.0" height="1.0" fill="#333"/><rect x="235.0" y="301.7" width="0.8" height="0.8" fill="#555"/><rect x="231.2" y="302.9" width="1.1" height="1.1" fill="#555"/><rect x="237.1" y="332.9" width="1.0" height="1.0" fill="#333"/><rect x="234.6" y="301.6" width="1.2" height="1.2" fill="#555"/><rect x="233.1" y="297.6" width="0.8" height="0.8" fill="#888"/><rect x="235.4" y="314.2" width="0.8" height="0.8" fill="#555"/><rect x="236.3" y="324.6" width="1.0" height="1.0" fill="#555"/><rect x="232.2" y="319.0" width="1.0" height="1.0" fill="#333"/><rect x="234.7" y="314.2" width="0.9" height="0.9" fill="#888"/><rect x="231.1" y="307.8" width="0.8" height="0.8" fill="#333"/><rect x="236.2" y="327.4" width="1.1" height="1.1" fill="#888"/><rect x="235.1" y="331.7" width="1.1" height="1.1" fill="#888"/><rect x="234.1" y="295.5" width="1.0" height="1.0" fill="#666"/><rect x="232.8" y="331.4" width="1.0" height="1.0" fill="#888"/><rect x="230.3" y="298.7" width="1.1" height="1.1" fill="#888"/><rect x="235.4" y="325.4" width="1.0" height="1.0" fill="#333"/><rect x="235.4" y="312.8" width="1.1" height="1.1" fill="#666"/><rect x="229.9" y="328.4" width="1.1" height="1.1" fill="#666"/><rect x="234.8" y="295.1" width="1.0" height="1.0" fill="#555"/>
<rect x="239.4" y="285.0" width="0.9" height="0.9" fill="#555"/><rect x="243.1" y="288.4" width="1.0" height="1.0" fill="#555"/><rect x="239.0" y="288.8" width="1.1" height="1.1" fill="#555"/><rect x="244.8" y="290.0" width="1.1" height="1.1" fill="#555"/><rect x="239.0" y="284.1" width="1.0" height="1.0" fill="#555"/><rect x="239.7" y="281.7" width="1.1" height="1.1" fill="#555"/><rect x="241.9" y="286.4" width="1.0" height="1.0" fill="#555"/><rect x="244.1" y="289.1" width="1.2" height="1.2" fill="#111"/><rect x="241.1" y="290.3" width="1.0" height="1.0" fill="#555"/><rect x="240.9" y="285.6" width="1.2" height="1.2" fill="#555"/><rect x="242.4" y="295.6" width="1.1" height="1.1" fill="#111"/><rect x="241.1" y="295.5" width="1.3" height="1.3" fill="#111"/><rect x="240.6" y="279.3" width="1.3" height="1.3" fill="#111"/><rect x="242.9" y="288.9" width="1.1" height="1.1" fill="#333"/><rect x="240.4" y="288.8" width="1.0" height="1.0" fill="#333"/><rect x="241.4" y="290.2" width="1.2" height="1.2" fill="#111"/><rect x="241.8" y="283.5" width="1.3" height="1.3" fill="#111"/><rect x="242.9" y="287.2" width="1.1" height="1.1" fill="#333"/><rect x="242.1" y="286.8" width="1.3" height="1.3" fill="#333"/><rect x="241.4" y="285.5" width="1.2" height="1.2" fill="#111"/><rect x="241.5" y="290.2" width="1.2" height="1.2" fill="#111"/><rect x="245.7" y="289.2" width="1.3" height="1.3" fill="#333"/><rect x="241.2" y="294.3" width="1.2" height="1.2" fill="#555"/><rect x="243.3" y="279.9" width="1.3" height="1.3" fill="#111"/><rect x="241.1" y="291.4" width="1.2" height="1.2" fill="#555"/>
<ellipse cx="313.2" cy="314.25" rx="4.6" ry="19.25" transform="rotate(0 313.2 314.25)" fill="#e0e0e0" opacity="1" filter="url(#b1)"/>
<ellipse cx="312.9" cy="314.25" rx="3.2" ry="16.94" transform="rotate(0 312.9 314.25)" fill="#d2d2d2" opacity="1" filter="url(#b05)"/>
<ellipse cx="313.2" cy="315.25" rx="1.2" ry="11.549999999999999" transform="rotate(0 313.2 315.25)" fill="#909090" opacity="1" filter="url(#b05)"/>
<ellipse cx="313.2" cy="314.25" rx="4.2" ry="18.7" fill="none" stroke="#555" stroke-width="0.7"/>
<ellipse cx="313.0" cy="314.25" rx="3.0" ry="15.8" fill="none" stroke="#999" stroke-width="0.5"/>
<ellipse cx="313.2" cy="314.75" rx="1.9" ry="12.3" fill="none" stroke="#555" stroke-width="0.6"/>
<rect x="308.5" y="302.7" width="1.0" height="1.0" fill="#555"/><rect x="308.7" y="307.0" width="0.8" height="0.8" fill="#555"/><rect x="310.1" y="326.9" width="0.8" height="0.8" fill="#777"/><rect x="309.3" y="298.7" width="0.8" height="0.8" fill="#333"/><rect x="308.3" y="308.0" width="0.7" height="0.7" fill="#555"/><rect x="308.5" y="327.9" width="0.9" height="0.9" fill="#555"/><rect x="307.5" y="301.4" width="0.8" height="0.8" fill="#333"/><rect x="310.0" y="303.3" width="0.7" height="0.7" fill="#777"/><rect x="309.3" y="311.1" width="0.8" height="0.8" fill="#555"/><rect x="309.4" y="319.5" width="0.9" height="0.9" fill="#333"/><rect x="308.1" y="310.9" width="0.8" height="0.8" fill="#777"/><rect x="308.6" y="323.6" width="0.9" height="0.9" fill="#777"/><rect x="307.7" y="325.7" width="1.1" height="1.1" fill="#333"/><rect x="308.5" y="307.5" width="0.8" height="0.8" fill="#555"/><rect x="309.9" y="312.5" width="0.8" height="0.8" fill="#777"/><rect x="308.6" y="323.9" width="0.7" height="0.7" fill="#333"/><rect x="309.7" y="312.6" width="0.9" height="0.9" fill="#555"/><rect x="308.7" y="306.3" width="0.9" height="0.9" fill="#777"/>
<rect x="318.0" y="303.1" width="0.9" height="0.9" fill="#444"/><rect x="316.7" y="313.7" width="1.1" height="1.1" fill="#666"/><rect x="318.7" y="318.9" width="0.9" height="0.9" fill="#888"/><rect x="318.6" y="322.1" width="0.8" height="0.8" fill="#888"/><rect x="317.0" y="302.2" width="0.8" height="0.8" fill="#666"/><rect x="318.6" y="307.3" width="0.9" height="0.9" fill="#888"/><rect x="316.2" y="329.3" width="0.8" height="0.8" fill="#666"/><rect x="318.2" y="318.8" width="1.1" height="1.1" fill="#444"/><rect x="317.1" y="306.9" width="0.9" height="0.9" fill="#666"/><rect x="318.0" y="310.2" width="1.0" height="1.0" fill="#666"/><rect x="316.7" y="330.3" width="1.0" height="1.0" fill="#888"/><rect x="317.4" y="324.0" width="1.1" height="1.1" fill="#444"/>
<rect x="293.4" y="276.8" width="1.0" height="1.0" fill="#555"/><rect x="299.8" y="283.1" width="1.2" height="1.2" fill="#333"/><rect x="286.8" y="275.9" width="1.0" height="1.0" fill="#111"/><rect x="298.8" y="274.7" width="1.3" height="1.3" fill="#333"/><rect x="292.7" y="275.4" width="1.2" height="1.2" fill="#111"/><rect x="289.4" y="281.2" width="1.1" height="1.1" fill="#333"/><rect x="293.0" y="276.1" width="1.3" height="1.3" fill="#555"/><rect x="301.2" y="269.6" width="1.1" height="1.1" fill="#111"/><rect x="301.5" y="274.6" width="0.9" height="0.9" fill="#333"/><rect x="286.7" y="278.8" width="1.0" height="1.0" fill="#333"/><rect x="283.7" y="274.0" width="1.1" height="1.1" fill="#111"/><rect x="298.7" y="277.3" width="1.0" height="1.0" fill="#111"/><rect x="292.3" y="272.6" width="1.2" height="1.2" fill="#333"/><rect x="305.2" y="276.4" width="1.0" height="1.0" fill="#333"/><rect x="298.5" y="277.6" width="1.1" height="1.1" fill="#111"/><rect x="297.8" y="279.5" width="1.2" height="1.2" fill="#333"/><rect x="291.3" y="275.4" width="1.0" height="1.0" fill="#111"/><rect x="297.5" y="280.2" width="1.3" height="1.3" fill="#333"/><rect x="304.6" y="277.6" width="1.2" height="1.2" fill="#333"/><rect x="292.8" y="277.6" width="1.0" height="1.0" fill="#333"/><rect x="293.8" y="275.8" width="1.2" height="1.2" fill="#111"/><rect x="289.5" y="274.7" width="1.1" height="1.1" fill="#333"/><rect x="294.0" y="280.7" width="1.2" height="1.2" fill="#555"/><rect x="296.5" y="277.0" width="1.0" height="1.0" fill="#555"/><rect x="291.0" y="277.9" width="1.2" height="1.2" fill="#555"/><rect x="300.0" y="277.8" width="1.2" height="1.2" fill="#333"/><rect x="288.2" y="282.7" width="1.1" height="1.1" fill="#111"/><rect x="302.0" y="273.6" width="1.2" height="1.2" fill="#555"/><rect x="291.1" y="276.7" width="1.2" height="1.2" fill="#555"/><rect x="299.8" y="275.8" width="1.3" height="1.3" fill="#333"/><rect x="293.6" y="277.8" width="1.1" height="1.1" fill="#111"/><rect x="291.8" y="276.7" width="1.2" height="1.2" fill="#111"/><rect x="291.3" y="275.4" width="1.2" height="1.2" fill="#555"/><rect x="291.1" y="278.9" width="1.1" height="1.1" fill="#111"/><rect x="292.0" y="277.2" width="1.0" height="1.0" fill="#333"/><rect x="292.1" y="280.0" width="1.3" height="1.3" fill="#111"/><rect x="296.7" y="275.9" width="1.2" height="1.2" fill="#111"/><rect x="294.3" y="274.7" width="1.3" height="1.3" fill="#333"/><rect x="301.7" y="277.5" width="1.0" height="1.0" fill="#333"/><rect x="303.2" y="279.8" width="1.2" height="1.2" fill="#555"/><rect x="294.2" y="279.9" width="1.2" height="1.2" fill="#555"/><rect x="293.4" y="280.2" width="1.0" height="1.0" fill="#111"/><rect x="296.4" y="278.2" width="1.0" height="1.0" fill="#555"/><rect x="291.5" y="278.8" width="0.9" height="0.9" fill="#333"/><rect x="291.6" y="279.4" width="1.2" height="1.2" fill="#333"/><rect x="300.3" y="278.9" width="1.0" height="1.0" fill="#555"/><rect x="298.6" y="280.6" width="1.0" height="1.0" fill="#555"/><rect x="292.8" y="278.2" width="1.0" height="1.0" fill="#555"/><rect x="286.5" y="278.5" width="1.1" height="1.1" fill="#333"/><rect x="288.6" y="279.4" width="1.0" height="1.0" fill="#555"/><rect x="293.6" y="283.1" width="1.3" height="1.3" fill="#111"/><rect x="303.9" y="278.7" width="1.0" height="1.0" fill="#555"/><rect x="302.9" y="278.9" width="1.1" height="1.1" fill="#555"/><rect x="291.2" y="281.6" width="1.0" height="1.0" fill="#555"/><rect x="299.2" y="279.4" width="1.2" height="1.2" fill="#111"/><rect x="295.6" y="279.9" width="1.1" height="1.1" fill="#555"/><rect x="298.8" y="275.7" width="1.2" height="1.2" fill="#111"/><rect x="295.3" y="275.8" width="1.1" height="1.1" fill="#333"/><rect x="295.6" y="278.5" width="1.1" height="1.1" fill="#333"/><rect x="306.0" y="275.9" width="1.3" height="1.3" fill="#333"/><rect x="301.1" y="281.0" width="1.1" height="1.1" fill="#111"/><rect x="296.9" y="270.7" width="0.9" height="0.9" fill="#333"/><rect x="291.9" y="278.3" width="1.1" height="1.1" fill="#111"/><rect x="286.1" y="276.6" width="1.0" height="1.0" fill="#555"/><rect x="298.9" y="277.1" width="1.2" height="1.2" fill="#333"/><rect x="290.8" y="280.5" width="1.0" height="1.0" fill="#555"/><rect x="300.6" y="273.5" width="1.1" height="1.1" fill="#333"/><rect x="303.2" y="276.3" width="0.9" height="0.9" fill="#333"/><rect x="303.1" y="278.4" width="1.0" height="1.0" fill="#555"/><rect x="299.6" y="270.3" width="1.3" height="1.3" fill="#555"/><rect x="303.4" y="281.6" width="1.2" height="1.2" fill="#555"/><rect x="300.6" y="280.1" width="1.1" height="1.1" fill="#555"/><rect x="301.2" y="276.3" width="1.3" height="1.3" fill="#333"/><rect x="292.1" y="279.6" width="0.9" height="0.9" fill="#111"/><rect x="293.8" y="275.5" width="1.2" height="1.2" fill="#111"/><rect x="297.0" y="281.4" width="1.2" height="1.2" fill="#555"/><rect x="306.2" y="277.1" width="1.0" height="1.0" fill="#111"/><rect x="302.9" y="273.2" width="1.1" height="1.1" fill="#111"/><rect x="299.7" y="273.5" width="1.2" height="1.2" fill="#111"/><rect x="296.1" y="276.2" width="1.2" height="1.2" fill="#111"/><rect x="297.8" y="279.7" width="1.2" height="1.2" fill="#111"/><rect x="301.7" y="270.6" width="1.0" height="1.0" fill="#111"/><rect x="295.7" y="277.7" width="1.2" height="1.2" fill="#555"/><rect x="302.6" y="282.3" width="1.1" height="1.1" fill="#111"/><rect x="302.8" y="279.6" width="0.9" height="0.9" fill="#333"/><rect x="295.7" y="277.8" width="0.9" height="0.9" fill="#111"/><rect x="300.3" y="284.1" width="1.1" height="1.1" fill="#555"/><rect x="298.9" y="275.9" width="1.2" height="1.2" fill="#333"/><rect x="286.8" y="277.5" width="1.0" height="1.0" fill="#555"/><rect x="287.5" y="273.2" width="1.0" height="1.0" fill="#333"/><rect x="290.2" y="275.6" width="1.0" height="1.0" fill="#111"/><rect x="294.6" y="277.1" width="0.9" height="0.9" fill="#555"/><rect x="289.6" y="277.4" width="1.2" height="1.2" fill="#555"/><rect x="287.3" y="276.0" width="1.2" height="1.2" fill="#111"/><rect x="294.4" y="275.3" width="1.1" height="1.1" fill="#333"/><rect x="289.4" y="276.1" width="1.1" height="1.1" fill="#333"/><rect x="294.6" y="279.5" width="1.1" height="1.1" fill="#555"/><rect x="297.8" y="275.0" width="1.0" height="1.0" fill="#555"/><rect x="300.0" y="278.0" width="1.2" height="1.2" fill="#333"/><rect x="296.6" y="275.6" width="0.9" height="0.9" fill="#111"/><rect x="296.1" y="277.5" width="1.2" height="1.2" fill="#555"/><rect x="297.1" y="276.7" width="1.0" height="1.0" fill="#111"/><rect x="302.5" y="279.3" width="1.2" height="1.2" fill="#333"/><rect x="293.6" y="277.4" width="1.2" height="1.2" fill="#333"/><rect x="305.3" y="276.1" width="1.0" height="1.0" fill="#333"/><rect x="297.0" y="280.5" width="1.3" height="1.3" fill="#555"/><rect x="301.3" y="279.0" width="1.3" height="1.3" fill="#333"/><rect x="283.0" y="277.4" width="1.2" height="1.2" fill="#555"/><rect x="293.8" y="272.9" width="1.3" height="1.3" fill="#555"/><rect x="290.9" y="280.7" width="0.9" height="0.9" fill="#333"/>
<rect x="287.7" y="288.6" width="1.0" height="1.0" fill="#333"/><rect x="298.2" y="278.8" width="0.8" height="0.8" fill="#666"/><rect x="282.8" y="282.2" width="1.0" height="1.0" fill="#666"/><rect x="310.0" y="284.5" width="0.7" height="0.7" fill="#333"/><rect x="283.4" y="278.2" width="0.9" height="0.9" fill="#666"/><rect x="306.1" y="279.0" width="0.8" height="0.8" fill="#555"/><rect x="285.3" y="276.1" width="0.9" height="0.9" fill="#666"/><rect x="287.9" y="281.7" width="0.8" height="0.8" fill="#555"/><rect x="289.1" y="284.0" width="0.8" height="0.8" fill="#555"/><rect x="298.2" y="278.9" width="1.1" height="1.1" fill="#666"/><rect x="285.4" y="286.4" width="0.8" height="0.8" fill="#888"/><rect x="310.4" y="273.1" width="0.8" height="0.8" fill="#333"/><rect x="293.2" y="288.4" width="0.8" height="0.8" fill="#666"/><rect x="301.1" y="277.6" width="0.8" height="0.8" fill="#555"/><rect x="284.0" y="288.3" width="1.1" height="1.1" fill="#888"/><rect x="295.9" y="281.9" width="0.8" height="0.8" fill="#666"/><rect x="310.5" y="285.4" width="0.8" height="0.8" fill="#888"/><rect x="285.8" y="289.2" width="0.7" height="0.7" fill="#333"/><rect x="305.5" y="281.0" width="0.8" height="0.8" fill="#555"/><rect x="310.6" y="286.5" width="1.0" height="1.0" fill="#333"/><rect x="301.6" y="287.7" width="1.0" height="1.0" fill="#333"/><rect x="297.8" y="270.5" width="0.9" height="0.9" fill="#333"/><rect x="305.5" y="281.7" width="0.9" height="0.9" fill="#555"/><rect x="295.2" y="280.9" width="1.0" height="1.0" fill="#888"/><rect x="281.4" y="289.6" width="0.8" height="0.8" fill="#333"/><rect x="292.3" y="285.6" width="1.0" height="1.0" fill="#666"/><rect x="302.0" y="284.9" width="1.1" height="1.1" fill="#666"/><rect x="288.7" y="275.4" width="0.7" height="0.7" fill="#333"/><rect x="282.6" y="277.6" width="0.9" height="0.9" fill="#888"/><rect x="290.5" y="275.4" width="1.0" height="1.0" fill="#666"/>
<rect x="269.5" y="328.6" width="0.7" height="0.7" fill="#555"/><rect x="263.3" y="310.9" width="0.9" height="0.9" fill="#555"/><rect x="285.3" y="323.4" width="1.1" height="1.1" fill="#777"/><rect x="268.9" y="311.0" width="0.7" height="0.7" fill="#999"/><rect x="275.4" y="303.0" width="0.9" height="0.9" fill="#555"/><rect x="267.4" y="308.3" width="1.0" height="1.0" fill="#999"/><rect x="302.6" y="315.7" width="0.8" height="0.8" fill="#777"/><rect x="289.2" y="317.0" width="0.8" height="0.8" fill="#555"/><rect x="267.6" y="303.8" width="0.9" height="0.9" fill="#555"/><rect x="274.7" y="302.7" width="0.8" height="0.8" fill="#555"/><rect x="279.0" y="326.0" width="0.7" height="0.7" fill="#777"/><rect x="287.5" y="314.0" width="1.0" height="1.0" fill="#555"/><rect x="294.1" y="316.8" width="1.0" height="1.0" fill="#999"/><rect x="298.4" y="317.9" width="0.9" height="0.9" fill="#555"/><rect x="298.8" y="309.3" width="0.9" height="0.9" fill="#999"/><rect x="266.1" y="304.3" width="1.1" height="1.1" fill="#777"/><rect x="295.4" y="328.8" width="0.8" height="0.8" fill="#555"/><rect x="293.4" y="307.6" width="0.7" height="0.7" fill="#777"/><rect x="276.4" y="303.4" width="1.0" height="1.0" fill="#777"/><rect x="289.4" y="299.5" width="0.8" height="0.8" fill="#999"/><rect x="283.6" y="324.1" width="1.1" height="1.1" fill="#777"/><rect x="291.9" y="316.6" width="1.0" height="1.0" fill="#777"/><rect x="293.9" y="317.4" width="0.8" height="0.8" fill="#777"/><rect x="267.8" y="300.5" width="1.0" height="1.0" fill="#999"/><rect x="265.6" y="304.8" width="1.1" height="1.1" fill="#555"/><rect x="263.7" y="330.4" width="0.8" height="0.8" fill="#999"/><rect x="269.6" y="330.0" width="0.9" height="0.9" fill="#555"/><rect x="300.6" y="301.6" width="0.8" height="0.8" fill="#999"/><rect x="280.6" y="319.8" width="1.0" height="1.0" fill="#555"/><rect x="301.1" y="299.8" width="0.7" height="0.7" fill="#555"/>
<rect x="307.3" y="330.3" width="1.0" height="1.0" fill="#555"/><rect x="303.1" y="315.0" width="1.2" height="1.2" fill="#888"/><rect x="308.8" y="325.7" width="0.8" height="0.8" fill="#555"/><rect x="306.8" y="306.6" width="1.1" height="1.1" fill="#888"/><rect x="308.5" y="296.3" width="1.0" height="1.0" fill="#555"/><rect x="306.8" y="312.1" width="1.0" height="1.0" fill="#666"/><rect x="308.7" y="295.3" width="1.2" height="1.2" fill="#888"/><rect x="305.9" y="315.9" width="0.8" height="0.8" fill="#888"/><rect x="307.0" y="326.3" width="0.9" height="0.9" fill="#333"/><rect x="306.5" y="296.7" width="0.8" height="0.8" fill="#333"/><rect x="302.6" y="310.2" width="0.9" height="0.9" fill="#888"/><rect x="306.5" y="311.9" width="1.0" height="1.0" fill="#888"/><rect x="306.1" y="315.2" width="1.0" height="1.0" fill="#888"/><rect x="308.8" y="331.3" width="1.1" height="1.1" fill="#888"/><rect x="302.5" y="299.7" width="0.9" height="0.9" fill="#555"/><rect x="305.8" y="329.9" width="1.1" height="1.1" fill="#555"/><rect x="308.7" y="303.4" width="0.9" height="0.9" fill="#333"/><rect x="304.8" y="305.9" width="0.8" height="0.8" fill="#888"/><rect x="304.1" y="320.6" width="1.0" height="1.0" fill="#666"/><rect x="307.3" y="316.8" width="1.1" height="1.1" fill="#555"/><rect x="305.3" y="312.6" width="0.9" height="0.9" fill="#333"/><rect x="302.7" y="331.0" width="0.9" height="0.9" fill="#333"/><rect x="308.0" y="326.0" width="1.0" height="1.0" fill="#555"/><rect x="303.6" y="309.0" width="1.0" height="1.0" fill="#333"/><rect x="304.3" y="317.1" width="1.2" height="1.2" fill="#888"/><rect x="306.2" y="299.3" width="1.1" height="1.1" fill="#666"/><rect x="304.3" y="322.3" width="1.1" height="1.1" fill="#555"/><rect x="303.2" y="331.7" width="1.0" height="1.0" fill="#333"/><rect x="305.2" y="332.4" width="0.9" height="0.9" fill="#555"/><rect x="308.6" y="298.9" width="0.9" height="0.9" fill="#888"/><rect x="305.7" y="331.4" width="0.9" height="0.9" fill="#333"/><rect x="302.5" y="315.3" width="1.1" height="1.1" fill="#666"/><rect x="302.5" y="316.1" width="1.1" height="1.1" fill="#888"/><rect x="308.1" y="304.8" width="1.1" height="1.1" fill="#333"/><rect x="304.4" y="295.9" width="0.9" height="0.9" fill="#333"/>
<rect x="315.9" y="283.0" width="1.0" height="1.0" fill="#555"/><rect x="315.6" y="282.1" width="1.1" height="1.1" fill="#333"/><rect x="313.2" y="293.3" width="1.0" height="1.0" fill="#111"/><rect x="314.9" y="294.2" width="1.2" height="1.2" fill="#333"/><rect x="312.7" y="283.9" width="1.0" height="1.0" fill="#555"/><rect x="314.1" y="283.5" width="1.1" height="1.1" fill="#555"/><rect x="313.3" y="279.3" width="1.0" height="1.0" fill="#555"/><rect x="314.2" y="278.8" width="1.0" height="1.0" fill="#111"/><rect x="312.2" y="278.4" width="0.9" height="0.9" fill="#333"/><rect x="312.6" y="284.4" width="1.2" height="1.2" fill="#333"/><rect x="315.3" y="286.7" width="0.9" height="0.9" fill="#555"/><rect x="313.7" y="284.7" width="1.1" height="1.1" fill="#555"/><rect x="313.3" y="293.0" width="1.0" height="1.0" fill="#111"/><rect x="310.4" y="288.1" width="1.2" height="1.2" fill="#333"/><rect x="313.6" y="291.8" width="1.0" height="1.0" fill="#555"/><rect x="313.8" y="290.9" width="1.3" height="1.3" fill="#555"/><rect x="315.0" y="286.3" width="1.0" height="1.0" fill="#333"/><rect x="312.7" y="285.1" width="1.1" height="1.1" fill="#333"/><rect x="313.1" y="294.3" width="1.1" height="1.1" fill="#111"/><rect x="312.2" y="283.4" width="1.0" height="1.0" fill="#111"/><rect x="316.8" y="286.1" width="1.1" height="1.1" fill="#333"/><rect x="312.8" y="292.9" width="1.2" height="1.2" fill="#333"/><rect x="315.6" y="288.1" width="1.2" height="1.2" fill="#333"/><rect x="312.9" y="282.0" width="1.2" height="1.2" fill="#555"/><rect x="314.0" y="290.5" width="1.3" height="1.3" fill="#333"/><rect x="311.8" y="277.9" width="1.3" height="1.3" fill="#555"/><rect x="312.3" y="289.3" width="1.1" height="1.1" fill="#555"/><rect x="315.2" y="287.4" width="1.2" height="1.2" fill="#333"/><rect x="315.8" y="281.7" width="1.1" height="1.1" fill="#111"/><rect x="313.5" y="288.2" width="1.3" height="1.3" fill="#111"/>
<ellipse cx="243" cy="219.0" rx="1.7" ry="2.6" fill="#111"/>
<ellipse cx="243" cy="254" rx="1.6" ry="2.4" fill="#111"/>
<ellipse cx="314.6" cy="257" rx="1.6" ry="1.6" fill="#111"/>
<ellipse cx="241.2" cy="288" rx="1.4" ry="3" fill="#111"/>
<ellipse cx="313.6" cy="287" rx="1.8" ry="3.5" fill="#111"/>
<path d="M312.5,255 L316.7,259 M316.7,255 L312.5,259" stroke="#111" stroke-width="1.2"/>
<rect x="186.8" y="190.5" width="145.2" height="143.8" fill="none" stroke="#888" stroke-width="1" />
<line x1="186.8" y1="334.3" x2="332" y2="334.3" stroke="#555" stroke-width="1.1" />
<line x1="191" y1="334.3" x2="191" y2="336" stroke="#777" stroke-width="0.8" />
<line x1="198" y1="334.3" x2="198" y2="336" stroke="#777" stroke-width="0.8" />
<line x1="206" y1="334.3" x2="206" y2="336" stroke="#777" stroke-width="0.8" />
<line x1="223" y1="334.3" x2="223" y2="336" stroke="#777" stroke-width="0.8" />
<line x1="240" y1="334.3" x2="240" y2="336" stroke="#777" stroke-width="0.8" />
<line x1="264" y1="334.3" x2="264" y2="336" stroke="#777" stroke-width="0.8" />
<line x1="271" y1="334.3" x2="271" y2="336" stroke="#777" stroke-width="0.8" />
<line x1="279" y1="334.3" x2="279" y2="336" stroke="#777" stroke-width="0.8" />
<line x1="296" y1="334.3" x2="296" y2="336" stroke="#777" stroke-width="0.8" />
<line x1="313" y1="334.3" x2="313" y2="336" stroke="#777" stroke-width="0.8" />
<line x1="185.2" y1="196" x2="186.8" y2="196" stroke="#777" stroke-width="0.8" />
<line x1="185.2" y1="203" x2="186.8" y2="203" stroke="#777" stroke-width="0.8" />
<line x1="185.2" y1="211" x2="186.8" y2="211" stroke="#777" stroke-width="0.8" />
<line x1="185.2" y1="228" x2="186.8" y2="228" stroke="#777" stroke-width="0.8" />
<line x1="185.2" y1="245" x2="186.8" y2="245" stroke="#777" stroke-width="0.8" />
<line x1="185.2" y1="268" x2="186.8" y2="268" stroke="#777" stroke-width="0.8" />
<line x1="185.2" y1="275" x2="186.8" y2="275" stroke="#777" stroke-width="0.8" />
<line x1="185.2" y1="283" x2="186.8" y2="283" stroke="#777" stroke-width="0.8" />
<line x1="185.2" y1="300" x2="186.8" y2="300" stroke="#777" stroke-width="0.8" />
<line x1="185.2" y1="317" x2="186.8" y2="317" stroke="#777" stroke-width="0.8" />
<line x1="259.2" y1="190.5" x2="259.2" y2="334" stroke="#888" stroke-width="1" />
<line x1="186.8" y1="262.8" x2="332" y2="262.8" stroke="#333" stroke-width="1.2" />
<rect x="189.6" y="194.1" width="48.2" height="25.9" fill="none" stroke="#111" stroke-width="1.9" />
<rect x="262.9" y="194.1" width="48.2" height="25.9" fill="none" stroke="#111" stroke-width="1.9" />
<rect x="189.6" y="266.9" width="48.2" height="25.9" fill="none" stroke="#111" stroke-width="1.9" />
<rect x="262.9" y="266.9" width="48.2" height="25.9" fill="none" stroke="#111" stroke-width="1.9" />
<rect x="233.6" y="223.2" width="19.2" height="38.5" fill="none" stroke="#999" stroke-width="1" />
<rect x="306.3" y="223.2" width="19.2" height="38.5" fill="none" stroke="#999" stroke-width="1" />
<rect x="233.6" y="296.1" width="19.2" height="37.8" fill="none" stroke="#999" stroke-width="1" />
<rect x="305.8" y="296.1" width="19.2" height="37.8" fill="none" stroke="#999" stroke-width="1" />
<text x="189.9" y="218.9" font-size="9.8" font-weight="normal" text-anchor="start" fill="#111" style="stroke:#111;stroke-width:0.5px" >0.3</text>
<text x="265.9" y="218.9" font-size="9.8" font-weight="normal" text-anchor="start" fill="#111" style="stroke:#111;stroke-width:0.5px" >5.4</text>
<text x="189.9" y="291.6" font-size="9.8" font-weight="normal" text-anchor="start" fill="#111" style="stroke:#111;stroke-width:0.5px" >0.9</text>
<text x="265.9" y="291.6" font-size="9.8" font-weight="normal" text-anchor="start" fill="#111" style="stroke:#111;stroke-width:0.5px" >1.5</text>
<text x="360.9" y="175.1" font-size="16.6" font-weight="bold" text-anchor="start" fill="#000" style="stroke:#000;stroke-width:0.6px" >E</text>
<line x1="387" y1="170.1" x2="393.8" y2="170.1" stroke="#999" stroke-width="1.5" />
<line x1="387" y1="182.4" x2="393.8" y2="182.4" stroke="#000" stroke-width="1.8" />
<text x="397" y="173.6" font-size="10.6" font-weight="normal" text-anchor="start" fill="#111" style="stroke:#111;stroke-width:0.4px" >Non-proliferating (CFSE<tspan font-size="6.6" dy="-4">hi</tspan><tspan dy="4">)</tspan></text>
<text x="397" y="185.6" font-size="10.6" font-weight="normal" text-anchor="start" fill="#111" style="stroke:#111;stroke-width:0.4px" >Proliferating (CFSE<tspan font-size="6.6" dy="-4">lo</tspan><tspan dy="4">)</tspan></text>
<rect x="386.3" y="191.0" width="71.9" height="71.5" fill="none" stroke="#777" stroke-width="1.0" />
<rect x="386.2" y="265.0" width="72.0" height="69.6" fill="none" stroke="#777" stroke-width="1.0" />
<line x1="384.8" y1="194.5" x2="386.5" y2="194.5" stroke="#777" stroke-width="0.8" />
<line x1="384.8" y1="197.5" x2="386.5" y2="197.5" stroke="#777" stroke-width="0.8" />
<line x1="384.8" y1="205" x2="386.5" y2="205" stroke="#777" stroke-width="0.8" />
<line x1="384.8" y1="215" x2="386.5" y2="215" stroke="#777" stroke-width="0.8" />
<line x1="384.8" y1="225" x2="386.5" y2="225" stroke="#777" stroke-width="0.8" />
<line x1="384.8" y1="235" x2="386.5" y2="235" stroke="#777" stroke-width="0.8" />
<line x1="384.8" y1="245" x2="386.5" y2="245" stroke="#777" stroke-width="0.8" />
<line x1="384.8" y1="255" x2="386.5" y2="255" stroke="#777" stroke-width="0.8" />
<line x1="384.6" y1="268.5" x2="386.3" y2="268.5" stroke="#777" stroke-width="0.8" />
<line x1="384.6" y1="271.5" x2="386.3" y2="271.5" stroke="#777" stroke-width="0.8" />
<line x1="384.6" y1="279" x2="386.3" y2="279" stroke="#777" stroke-width="0.8" />
<line x1="384.6" y1="289" x2="386.3" y2="289" stroke="#777" stroke-width="0.8" />
<line x1="384.6" y1="299" x2="386.3" y2="299" stroke="#777" stroke-width="0.8" />
<line x1="384.6" y1="309" x2="386.3" y2="309" stroke="#777" stroke-width="0.8" />
<line x1="384.6" y1="319" x2="386.3" y2="319" stroke="#777" stroke-width="0.8" />
<line x1="384.6" y1="329" x2="386.3" y2="329" stroke="#777" stroke-width="0.8" />
<line x1="395" y1="265" x2="395" y2="266.4" stroke="#888" stroke-width="0.7" />
<line x1="395" y1="334.6" x2="395" y2="336" stroke="#888" stroke-width="0.7" />
<line x1="405" y1="265" x2="405" y2="266.4" stroke="#888" stroke-width="0.7" />
<line x1="405" y1="334.6" x2="405" y2="336" stroke="#888" stroke-width="0.7" />
<line x1="415" y1="265" x2="415" y2="266.4" stroke="#888" stroke-width="0.7" />
<line x1="415" y1="334.6" x2="415" y2="336" stroke="#888" stroke-width="0.7" />
<line x1="425" y1="265" x2="425" y2="266.4" stroke="#888" stroke-width="0.7" />
<line x1="425" y1="334.6" x2="425" y2="336" stroke="#888" stroke-width="0.7" />
<line x1="435" y1="265" x2="435" y2="266.4" stroke="#888" stroke-width="0.7" />
<line x1="435" y1="334.6" x2="435" y2="336" stroke="#888" stroke-width="0.7" />
<line x1="445" y1="265" x2="445" y2="266.4" stroke="#888" stroke-width="0.7" />
<line x1="445" y1="334.6" x2="445" y2="336" stroke="#888" stroke-width="0.7" />
<text x="423" y="348.3" font-size="10.7" font-weight="normal" text-anchor="middle" fill="#111" style="stroke:#111;stroke-width:0.5px" >CD45RO</text>
<path d="M386.5,262.4 L392.6,262.0 L395.0,259.0 L397.2,251.7 L398.5,235.0 L399.5,219.5 L401.0,203.4 L402.5,197.0 L403.7,194.2 L405.5,198.0 L407.0,205.0 L408.0,215.0 L409.0,228.0 L409.9,242.5 L411.0,249.0 L412.0,253.0 L414.5,258.6 L416.8,261.5 L420.0,262.4" fill="none" stroke="#a0a0a0" stroke-width="1.3" stroke-linejoin="round"/>
<path d="M386.5,262.4 L400.0,262.4 L401.8,261.5 L403.5,258.0 L405.0,252.0 L406.0,244.8 L407.0,241.0 L407.6,238.0 L408.5,243.0 L409.9,246.0 L410.3,225.0 L410.6,208.0 L411.3,200.0 L412.2,197.6 L413.2,203.0 L414.5,206.8 L415.5,200.0 L416.8,197.6 L417.6,203.0 L418.6,205.7 L419.4,201.0 L420.2,200.0 L421.2,197.0 L422.5,194.2 L423.3,203.0 L424.1,210.3 L425.0,211.0 L426.0,213.7 L427.1,219.5 L428.3,216.0 L429.2,222.0 L430.1,223.0 L431.0,217.2 L431.8,222.0 L432.4,229.8 L433.2,238.0 L434.0,244.8 L435.0,248.0 L436.3,251.7 L437.5,254.0 L438.6,256.3 L439.5,259.0 L440.2,261.5 L442.0,262.4 L458.2,262.4" fill="none" stroke="#000" stroke-width="1.5" stroke-linejoin="round"/>
<path d="M420.0,334.5 L425.8,334.2 L427.2,331.0 L428.7,325.0 L430.0,305.0 L430.9,290.0 L432.0,275.0 L433.6,268.0 L434.8,272.0 L435.9,285.0 L436.8,300.0 L437.7,315.0 L438.5,326.0 L439.2,332.0 L441.0,334.5" fill="none" stroke="#a0a0a0" stroke-width="1.3" stroke-linejoin="round"/>
<path d="M386.2,334.6 L405.0,334.6 L409.0,334.4 L411.0,333.8 L413.5,333.3 L415.5,332.3 L417.9,330.4 L419.5,330.8 L421.3,329.3 L422.5,326.5 L423.5,323.7 L424.6,321.0 L425.8,319.2 L427.4,316.9 L428.2,312.0 L428.7,306.8 L429.3,299.0 L429.8,291.1 L430.4,283.0 L430.9,275.5 L431.5,272.5 L432.1,271.0 L433.0,273.5 L433.6,274.3 L434.2,270.0 L434.8,267.6 L435.4,269.0 L435.9,272.1 L436.5,278.0 L437.0,284.4 L437.8,293.0 L438.6,302.4 L439.3,311.0 L439.9,318.0 L440.7,324.5 L441.5,329.3 L442.5,332.5 L443.7,334.4 L458.2,334.6" fill="none" stroke="#000" stroke-width="1.5" stroke-linejoin="round"/>
</svg>
</body></html>
